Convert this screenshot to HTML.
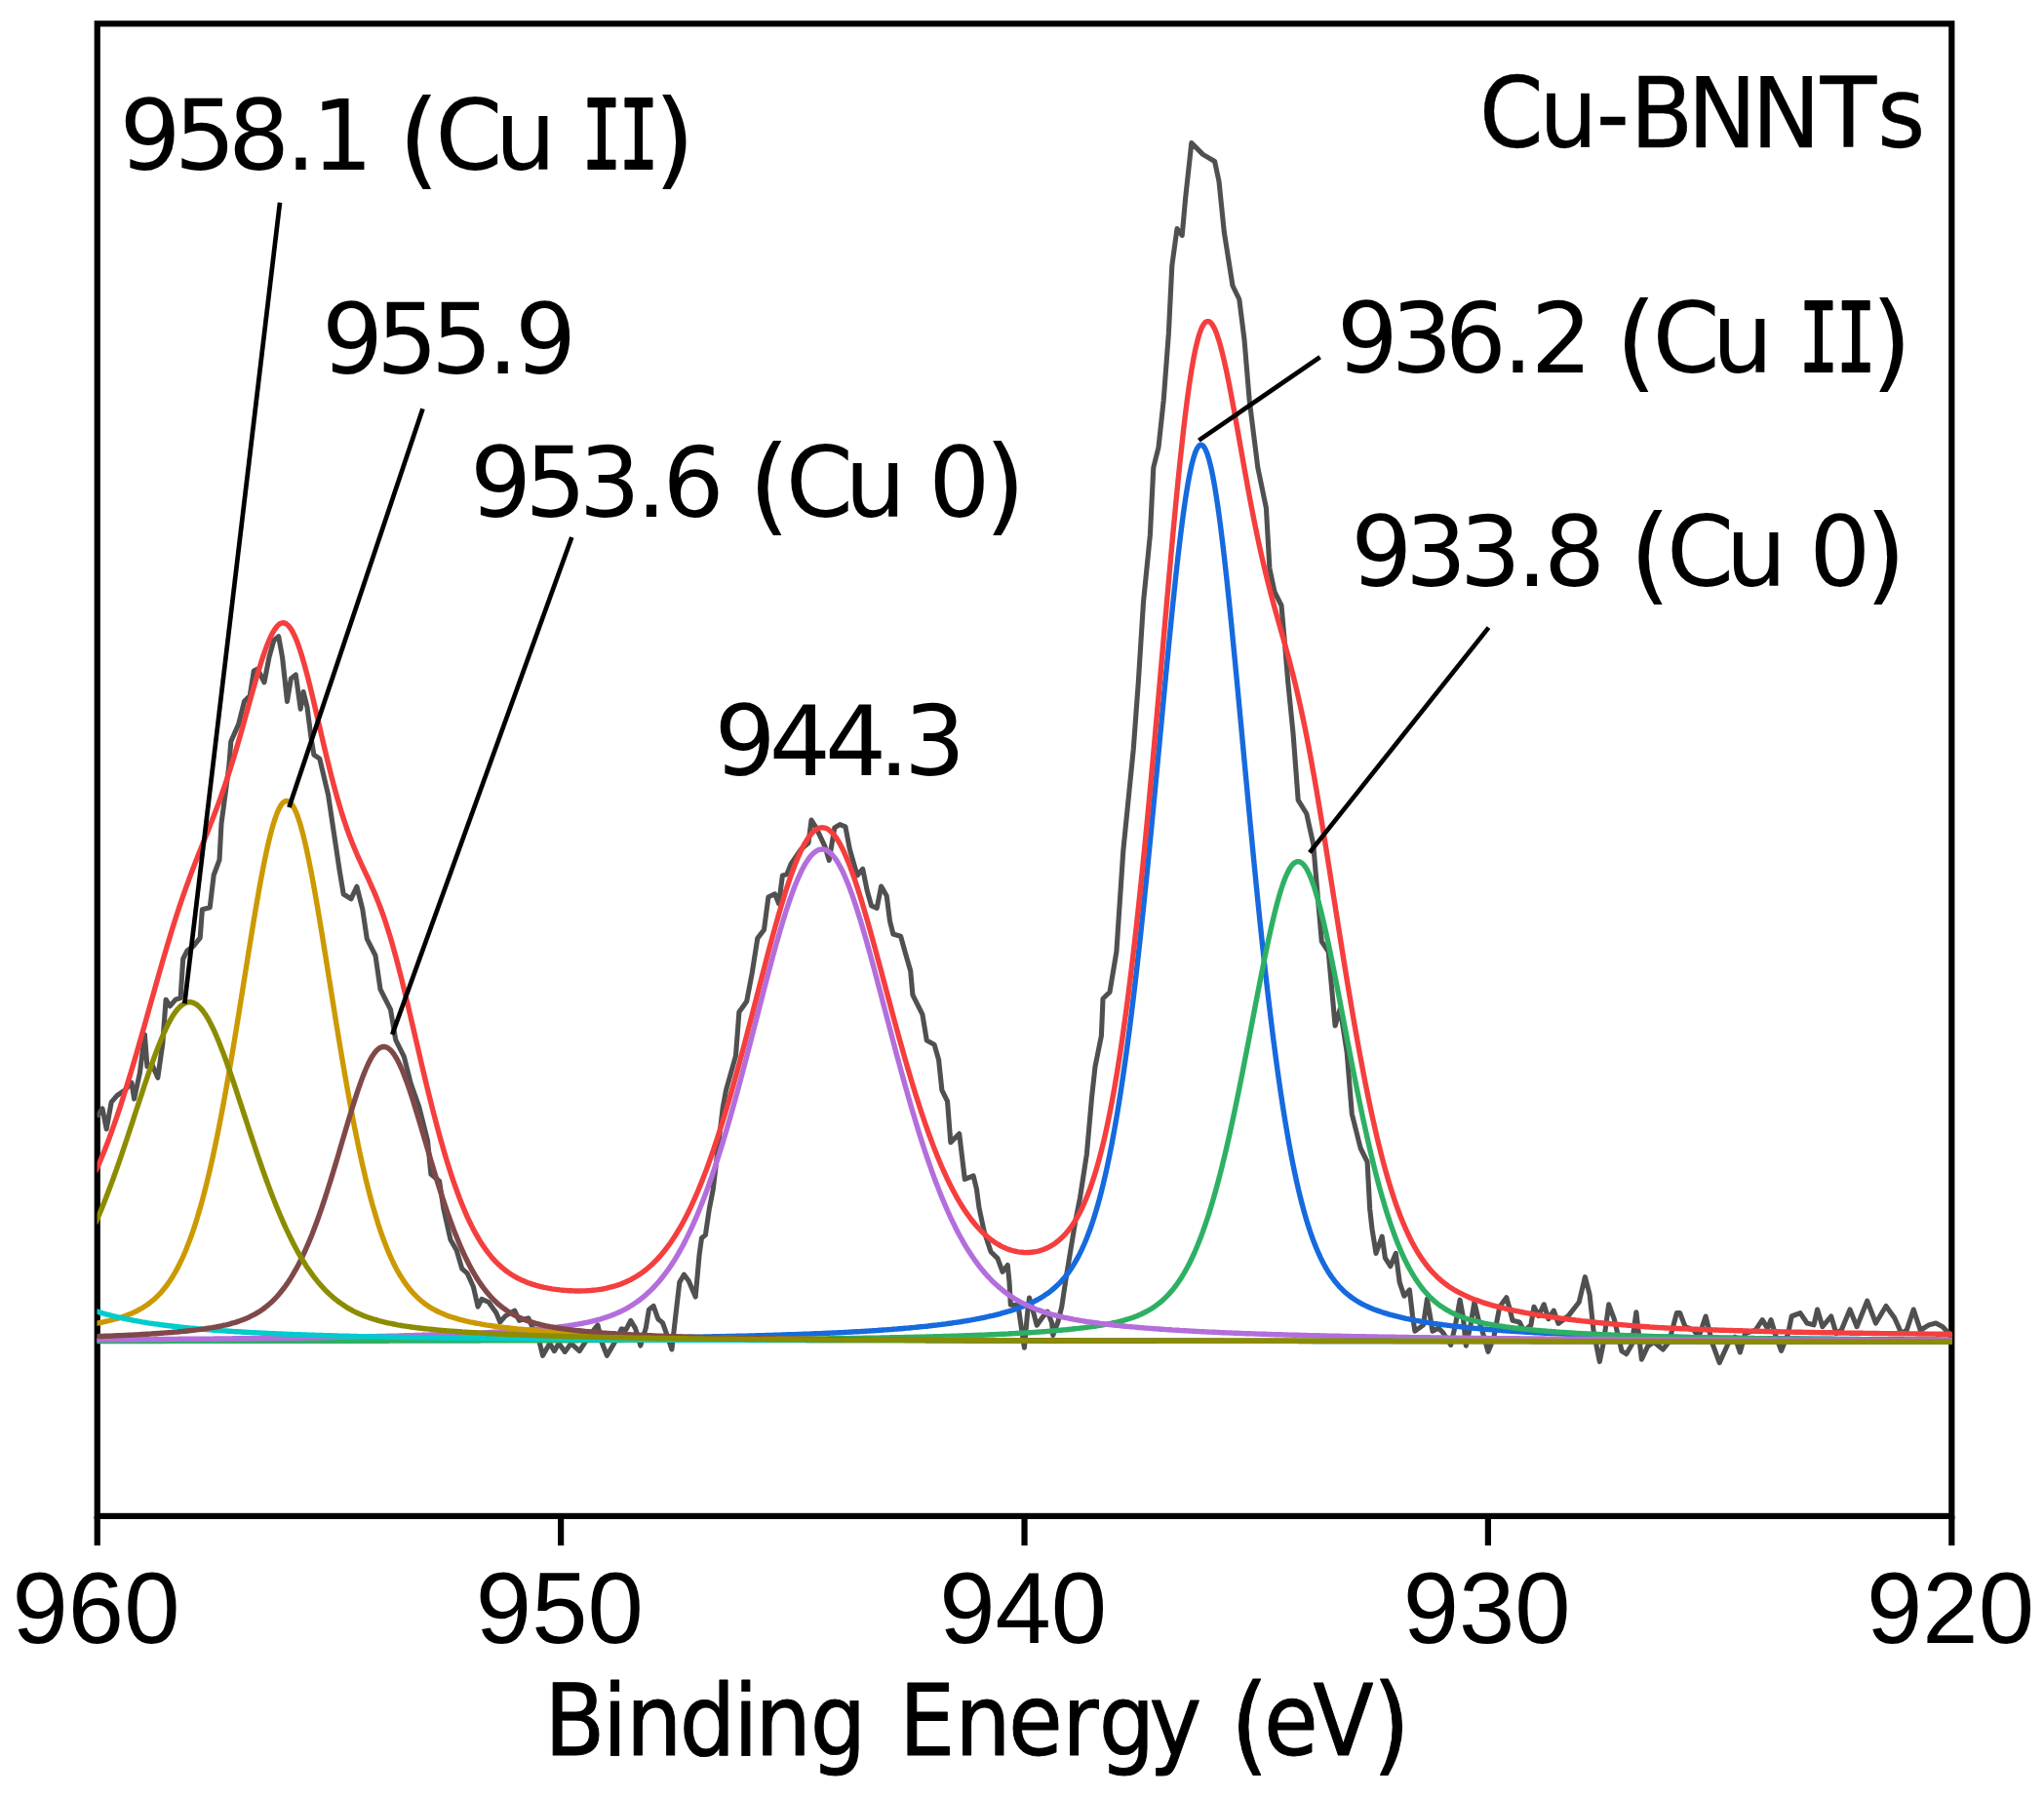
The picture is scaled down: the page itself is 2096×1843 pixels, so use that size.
<!DOCTYPE html>
<html lang="en"><head><meta charset="utf-8"><title>Cu-BNNTs XPS Cu 2p</title>
<style>
html,body{margin:0;padding:0;background:#fff;}
svg{display:block;}
.lab{font-family:"DejaVu Sans","Liberation Sans",sans-serif;fill:#000;stroke:#000;stroke-width:0;stroke-linejoin:round;}
.tick{font-family:"Liberation Sans",Arial,sans-serif;fill:#000;}
.c{fill:none;stroke-width:5.4;stroke-linejoin:round;stroke-linecap:butt;}
.a{stroke:#000;stroke-width:4.7;fill:none;}
</style></head><body>
<svg width="2096" height="1843" viewBox="0 0 2096 1843">
<rect width="2096" height="1843" fill="#ffffff"/>
<defs><clipPath id="plot"><rect x="99.5" y="23" width="1902.7" height="1532"/></clipPath></defs>

<g stroke="#000" fill="none" stroke-width="6.2">
<rect x="99.75" y="24.30" width="1901.55" height="1530.60"/>
<line x1="99.75" y1="1554.9" x2="99.75" y2="1585.1"/>
<line x1="575.14" y1="1554.9" x2="575.14" y2="1585.1"/>
<line x1="1050.53" y1="1554.9" x2="1050.53" y2="1585.1"/>
<line x1="1525.91" y1="1554.9" x2="1525.91" y2="1585.1"/>
<line x1="2001.30" y1="1554.9" x2="2001.30" y2="1585.1"/>
</g>
<g clip-path="url(#plot)">
<path class="c" stroke="#505050" style="stroke-width:5.1" d="M99.2 1145.4 L105.0 1137.0 L109.2 1158.0 L114.2 1130.4 L120.0 1123.7 L128.0 1118.0 L135.0 1110.4 L137.6 1127.0 L143.4 1100.3 L148.4 1061.0 L150.9 1093.7 L156.0 1092.0 L161.8 1105.3 L166.8 1070.3 L170.1 1025.2 L174.3 1031.9 L180.1 1025.2 L185.1 1023.5 L187.7 983.5 L192.0 975.0 L198.5 970.1 L205.2 961.8 L207.4 932.7 L215.2 930.7 L219.2 897.5 L225.0 881.8 L227.0 844.6 L230.9 815.3 L234.8 785.9 L236.8 760.5 L244.6 742.9 L250.5 719.4 L256.3 713.5 L260.3 688.0 L264.2 686.1 L271.0 699.8 L275.9 674.4 L280.8 656.8 L285.7 652.8 L289.6 674.4 L294.5 719.4 L298.4 695.9 L303.3 692.0 L308.2 727.2 L311.1 709.6 L315.0 725.2 L319.0 756.6 L321.9 774.2 L327.8 778.1 L336.6 815.3 L342.4 854.4 L348.3 893.5 L352.2 917.0 L360.0 921.9 L365.9 909.2 L371.8 932.7 L376.3 962.8 L385.0 980.0 L390.0 1014.6 L400.5 1035.3 L405.7 1066.3 L414.3 1083.6 L421.2 1111.2 L429.8 1135.3 L438.5 1169.8 L441.9 1204.3 L450.5 1211.2 L454.9 1240.0 L461.9 1271.3 L468.2 1282.3 L473.7 1301.1 L479.1 1305.8 L485.4 1319.8 L490.1 1340.2 L494.0 1332.4 L501.1 1335.5 L508.9 1346.5 L512.8 1355.9 L518.3 1349.6 L527.7 1344.1 L532.4 1354.3 L541.8 1351.9 L546.5 1362.1 L552.7 1374.6 L556.6 1390.3 L563.7 1377.8 L568.4 1385.6 L573.1 1377.8 L579.3 1386.4 L585.6 1377.8 L594.2 1385.6 L601.3 1374.6 L609.1 1363.7 L613.0 1359.0 L616.9 1376.2 L622.4 1390.3 L627.9 1380.9 L634.1 1369.9 L637.3 1362.9 L642.0 1363.7 L646.7 1354.3 L651.4 1362.1 L656.8 1380.1 L662.3 1362.1 L665.4 1343.3 L670.1 1339.4 L674.8 1352.7 L679.5 1356.6 L684.2 1369.9 L688.9 1384.0 L692.8 1349.6 L696.8 1315.1 L701.4 1307.3 L706.1 1313.6 L713.2 1330.0 L717.1 1287.0 L719.5 1269.7 L723.4 1266.6 L727.3 1240.0 L731.2 1219.9 L741.2 1136.0 L744.5 1118.2 L754.5 1082.6 L757.9 1038.0 L765.7 1027.0 L771.2 998.0 L776.8 962.4 L783.5 953.5 L787.9 920.0 L794.6 916.8 L798.6 926.8 L802.4 897.9 L806.8 896.8 L811.3 885.6 L821.3 871.2 L829.0 864.5 L832.0 841.1 L836.9 848.9 L845.8 867.8 L850.2 882.3 L855.8 848.9 L861.3 845.6 L866.9 847.8 L871.4 871.2 L879.1 897.9 L884.7 891.2 L889.2 913.5 L893.6 929.0 L899.2 931.3 L903.6 909.0 L909.2 918.8 L912.5 944.6 L915.9 958.0 L923.6 960.2 L929.2 980.2 L933.7 995.8 L935.9 1020.3 L945.9 1040.3 L950.3 1067.0 L958.1 1071.4 L962.6 1087.0 L965.9 1118.2 L971.5 1129.3 L974.8 1171.6 L983.7 1162.7 L989.3 1209.4 L998.2 1206.0 L1001.5 1219.9 L1004.0 1238.8 L1009.2 1263.0 L1016.0 1283.7 L1023.0 1290.6 L1028.0 1304.4 L1033.3 1297.5 L1035.0 1314.4 L1036.3 1338.1 L1044.0 1338.7 L1046.6 1356.6 L1050.4 1382.2 L1053.6 1346.4 L1055.5 1331.0 L1058.1 1340.0 L1063.2 1359.2 L1069.6 1350.2 L1074.1 1345.1 L1078.6 1356.6 L1079.8 1369.4 L1085.0 1355.4 L1088.8 1340.0 L1092.6 1314.4 L1097.8 1282.4 L1102.9 1251.7 L1107.5 1228.5 L1114.4 1183.6 L1119.6 1125.0 L1123.0 1094.0 L1129.4 1062.2 L1131.0 1024.3 L1138.0 1017.4 L1144.9 976.0 L1151.8 872.5 L1157.0 820.7 L1162.2 769.0 L1167.3 700.0 L1172.5 617.5 L1179.4 548.5 L1182.8 479.5 L1188.0 458.8 L1193.2 410.5 L1198.4 341.5 L1201.8 272.5 L1207.0 234.5 L1212.2 241.4 L1215.6 203.5 L1221.8 146.6 L1233.5 158.4 L1245.6 165.5 L1250.0 186.0 L1255.3 238.0 L1264.0 293.0 L1270.8 307.0 L1276.0 348.4 L1281.2 410.5 L1289.8 479.5 L1298.4 520.9 L1301.9 583.0 L1307.0 607.0 L1314.0 621.0 L1317.4 659.0 L1320.8 700.0 L1326.0 751.7 L1331.2 820.7 L1339.8 834.5 L1346.7 865.6 L1350.2 907.0 L1355.3 965.6 L1362.2 976.0 L1369.1 1051.9 L1374.3 1034.6 L1381.2 1079.5 L1386.3 1142.3 L1395.1 1177.5 L1402.1 1191.6 L1404.7 1240.0 L1407.0 1260.4 L1411.0 1285.4 L1417.2 1268.2 L1420.4 1290.1 L1425.8 1298.7 L1431.3 1285.4 L1435.2 1315.1 L1439.9 1329.2 L1445.4 1323.0 L1448.5 1349.6 L1450.9 1365.2 L1459.5 1359.0 L1463.4 1332.4 L1466.5 1349.6 L1468.9 1365.2 L1475.1 1362.1 L1479.8 1366.8 L1487.7 1379.3 L1492.4 1359.0 L1497.1 1333.2 L1500.2 1349.6 L1503.3 1380.1 L1508.0 1359.0 L1511.9 1335.5 L1515.9 1352.7 L1520.5 1366.8 L1526.0 1386.4 L1531.5 1373.1 L1537.8 1340.2 L1544.8 1330.8 L1547.9 1341.8 L1551.1 1354.3 L1558.1 1355.9 L1562.8 1365.2 L1569.9 1359.0 L1573.0 1340.2 L1577.7 1349.6 L1583.2 1337.8 L1587.9 1352.7 L1593.3 1344.1 L1598.0 1357.4 L1608.2 1349.6 L1619.2 1335.5 L1625.4 1309.7 L1630.1 1327.7 L1634.1 1365.2 L1640.3 1396.6 L1644.2 1377.8 L1649.7 1337.8 L1655.2 1352.7 L1663.0 1385.6 L1667.7 1388.7 L1673.2 1379.3 L1677.9 1345.7 L1683.4 1394.2 L1689.6 1380.9 L1695.9 1376.2 L1705.3 1384.0 L1711.5 1376.2 L1719.4 1346.5 L1722.7 1346.6 L1728.0 1360.7 L1736.8 1364.2 L1742.0 1371.2 L1749.1 1350.0 L1756.1 1378.3 L1763.2 1397.6 L1772.0 1378.3 L1779.0 1371.2 L1784.3 1387.0 L1789.6 1367.7 L1800.2 1364.2 L1807.2 1353.6 L1812.5 1362.4 L1816.0 1353.6 L1821.3 1371.2 L1826.6 1385.3 L1833.6 1367.7 L1837.2 1350.0 L1846.0 1346.6 L1853.0 1357.0 L1860.0 1358.9 L1863.6 1343.0 L1868.9 1360.7 L1877.7 1350.0 L1883.0 1367.7 L1888.2 1364.2 L1897.0 1343.0 L1904.1 1360.7 L1914.7 1334.2 L1923.5 1357.0 L1934.0 1339.5 L1942.8 1351.8 L1949.9 1367.7 L1955.2 1364.2 L1962.2 1343.0 L1969.2 1364.2 L1978.0 1358.9 L1985.1 1357.0 L1992.1 1360.7 L2002.0 1371.2"/>
<path class="c" stroke="#166ADE" d="M97.8 1375.0 L99.8 1375.0 L101.8 1375.0 L103.8 1375.0 L105.8 1375.0 L107.8 1375.0 L109.8 1375.0 L111.8 1375.0 L113.8 1375.0 L115.8 1375.0 L117.8 1374.9 L119.8 1374.9 L121.8 1374.9 L123.8 1374.9 L125.8 1374.9 L127.8 1374.9 L129.8 1374.9 L131.8 1374.9 L133.8 1374.9 L135.8 1374.9 L137.8 1374.9 L139.8 1374.9 L141.8 1374.9 L143.8 1374.9 L145.8 1374.9 L147.8 1374.9 L149.8 1374.9 L151.8 1374.9 L153.8 1374.9 L155.8 1374.9 L157.8 1374.9 L159.8 1374.9 L161.8 1374.9 L163.8 1374.9 L165.8 1374.9 L167.8 1374.8 L169.8 1374.8 L171.8 1374.8 L173.8 1374.8 L175.8 1374.8 L177.8 1374.8 L179.8 1374.8 L181.8 1374.8 L183.8 1374.8 L185.8 1374.8 L187.8 1374.8 L189.8 1374.8 L191.8 1374.8 L193.8 1374.8 L195.8 1374.8 L197.8 1374.8 L199.8 1374.8 L201.8 1374.8 L203.8 1374.8 L205.8 1374.8 L207.8 1374.8 L209.8 1374.8 L211.8 1374.7 L213.8 1374.7 L215.8 1374.7 L217.8 1374.7 L219.8 1374.7 L221.8 1374.7 L223.8 1374.7 L225.8 1374.7 L227.8 1374.7 L229.8 1374.7 L231.8 1374.7 L233.8 1374.7 L235.8 1374.7 L237.8 1374.7 L239.8 1374.7 L241.8 1374.7 L243.8 1374.7 L245.8 1374.7 L247.8 1374.7 L249.8 1374.6 L251.8 1374.6 L253.8 1374.6 L255.8 1374.6 L257.8 1374.6 L259.8 1374.6 L261.8 1374.6 L263.8 1374.6 L265.8 1374.6 L267.8 1374.6 L269.8 1374.6 L271.8 1374.6 L273.8 1374.6 L275.8 1374.6 L277.8 1374.6 L279.8 1374.6 L281.8 1374.6 L283.8 1374.5 L285.8 1374.5 L287.8 1374.5 L289.8 1374.5 L291.8 1374.5 L293.8 1374.5 L295.8 1374.5 L297.8 1374.5 L299.8 1374.5 L301.8 1374.5 L303.8 1374.5 L305.8 1374.5 L307.8 1374.5 L309.8 1374.5 L311.8 1374.5 L313.8 1374.5 L315.8 1374.4 L317.8 1374.4 L319.8 1374.4 L321.8 1374.4 L323.8 1374.4 L325.8 1374.4 L327.8 1374.4 L329.8 1374.4 L331.8 1374.4 L333.8 1374.4 L335.8 1374.4 L337.8 1374.4 L339.8 1374.4 L341.8 1374.4 L343.8 1374.3 L345.8 1374.3 L347.8 1374.3 L349.8 1374.3 L351.8 1374.3 L353.8 1374.3 L355.8 1374.3 L357.8 1374.3 L359.8 1374.3 L361.8 1374.3 L363.8 1374.3 L365.8 1374.3 L367.8 1374.3 L369.8 1374.2 L371.8 1374.2 L373.8 1374.2 L375.8 1374.2 L377.8 1374.2 L379.8 1374.2 L381.8 1374.2 L383.8 1374.2 L385.8 1374.2 L387.8 1374.2 L389.8 1374.2 L391.8 1374.2 L393.8 1374.1 L395.8 1374.1 L397.8 1374.1 L399.8 1374.1 L401.8 1374.1 L403.8 1374.1 L405.8 1374.1 L407.8 1374.1 L409.8 1374.1 L411.8 1374.1 L413.8 1374.1 L415.8 1374.0 L417.8 1374.0 L419.8 1374.0 L421.8 1374.0 L423.8 1374.0 L425.8 1374.0 L427.8 1374.0 L429.8 1374.0 L431.8 1374.0 L433.8 1374.0 L435.8 1373.9 L437.8 1373.9 L439.8 1373.9 L441.8 1373.9 L443.8 1373.9 L445.8 1373.9 L447.8 1373.9 L449.8 1373.9 L451.8 1373.9 L453.8 1373.8 L455.8 1373.8 L457.8 1373.8 L459.8 1373.8 L461.8 1373.8 L463.8 1373.8 L465.8 1373.8 L467.8 1373.8 L469.8 1373.8 L471.8 1373.7 L473.8 1373.7 L475.8 1373.7 L477.8 1373.7 L479.8 1373.7 L481.8 1373.7 L483.8 1373.7 L485.8 1373.7 L487.8 1373.7 L489.8 1373.6 L491.8 1373.6 L493.8 1373.6 L495.8 1373.6 L497.8 1373.6 L499.8 1373.6 L501.8 1373.6 L503.8 1373.5 L505.8 1373.5 L507.8 1373.5 L509.8 1373.5 L511.8 1373.5 L513.8 1373.5 L515.8 1373.5 L517.8 1373.4 L519.8 1373.4 L521.8 1373.4 L523.8 1373.4 L525.8 1373.4 L527.8 1373.4 L529.8 1373.4 L531.8 1373.3 L533.8 1373.3 L535.8 1373.3 L537.8 1373.3 L539.8 1373.3 L541.8 1373.3 L543.8 1373.3 L545.8 1373.2 L547.8 1373.2 L549.8 1373.2 L551.8 1373.2 L553.8 1373.2 L555.8 1373.2 L557.8 1373.1 L559.8 1373.1 L561.8 1373.1 L563.8 1373.1 L565.8 1373.1 L567.8 1373.1 L569.8 1373.0 L571.8 1373.0 L573.8 1373.0 L575.8 1373.0 L577.8 1373.0 L579.8 1372.9 L581.8 1372.9 L583.8 1372.9 L585.8 1372.9 L587.8 1372.9 L589.8 1372.9 L591.8 1372.8 L593.8 1372.8 L595.8 1372.8 L597.8 1372.8 L599.8 1372.8 L601.8 1372.7 L603.8 1372.7 L605.8 1372.7 L607.8 1372.7 L609.8 1372.6 L611.8 1372.6 L613.8 1372.6 L615.8 1372.6 L617.8 1372.6 L619.8 1372.5 L621.8 1372.5 L623.8 1372.5 L625.8 1372.5 L627.8 1372.4 L629.8 1372.4 L631.8 1372.4 L633.8 1372.4 L635.8 1372.3 L637.8 1372.3 L639.8 1372.3 L641.8 1372.3 L643.8 1372.3 L645.8 1372.2 L647.8 1372.2 L649.8 1372.2 L651.8 1372.1 L653.8 1372.1 L655.8 1372.1 L657.8 1372.1 L659.8 1372.0 L661.8 1372.0 L663.8 1372.0 L665.8 1372.0 L667.8 1371.9 L669.8 1371.9 L671.8 1371.9 L673.8 1371.8 L675.8 1371.8 L677.8 1371.8 L679.8 1371.8 L681.8 1371.7 L683.8 1371.7 L685.8 1371.7 L687.8 1371.6 L689.8 1371.6 L691.8 1371.6 L693.8 1371.5 L695.8 1371.5 L697.8 1371.5 L699.8 1371.4 L701.8 1371.4 L703.8 1371.4 L705.8 1371.3 L707.8 1371.3 L709.8 1371.3 L711.8 1371.2 L713.8 1371.2 L715.8 1371.1 L717.8 1371.1 L719.8 1371.1 L721.8 1371.0 L723.8 1371.0 L725.8 1371.0 L727.8 1370.9 L729.8 1370.9 L731.8 1370.8 L733.8 1370.8 L735.8 1370.7 L737.8 1370.7 L739.8 1370.7 L741.8 1370.6 L743.8 1370.6 L745.8 1370.5 L747.8 1370.5 L749.8 1370.4 L751.8 1370.4 L753.8 1370.4 L755.8 1370.3 L757.8 1370.3 L759.8 1370.2 L761.8 1370.2 L763.8 1370.1 L765.8 1370.1 L767.8 1370.0 L769.8 1370.0 L771.8 1369.9 L773.8 1369.9 L775.8 1369.8 L777.8 1369.7 L779.8 1369.7 L781.8 1369.6 L783.8 1369.6 L785.8 1369.5 L787.8 1369.5 L789.8 1369.4 L791.8 1369.4 L793.8 1369.3 L795.8 1369.2 L797.8 1369.2 L799.8 1369.1 L801.8 1369.0 L803.8 1369.0 L805.8 1368.9 L807.8 1368.8 L809.8 1368.8 L811.8 1368.7 L813.8 1368.6 L815.8 1368.6 L817.8 1368.5 L819.8 1368.4 L821.8 1368.4 L823.8 1368.3 L825.8 1368.2 L827.8 1368.1 L829.8 1368.1 L831.8 1368.0 L833.8 1367.9 L835.8 1367.8 L837.8 1367.7 L839.8 1367.7 L841.8 1367.6 L843.8 1367.5 L845.8 1367.4 L847.8 1367.3 L849.8 1367.2 L851.8 1367.1 L853.8 1367.0 L855.8 1367.0 L857.8 1366.9 L859.8 1366.8 L861.8 1366.7 L863.8 1366.6 L865.8 1366.5 L867.8 1366.4 L869.8 1366.3 L871.8 1366.1 L873.8 1366.0 L875.8 1365.9 L877.8 1365.8 L879.8 1365.7 L881.8 1365.6 L883.8 1365.5 L885.8 1365.4 L887.8 1365.2 L889.8 1365.1 L891.8 1365.0 L893.8 1364.9 L895.8 1364.7 L897.8 1364.6 L899.8 1364.5 L901.8 1364.3 L903.8 1364.2 L905.8 1364.0 L907.8 1363.9 L909.8 1363.8 L911.8 1363.6 L913.8 1363.5 L915.8 1363.3 L917.8 1363.1 L919.8 1363.0 L921.8 1362.8 L923.8 1362.7 L925.8 1362.5 L927.8 1362.3 L929.8 1362.1 L931.8 1362.0 L933.8 1361.8 L935.8 1361.6 L937.8 1361.4 L939.8 1361.2 L941.8 1361.0 L943.8 1360.8 L945.8 1360.6 L947.8 1360.4 L949.8 1360.2 L951.8 1360.0 L953.8 1359.7 L955.8 1359.5 L957.8 1359.3 L959.8 1359.1 L961.8 1358.8 L963.8 1358.6 L965.8 1358.3 L967.8 1358.1 L969.8 1357.8 L971.8 1357.5 L973.8 1357.2 L975.8 1357.0 L977.8 1356.7 L979.8 1356.4 L981.8 1356.1 L983.8 1355.8 L985.8 1355.5 L987.8 1355.1 L989.8 1354.8 L991.8 1354.5 L993.8 1354.1 L995.8 1353.8 L997.8 1353.4 L999.8 1353.1 L1001.8 1352.7 L1003.8 1352.3 L1005.8 1351.9 L1007.8 1351.5 L1009.8 1351.1 L1011.8 1350.6 L1013.8 1350.2 L1015.8 1349.7 L1017.8 1349.3 L1019.8 1348.8 L1021.8 1348.3 L1023.8 1347.8 L1025.8 1347.3 L1027.8 1346.7 L1029.8 1346.2 L1031.8 1345.6 L1033.8 1345.0 L1035.8 1344.4 L1037.8 1343.8 L1039.8 1343.1 L1041.8 1342.5 L1043.8 1341.8 L1045.8 1341.0 L1047.8 1340.3 L1049.8 1339.5 L1051.8 1338.7 L1053.8 1337.8 L1055.8 1336.9 L1057.8 1336.0 L1059.8 1335.1 L1061.8 1334.0 L1063.8 1333.0 L1065.8 1331.9 L1067.8 1330.7 L1069.8 1329.5 L1071.8 1328.1 L1073.8 1326.8 L1075.8 1325.3 L1077.8 1323.8 L1079.8 1322.1 L1081.8 1320.4 L1083.8 1318.6 L1085.8 1316.6 L1087.8 1314.6 L1089.8 1312.3 L1091.8 1310.0 L1093.8 1307.5 L1095.8 1304.8 L1097.8 1302.0 L1099.8 1298.9 L1101.8 1295.7 L1103.8 1292.2 L1105.8 1288.6 L1107.8 1284.6 L1109.8 1280.4 L1111.8 1276.0 L1113.8 1271.2 L1115.8 1266.1 L1117.8 1260.7 L1119.8 1255.0 L1121.8 1248.8 L1123.8 1242.4 L1125.8 1235.5 L1127.8 1228.2 L1129.8 1220.4 L1131.8 1212.2 L1133.8 1203.6 L1135.8 1194.5 L1137.8 1184.8 L1139.8 1174.7 L1141.8 1164.0 L1143.8 1152.8 L1145.8 1141.1 L1147.8 1128.8 L1149.8 1115.9 L1151.8 1102.5 L1153.8 1088.5 L1155.8 1074.0 L1157.8 1058.8 L1159.8 1043.1 L1161.8 1026.9 L1163.8 1010.1 L1165.8 992.8 L1167.8 974.9 L1169.8 956.6 L1171.8 937.8 L1173.8 918.5 L1175.8 898.9 L1177.8 878.8 L1179.8 858.4 L1181.8 837.8 L1183.8 816.8 L1185.8 795.7 L1187.8 774.5 L1189.8 753.2 L1191.8 731.9 L1193.8 710.7 L1195.8 689.7 L1197.8 668.9 L1199.8 648.5 L1201.8 628.5 L1203.8 609.1 L1205.8 590.3 L1207.8 572.3 L1209.8 555.2 L1211.8 539.1 L1213.8 524.1 L1215.8 510.4 L1217.8 498.0 L1219.8 487.0 L1221.8 477.6 L1223.8 469.8 L1225.8 463.7 L1227.8 459.4 L1229.8 456.9 L1231.8 456.2 L1233.8 457.3 L1235.8 460.2 L1237.8 464.9 L1239.8 471.3 L1241.8 479.3 L1243.8 488.9 L1245.8 500.0 L1247.8 512.6 L1249.8 526.4 L1251.8 541.5 L1253.8 557.6 L1255.8 574.8 L1257.8 592.8 L1259.8 611.6 L1261.8 631.1 L1263.8 651.2 L1265.8 671.7 L1267.8 692.5 L1269.8 713.7 L1271.8 735.0 L1273.8 756.4 L1275.8 777.9 L1277.8 799.3 L1279.8 820.6 L1281.8 841.7 L1283.8 862.6 L1285.8 883.3 L1287.8 903.6 L1289.8 923.5 L1291.8 943.0 L1293.8 962.1 L1295.8 980.8 L1297.8 998.9 L1299.8 1016.5 L1301.8 1033.5 L1303.8 1050.0 L1305.8 1066.0 L1307.8 1081.3 L1309.8 1096.1 L1311.8 1110.3 L1313.8 1124.0 L1315.8 1137.0 L1317.8 1149.5 L1319.8 1161.3 L1321.8 1172.7 L1323.8 1183.4 L1325.8 1193.7 L1327.8 1203.4 L1329.8 1212.6 L1331.8 1221.3 L1333.8 1229.5 L1335.8 1237.2 L1337.8 1244.6 L1339.8 1251.4 L1341.8 1257.9 L1343.8 1264.0 L1345.8 1269.7 L1347.8 1275.0 L1349.8 1280.0 L1351.8 1284.7 L1353.8 1289.1 L1355.8 1293.2 L1357.8 1297.0 L1359.8 1300.6 L1361.8 1304.0 L1363.8 1307.1 L1365.8 1310.0 L1367.8 1312.7 L1369.8 1315.3 L1371.8 1317.6 L1373.8 1319.9 L1375.8 1321.9 L1377.8 1323.9 L1379.8 1325.7 L1381.8 1327.4 L1383.8 1329.0 L1385.8 1330.5 L1387.8 1331.9 L1389.8 1333.3 L1391.8 1334.5 L1393.8 1335.7 L1395.8 1336.8 L1397.8 1337.9 L1399.8 1338.9 L1401.8 1339.8 L1403.8 1340.7 L1405.8 1341.6 L1407.8 1342.4 L1409.8 1343.2 L1411.8 1343.9 L1413.8 1344.6 L1415.8 1345.3 L1417.8 1346.0 L1419.8 1346.6 L1421.8 1347.2 L1423.8 1347.8 L1425.8 1348.4 L1427.8 1348.9 L1429.8 1349.4 L1431.8 1349.9 L1433.8 1350.4 L1435.8 1350.9 L1437.8 1351.4 L1439.8 1351.8 L1441.8 1352.3 L1443.8 1352.7 L1445.8 1353.1 L1447.8 1353.5 L1449.8 1353.9 L1451.8 1354.3 L1453.8 1354.6 L1455.8 1355.0 L1457.8 1355.3 L1459.8 1355.7 L1461.8 1356.0 L1463.8 1356.3 L1465.8 1356.7 L1467.8 1357.0 L1469.8 1357.3 L1471.8 1357.6 L1473.8 1357.8 L1475.8 1358.1 L1477.8 1358.4 L1479.8 1358.7 L1481.8 1358.9 L1483.8 1359.2 L1485.8 1359.4 L1487.8 1359.7 L1489.8 1359.9 L1491.8 1360.2 L1493.8 1360.4 L1495.8 1360.6 L1497.8 1360.8 L1499.8 1361.0 L1501.8 1361.3 L1503.8 1361.5 L1505.8 1361.7 L1507.8 1361.9 L1509.8 1362.1 L1511.8 1362.3 L1513.8 1362.4 L1515.8 1362.6 L1517.8 1362.8 L1519.8 1363.0 L1521.8 1363.1 L1523.8 1363.3 L1525.8 1363.5 L1527.8 1363.6 L1529.8 1363.8 L1531.8 1364.0 L1533.8 1364.1 L1535.8 1364.3 L1537.8 1364.4 L1539.8 1364.6 L1541.8 1364.7 L1543.8 1364.8 L1545.8 1365.0 L1547.8 1365.1 L1549.8 1365.2 L1551.8 1365.4 L1553.8 1365.5 L1555.8 1365.6 L1557.8 1365.7 L1559.8 1365.9 L1561.8 1366.0 L1563.8 1366.1 L1565.8 1366.2 L1567.8 1366.3 L1569.8 1366.4 L1571.8 1366.6 L1573.8 1366.7 L1575.8 1366.8 L1577.8 1366.9 L1579.8 1367.0 L1581.8 1367.1 L1583.8 1367.2 L1585.8 1367.3 L1587.8 1367.4 L1589.8 1367.5 L1591.8 1367.5 L1593.8 1367.6 L1595.8 1367.7 L1597.8 1367.8 L1599.8 1367.9 L1601.8 1368.0 L1603.8 1368.1 L1605.8 1368.2 L1607.8 1368.2 L1609.8 1368.3 L1611.8 1368.4 L1613.8 1368.5 L1615.8 1368.5 L1617.8 1368.6 L1619.8 1368.7 L1621.8 1368.8 L1623.8 1368.8 L1625.8 1368.9 L1627.8 1369.0 L1629.8 1369.1 L1631.8 1369.1 L1633.8 1369.2 L1635.8 1369.3 L1637.8 1369.3 L1639.8 1369.4 L1641.8 1369.4 L1643.8 1369.5 L1645.8 1369.6 L1647.8 1369.6 L1649.8 1369.7 L1651.8 1369.7 L1653.8 1369.8 L1655.8 1369.9 L1657.8 1369.9 L1659.8 1370.0 L1661.8 1370.0 L1663.8 1370.1 L1665.8 1370.1 L1667.8 1370.2 L1669.8 1370.2 L1671.8 1370.3 L1673.8 1370.3 L1675.8 1370.4 L1677.8 1370.4 L1679.8 1370.5 L1681.8 1370.5 L1683.8 1370.6 L1685.8 1370.6 L1687.8 1370.7 L1689.8 1370.7 L1691.8 1370.8 L1693.8 1370.8 L1695.8 1370.9 L1697.8 1370.9 L1699.8 1370.9 L1701.8 1371.0 L1703.8 1371.0 L1705.8 1371.1 L1707.8 1371.1 L1709.8 1371.2 L1711.8 1371.2 L1713.8 1371.2 L1715.8 1371.3 L1717.8 1371.3 L1719.8 1371.3 L1721.8 1371.4 L1723.8 1371.4 L1725.8 1371.5 L1727.8 1371.5 L1729.8 1371.5 L1731.8 1371.6 L1733.8 1371.6 L1735.8 1371.6 L1737.8 1371.7 L1739.8 1371.7 L1741.8 1371.7 L1743.8 1371.8 L1745.8 1371.8 L1747.8 1371.8 L1749.8 1371.9 L1751.8 1371.9 L1753.8 1371.9 L1755.8 1372.0 L1757.8 1372.0 L1759.8 1372.0 L1761.8 1372.0 L1763.8 1372.1 L1765.8 1372.1 L1767.8 1372.1 L1769.8 1372.2 L1771.8 1372.2 L1773.8 1372.2 L1775.8 1372.2 L1777.8 1372.3 L1779.8 1372.3 L1781.8 1372.3 L1783.8 1372.4 L1785.8 1372.4 L1787.8 1372.4 L1789.8 1372.4 L1791.8 1372.5 L1793.8 1372.5 L1795.8 1372.5 L1797.8 1372.5 L1799.8 1372.6 L1801.8 1372.6 L1803.8 1372.6 L1805.8 1372.6 L1807.8 1372.6 L1809.8 1372.7 L1811.8 1372.7 L1813.8 1372.7 L1815.8 1372.7 L1817.8 1372.8 L1819.8 1372.8 L1821.8 1372.8 L1823.8 1372.8 L1825.8 1372.8 L1827.8 1372.9 L1829.8 1372.9 L1831.8 1372.9 L1833.8 1372.9 L1835.8 1372.9 L1837.8 1373.0 L1839.8 1373.0 L1841.8 1373.0 L1843.8 1373.0 L1845.8 1373.0 L1847.8 1373.1 L1849.8 1373.1 L1851.8 1373.1 L1853.8 1373.1 L1855.8 1373.1 L1857.8 1373.2 L1859.8 1373.2 L1861.8 1373.2 L1863.8 1373.2 L1865.8 1373.2 L1867.8 1373.2 L1869.8 1373.3 L1871.8 1373.3 L1873.8 1373.3 L1875.8 1373.3 L1877.8 1373.3 L1879.8 1373.3 L1881.8 1373.4 L1883.8 1373.4 L1885.8 1373.4 L1887.8 1373.4 L1889.8 1373.4 L1891.8 1373.4 L1893.8 1373.5 L1895.8 1373.5 L1897.8 1373.5 L1899.8 1373.5 L1901.8 1373.5 L1903.8 1373.5 L1905.8 1373.5 L1907.8 1373.6 L1909.8 1373.6 L1911.8 1373.6 L1913.8 1373.6 L1915.8 1373.6 L1917.8 1373.6 L1919.8 1373.6 L1921.8 1373.7 L1923.8 1373.7 L1925.8 1373.7 L1927.8 1373.7 L1929.8 1373.7 L1931.8 1373.7 L1933.8 1373.7 L1935.8 1373.7 L1937.8 1373.8 L1939.8 1373.8 L1941.8 1373.8 L1943.8 1373.8 L1945.8 1373.8 L1947.8 1373.8 L1949.8 1373.8 L1951.8 1373.8 L1953.8 1373.9 L1955.8 1373.9 L1957.8 1373.9 L1959.8 1373.9 L1961.8 1373.9 L1963.8 1373.9 L1965.8 1373.9 L1967.8 1373.9 L1969.8 1373.9 L1971.8 1374.0 L1973.8 1374.0 L1975.8 1374.0 L1977.8 1374.0 L1979.8 1374.0 L1981.8 1374.0 L1983.8 1374.0 L1985.8 1374.0 L1987.8 1374.0 L1989.8 1374.1 L1991.8 1374.1 L1993.8 1374.1 L1995.8 1374.1 L1997.8 1374.1 L1999.8 1374.1 L2001.8 1374.1"/>
<path class="c" stroke="#2EB064" d="M97.8 1375.5 L99.8 1375.5 L101.8 1375.5 L103.8 1375.5 L105.8 1375.5 L107.8 1375.5 L109.8 1375.5 L111.8 1375.5 L113.8 1375.5 L115.8 1375.5 L117.8 1375.5 L119.8 1375.5 L121.8 1375.5 L123.8 1375.5 L125.8 1375.5 L127.8 1375.5 L129.8 1375.5 L131.8 1375.5 L133.8 1375.5 L135.8 1375.5 L137.8 1375.5 L139.8 1375.5 L141.8 1375.5 L143.8 1375.5 L145.8 1375.5 L147.8 1375.5 L149.8 1375.5 L151.8 1375.5 L153.8 1375.5 L155.8 1375.5 L157.8 1375.5 L159.8 1375.5 L161.8 1375.5 L163.8 1375.5 L165.8 1375.5 L167.8 1375.5 L169.8 1375.5 L171.8 1375.4 L173.8 1375.4 L175.8 1375.4 L177.8 1375.4 L179.8 1375.4 L181.8 1375.4 L183.8 1375.4 L185.8 1375.4 L187.8 1375.4 L189.8 1375.4 L191.8 1375.4 L193.8 1375.4 L195.8 1375.4 L197.8 1375.4 L199.8 1375.4 L201.8 1375.4 L203.8 1375.4 L205.8 1375.4 L207.8 1375.4 L209.8 1375.4 L211.8 1375.4 L213.8 1375.4 L215.8 1375.4 L217.8 1375.4 L219.8 1375.4 L221.8 1375.4 L223.8 1375.4 L225.8 1375.4 L227.8 1375.4 L229.8 1375.4 L231.8 1375.4 L233.8 1375.4 L235.8 1375.4 L237.8 1375.4 L239.8 1375.4 L241.8 1375.4 L243.8 1375.4 L245.8 1375.4 L247.8 1375.4 L249.8 1375.4 L251.8 1375.4 L253.8 1375.4 L255.8 1375.4 L257.8 1375.4 L259.8 1375.4 L261.8 1375.4 L263.8 1375.4 L265.8 1375.3 L267.8 1375.3 L269.8 1375.3 L271.8 1375.3 L273.8 1375.3 L275.8 1375.3 L277.8 1375.3 L279.8 1375.3 L281.8 1375.3 L283.8 1375.3 L285.8 1375.3 L287.8 1375.3 L289.8 1375.3 L291.8 1375.3 L293.8 1375.3 L295.8 1375.3 L297.8 1375.3 L299.8 1375.3 L301.8 1375.3 L303.8 1375.3 L305.8 1375.3 L307.8 1375.3 L309.8 1375.3 L311.8 1375.3 L313.8 1375.3 L315.8 1375.3 L317.8 1375.3 L319.8 1375.3 L321.8 1375.3 L323.8 1375.3 L325.8 1375.3 L327.8 1375.3 L329.8 1375.3 L331.8 1375.3 L333.8 1375.3 L335.8 1375.3 L337.8 1375.3 L339.8 1375.2 L341.8 1375.2 L343.8 1375.2 L345.8 1375.2 L347.8 1375.2 L349.8 1375.2 L351.8 1375.2 L353.8 1375.2 L355.8 1375.2 L357.8 1375.2 L359.8 1375.2 L361.8 1375.2 L363.8 1375.2 L365.8 1375.2 L367.8 1375.2 L369.8 1375.2 L371.8 1375.2 L373.8 1375.2 L375.8 1375.2 L377.8 1375.2 L379.8 1375.2 L381.8 1375.2 L383.8 1375.2 L385.8 1375.2 L387.8 1375.2 L389.8 1375.2 L391.8 1375.2 L393.8 1375.2 L395.8 1375.2 L397.8 1375.2 L399.8 1375.1 L401.8 1375.1 L403.8 1375.1 L405.8 1375.1 L407.8 1375.1 L409.8 1375.1 L411.8 1375.1 L413.8 1375.1 L415.8 1375.1 L417.8 1375.1 L419.8 1375.1 L421.8 1375.1 L423.8 1375.1 L425.8 1375.1 L427.8 1375.1 L429.8 1375.1 L431.8 1375.1 L433.8 1375.1 L435.8 1375.1 L437.8 1375.1 L439.8 1375.1 L441.8 1375.1 L443.8 1375.1 L445.8 1375.1 L447.8 1375.1 L449.8 1375.0 L451.8 1375.0 L453.8 1375.0 L455.8 1375.0 L457.8 1375.0 L459.8 1375.0 L461.8 1375.0 L463.8 1375.0 L465.8 1375.0 L467.8 1375.0 L469.8 1375.0 L471.8 1375.0 L473.8 1375.0 L475.8 1375.0 L477.8 1375.0 L479.8 1375.0 L481.8 1375.0 L483.8 1375.0 L485.8 1375.0 L487.8 1375.0 L489.8 1375.0 L491.8 1375.0 L493.8 1374.9 L495.8 1374.9 L497.8 1374.9 L499.8 1374.9 L501.8 1374.9 L503.8 1374.9 L505.8 1374.9 L507.8 1374.9 L509.8 1374.9 L511.8 1374.9 L513.8 1374.9 L515.8 1374.9 L517.8 1374.9 L519.8 1374.9 L521.8 1374.9 L523.8 1374.9 L525.8 1374.9 L527.8 1374.9 L529.8 1374.9 L531.8 1374.8 L533.8 1374.8 L535.8 1374.8 L537.8 1374.8 L539.8 1374.8 L541.8 1374.8 L543.8 1374.8 L545.8 1374.8 L547.8 1374.8 L549.8 1374.8 L551.8 1374.8 L553.8 1374.8 L555.8 1374.8 L557.8 1374.8 L559.8 1374.8 L561.8 1374.8 L563.8 1374.7 L565.8 1374.7 L567.8 1374.7 L569.8 1374.7 L571.8 1374.7 L573.8 1374.7 L575.8 1374.7 L577.8 1374.7 L579.8 1374.7 L581.8 1374.7 L583.8 1374.7 L585.8 1374.7 L587.8 1374.7 L589.8 1374.7 L591.8 1374.7 L593.8 1374.6 L595.8 1374.6 L597.8 1374.6 L599.8 1374.6 L601.8 1374.6 L603.8 1374.6 L605.8 1374.6 L607.8 1374.6 L609.8 1374.6 L611.8 1374.6 L613.8 1374.6 L615.8 1374.6 L617.8 1374.6 L619.8 1374.5 L621.8 1374.5 L623.8 1374.5 L625.8 1374.5 L627.8 1374.5 L629.8 1374.5 L631.8 1374.5 L633.8 1374.5 L635.8 1374.5 L637.8 1374.5 L639.8 1374.5 L641.8 1374.4 L643.8 1374.4 L645.8 1374.4 L647.8 1374.4 L649.8 1374.4 L651.8 1374.4 L653.8 1374.4 L655.8 1374.4 L657.8 1374.4 L659.8 1374.4 L661.8 1374.4 L663.8 1374.3 L665.8 1374.3 L667.8 1374.3 L669.8 1374.3 L671.8 1374.3 L673.8 1374.3 L675.8 1374.3 L677.8 1374.3 L679.8 1374.3 L681.8 1374.3 L683.8 1374.2 L685.8 1374.2 L687.8 1374.2 L689.8 1374.2 L691.8 1374.2 L693.8 1374.2 L695.8 1374.2 L697.8 1374.2 L699.8 1374.2 L701.8 1374.1 L703.8 1374.1 L705.8 1374.1 L707.8 1374.1 L709.8 1374.1 L711.8 1374.1 L713.8 1374.1 L715.8 1374.1 L717.8 1374.0 L719.8 1374.0 L721.8 1374.0 L723.8 1374.0 L725.8 1374.0 L727.8 1374.0 L729.8 1374.0 L731.8 1374.0 L733.8 1373.9 L735.8 1373.9 L737.8 1373.9 L739.8 1373.9 L741.8 1373.9 L743.8 1373.9 L745.8 1373.9 L747.8 1373.8 L749.8 1373.8 L751.8 1373.8 L753.8 1373.8 L755.8 1373.8 L757.8 1373.8 L759.8 1373.8 L761.8 1373.7 L763.8 1373.7 L765.8 1373.7 L767.8 1373.7 L769.8 1373.7 L771.8 1373.7 L773.8 1373.6 L775.8 1373.6 L777.8 1373.6 L779.8 1373.6 L781.8 1373.6 L783.8 1373.6 L785.8 1373.5 L787.8 1373.5 L789.8 1373.5 L791.8 1373.5 L793.8 1373.5 L795.8 1373.4 L797.8 1373.4 L799.8 1373.4 L801.8 1373.4 L803.8 1373.4 L805.8 1373.3 L807.8 1373.3 L809.8 1373.3 L811.8 1373.3 L813.8 1373.3 L815.8 1373.2 L817.8 1373.2 L819.8 1373.2 L821.8 1373.2 L823.8 1373.2 L825.8 1373.1 L827.8 1373.1 L829.8 1373.1 L831.8 1373.1 L833.8 1373.0 L835.8 1373.0 L837.8 1373.0 L839.8 1373.0 L841.8 1372.9 L843.8 1372.9 L845.8 1372.9 L847.8 1372.9 L849.8 1372.8 L851.8 1372.8 L853.8 1372.8 L855.8 1372.8 L857.8 1372.7 L859.8 1372.7 L861.8 1372.7 L863.8 1372.7 L865.8 1372.6 L867.8 1372.6 L869.8 1372.6 L871.8 1372.5 L873.8 1372.5 L875.8 1372.5 L877.8 1372.5 L879.8 1372.4 L881.8 1372.4 L883.8 1372.4 L885.8 1372.3 L887.8 1372.3 L889.8 1372.3 L891.8 1372.2 L893.8 1372.2 L895.8 1372.2 L897.8 1372.1 L899.8 1372.1 L901.8 1372.1 L903.8 1372.0 L905.8 1372.0 L907.8 1371.9 L909.8 1371.9 L911.8 1371.9 L913.8 1371.8 L915.8 1371.8 L917.8 1371.7 L919.8 1371.7 L921.8 1371.7 L923.8 1371.6 L925.8 1371.6 L927.8 1371.5 L929.8 1371.5 L931.8 1371.5 L933.8 1371.4 L935.8 1371.4 L937.8 1371.3 L939.8 1371.3 L941.8 1371.2 L943.8 1371.2 L945.8 1371.1 L947.8 1371.1 L949.8 1371.0 L951.8 1371.0 L953.8 1370.9 L955.8 1370.9 L957.8 1370.8 L959.8 1370.8 L961.8 1370.7 L963.8 1370.7 L965.8 1370.6 L967.8 1370.5 L969.8 1370.5 L971.8 1370.4 L973.8 1370.4 L975.8 1370.3 L977.8 1370.2 L979.8 1370.2 L981.8 1370.1 L983.8 1370.0 L985.8 1370.0 L987.8 1369.9 L989.8 1369.8 L991.8 1369.8 L993.8 1369.7 L995.8 1369.6 L997.8 1369.5 L999.8 1369.5 L1001.8 1369.4 L1003.8 1369.3 L1005.8 1369.2 L1007.8 1369.2 L1009.8 1369.1 L1011.8 1369.0 L1013.8 1368.9 L1015.8 1368.8 L1017.8 1368.7 L1019.8 1368.6 L1021.8 1368.5 L1023.8 1368.4 L1025.8 1368.4 L1027.8 1368.3 L1029.8 1368.2 L1031.8 1368.1 L1033.8 1368.0 L1035.8 1367.8 L1037.8 1367.7 L1039.8 1367.6 L1041.8 1367.5 L1043.8 1367.4 L1045.8 1367.3 L1047.8 1367.2 L1049.8 1367.1 L1051.8 1366.9 L1053.8 1366.8 L1055.8 1366.7 L1057.8 1366.6 L1059.8 1366.4 L1061.8 1366.3 L1063.8 1366.1 L1065.8 1366.0 L1067.8 1365.9 L1069.8 1365.7 L1071.8 1365.6 L1073.8 1365.4 L1075.8 1365.3 L1077.8 1365.1 L1079.8 1364.9 L1081.8 1364.8 L1083.8 1364.6 L1085.8 1364.4 L1087.8 1364.2 L1089.8 1364.0 L1091.8 1363.9 L1093.8 1363.7 L1095.8 1363.5 L1097.8 1363.3 L1099.8 1363.0 L1101.8 1362.8 L1103.8 1362.6 L1105.8 1362.4 L1107.8 1362.1 L1109.8 1361.9 L1111.8 1361.7 L1113.8 1361.4 L1115.8 1361.1 L1117.8 1360.9 L1119.8 1360.6 L1121.8 1360.3 L1123.8 1360.0 L1125.8 1359.7 L1127.8 1359.4 L1129.8 1359.0 L1131.8 1358.7 L1133.8 1358.3 L1135.8 1358.0 L1137.8 1357.6 L1139.8 1357.2 L1141.8 1356.7 L1143.8 1356.3 L1145.8 1355.8 L1147.8 1355.4 L1149.8 1354.8 L1151.8 1354.3 L1153.8 1353.7 L1155.8 1353.2 L1157.8 1352.5 L1159.8 1351.9 L1161.8 1351.2 L1163.8 1350.4 L1165.8 1349.7 L1167.8 1348.8 L1169.8 1348.0 L1171.8 1347.0 L1173.8 1346.0 L1175.8 1345.0 L1177.8 1343.9 L1179.8 1342.7 L1181.8 1341.5 L1183.8 1340.1 L1185.8 1338.7 L1187.8 1337.2 L1189.8 1335.6 L1191.8 1333.9 L1193.8 1332.1 L1195.8 1330.1 L1197.8 1328.1 L1199.8 1325.9 L1201.8 1323.6 L1203.8 1321.1 L1205.8 1318.5 L1207.8 1315.7 L1209.8 1312.8 L1211.8 1309.7 L1213.8 1306.4 L1215.8 1302.9 L1217.8 1299.3 L1219.8 1295.4 L1221.8 1291.3 L1223.8 1287.0 L1225.8 1282.5 L1227.8 1277.8 L1229.8 1272.8 L1231.8 1267.6 L1233.8 1262.1 L1235.8 1256.4 L1237.8 1250.5 L1239.8 1244.3 L1241.8 1237.8 L1243.8 1231.1 L1245.8 1224.1 L1247.8 1216.8 L1249.8 1209.3 L1251.8 1201.6 L1253.8 1193.5 L1255.8 1185.3 L1257.8 1176.8 L1259.8 1168.1 L1261.8 1159.1 L1263.8 1149.9 L1265.8 1140.5 L1267.8 1131.0 L1269.8 1121.2 L1271.8 1111.3 L1273.8 1101.2 L1275.8 1091.0 L1277.8 1080.7 L1279.8 1070.4 L1281.8 1059.9 L1283.8 1049.5 L1285.8 1039.0 L1287.8 1028.5 L1289.8 1018.2 L1291.8 1007.9 L1293.8 997.7 L1295.8 987.7 L1297.8 977.9 L1299.8 968.3 L1301.8 959.1 L1303.8 950.1 L1305.8 941.6 L1307.8 933.4 L1309.8 925.8 L1311.8 918.6 L1313.8 912.0 L1315.8 906.0 L1317.8 900.6 L1319.8 896.0 L1321.8 892.0 L1323.8 888.7 L1325.8 886.3 L1327.8 884.6 L1329.8 883.7 L1331.8 883.6 L1333.8 884.3 L1335.8 885.8 L1337.8 888.0 L1339.8 891.1 L1341.8 894.9 L1343.8 899.4 L1345.8 904.6 L1347.8 910.5 L1349.8 916.9 L1351.8 923.9 L1353.8 931.5 L1355.8 939.5 L1357.8 948.0 L1359.8 956.8 L1361.8 966.0 L1363.8 975.5 L1365.8 985.2 L1367.8 995.2 L1369.8 1005.3 L1371.8 1015.6 L1373.8 1025.9 L1375.8 1036.4 L1377.8 1046.8 L1379.8 1057.3 L1381.8 1067.8 L1383.8 1078.1 L1385.8 1088.5 L1387.8 1098.7 L1389.8 1108.8 L1391.8 1118.7 L1393.8 1128.5 L1395.8 1138.2 L1397.8 1147.6 L1399.8 1156.8 L1401.8 1165.8 L1403.8 1174.6 L1405.8 1183.2 L1407.8 1191.5 L1409.8 1199.6 L1411.8 1207.4 L1413.8 1215.0 L1415.8 1222.3 L1417.8 1229.3 L1419.8 1236.1 L1421.8 1242.7 L1423.8 1248.9 L1425.8 1255.0 L1427.8 1260.7 L1429.8 1266.2 L1431.8 1271.5 L1433.8 1276.5 L1435.8 1281.3 L1437.8 1285.9 L1439.8 1290.3 L1441.8 1294.4 L1443.8 1298.3 L1445.8 1302.0 L1447.8 1305.5 L1449.8 1308.9 L1451.8 1312.0 L1453.8 1315.0 L1455.8 1317.8 L1457.8 1320.5 L1459.8 1323.0 L1461.8 1325.3 L1463.8 1327.5 L1465.8 1329.6 L1467.8 1331.6 L1469.8 1333.4 L1471.8 1335.2 L1473.8 1336.8 L1475.8 1338.3 L1477.8 1339.8 L1479.8 1341.1 L1481.8 1342.4 L1483.8 1343.6 L1485.8 1344.7 L1487.8 1345.8 L1489.8 1346.8 L1491.8 1347.7 L1493.8 1348.6 L1495.8 1349.5 L1497.8 1350.2 L1499.8 1351.0 L1501.8 1351.7 L1503.8 1352.4 L1505.8 1353.0 L1507.8 1353.6 L1509.8 1354.2 L1511.8 1354.7 L1513.8 1355.2 L1515.8 1355.7 L1517.8 1356.2 L1519.8 1356.6 L1521.8 1357.1 L1523.8 1357.5 L1525.8 1357.9 L1527.8 1358.2 L1529.8 1358.6 L1531.8 1359.0 L1533.8 1359.3 L1535.8 1359.6 L1537.8 1359.9 L1539.8 1360.2 L1541.8 1360.5 L1543.8 1360.8 L1545.8 1361.1 L1547.8 1361.3 L1549.8 1361.6 L1551.8 1361.8 L1553.8 1362.1 L1555.8 1362.3 L1557.8 1362.5 L1559.8 1362.8 L1561.8 1363.0 L1563.8 1363.2 L1565.8 1363.4 L1567.8 1363.6 L1569.8 1363.8 L1571.8 1364.0 L1573.8 1364.2 L1575.8 1364.4 L1577.8 1364.5 L1579.8 1364.7 L1581.8 1364.9 L1583.8 1365.0 L1585.8 1365.2 L1587.8 1365.4 L1589.8 1365.5 L1591.8 1365.7 L1593.8 1365.8 L1595.8 1366.0 L1597.8 1366.1 L1599.8 1366.3 L1601.8 1366.4 L1603.8 1366.5 L1605.8 1366.7 L1607.8 1366.8 L1609.8 1366.9 L1611.8 1367.0 L1613.8 1367.1 L1615.8 1367.3 L1617.8 1367.4 L1619.8 1367.5 L1621.8 1367.6 L1623.8 1367.7 L1625.8 1367.8 L1627.8 1367.9 L1629.8 1368.0 L1631.8 1368.1 L1633.8 1368.2 L1635.8 1368.3 L1637.8 1368.4 L1639.8 1368.5 L1641.8 1368.6 L1643.8 1368.7 L1645.8 1368.8 L1647.8 1368.9 L1649.8 1369.0 L1651.8 1369.0 L1653.8 1369.1 L1655.8 1369.2 L1657.8 1369.3 L1659.8 1369.4 L1661.8 1369.4 L1663.8 1369.5 L1665.8 1369.6 L1667.8 1369.7 L1669.8 1369.7 L1671.8 1369.8 L1673.8 1369.9 L1675.8 1370.0 L1677.8 1370.0 L1679.8 1370.1 L1681.8 1370.2 L1683.8 1370.2 L1685.8 1370.3 L1687.8 1370.3 L1689.8 1370.4 L1691.8 1370.5 L1693.8 1370.5 L1695.8 1370.6 L1697.8 1370.6 L1699.8 1370.7 L1701.8 1370.7 L1703.8 1370.8 L1705.8 1370.9 L1707.8 1370.9 L1709.8 1371.0 L1711.8 1371.0 L1713.8 1371.1 L1715.8 1371.1 L1717.8 1371.2 L1719.8 1371.2 L1721.8 1371.3 L1723.8 1371.3 L1725.8 1371.4 L1727.8 1371.4 L1729.8 1371.4 L1731.8 1371.5 L1733.8 1371.5 L1735.8 1371.6 L1737.8 1371.6 L1739.8 1371.7 L1741.8 1371.7 L1743.8 1371.7 L1745.8 1371.8 L1747.8 1371.8 L1749.8 1371.9 L1751.8 1371.9 L1753.8 1371.9 L1755.8 1372.0 L1757.8 1372.0 L1759.8 1372.0 L1761.8 1372.1 L1763.8 1372.1 L1765.8 1372.2 L1767.8 1372.2 L1769.8 1372.2 L1771.8 1372.3 L1773.8 1372.3 L1775.8 1372.3 L1777.8 1372.4 L1779.8 1372.4 L1781.8 1372.4 L1783.8 1372.4 L1785.8 1372.5 L1787.8 1372.5 L1789.8 1372.5 L1791.8 1372.6 L1793.8 1372.6 L1795.8 1372.6 L1797.8 1372.7 L1799.8 1372.7 L1801.8 1372.7 L1803.8 1372.7 L1805.8 1372.8 L1807.8 1372.8 L1809.8 1372.8 L1811.8 1372.8 L1813.8 1372.9 L1815.8 1372.9 L1817.8 1372.9 L1819.8 1372.9 L1821.8 1373.0 L1823.8 1373.0 L1825.8 1373.0 L1827.8 1373.0 L1829.8 1373.1 L1831.8 1373.1 L1833.8 1373.1 L1835.8 1373.1 L1837.8 1373.2 L1839.8 1373.2 L1841.8 1373.2 L1843.8 1373.2 L1845.8 1373.2 L1847.8 1373.3 L1849.8 1373.3 L1851.8 1373.3 L1853.8 1373.3 L1855.8 1373.3 L1857.8 1373.4 L1859.8 1373.4 L1861.8 1373.4 L1863.8 1373.4 L1865.8 1373.4 L1867.8 1373.5 L1869.8 1373.5 L1871.8 1373.5 L1873.8 1373.5 L1875.8 1373.5 L1877.8 1373.5 L1879.8 1373.6 L1881.8 1373.6 L1883.8 1373.6 L1885.8 1373.6 L1887.8 1373.6 L1889.8 1373.7 L1891.8 1373.7 L1893.8 1373.7 L1895.8 1373.7 L1897.8 1373.7 L1899.8 1373.7 L1901.8 1373.7 L1903.8 1373.8 L1905.8 1373.8 L1907.8 1373.8 L1909.8 1373.8 L1911.8 1373.8 L1913.8 1373.8 L1915.8 1373.9 L1917.8 1373.9 L1919.8 1373.9 L1921.8 1373.9 L1923.8 1373.9 L1925.8 1373.9 L1927.8 1373.9 L1929.8 1374.0 L1931.8 1374.0 L1933.8 1374.0 L1935.8 1374.0 L1937.8 1374.0 L1939.8 1374.0 L1941.8 1374.0 L1943.8 1374.0 L1945.8 1374.1 L1947.8 1374.1 L1949.8 1374.1 L1951.8 1374.1 L1953.8 1374.1 L1955.8 1374.1 L1957.8 1374.1 L1959.8 1374.1 L1961.8 1374.2 L1963.8 1374.2 L1965.8 1374.2 L1967.8 1374.2 L1969.8 1374.2 L1971.8 1374.2 L1973.8 1374.2 L1975.8 1374.2 L1977.8 1374.2 L1979.8 1374.3 L1981.8 1374.3 L1983.8 1374.3 L1985.8 1374.3 L1987.8 1374.3 L1989.8 1374.3 L1991.8 1374.3 L1993.8 1374.3 L1995.8 1374.3 L1997.8 1374.3 L1999.8 1374.4 L2001.8 1374.4"/>
<path class="c" stroke="#B36EDC" d="M97.8 1373.9 L99.8 1373.9 L101.8 1373.9 L103.8 1373.9 L105.8 1373.9 L107.8 1373.9 L109.8 1373.8 L111.8 1373.8 L113.8 1373.8 L115.8 1373.8 L117.8 1373.8 L119.8 1373.8 L121.8 1373.8 L123.8 1373.8 L125.8 1373.8 L127.8 1373.7 L129.8 1373.7 L131.8 1373.7 L133.8 1373.7 L135.8 1373.7 L137.8 1373.7 L139.8 1373.7 L141.8 1373.7 L143.8 1373.6 L145.8 1373.6 L147.8 1373.6 L149.8 1373.6 L151.8 1373.6 L153.8 1373.6 L155.8 1373.6 L157.8 1373.5 L159.8 1373.5 L161.8 1373.5 L163.8 1373.5 L165.8 1373.5 L167.8 1373.5 L169.8 1373.5 L171.8 1373.4 L173.8 1373.4 L175.8 1373.4 L177.8 1373.4 L179.8 1373.4 L181.8 1373.4 L183.8 1373.3 L185.8 1373.3 L187.8 1373.3 L189.8 1373.3 L191.8 1373.3 L193.8 1373.3 L195.8 1373.3 L197.8 1373.2 L199.8 1373.2 L201.8 1373.2 L203.8 1373.2 L205.8 1373.2 L207.8 1373.1 L209.8 1373.1 L211.8 1373.1 L213.8 1373.1 L215.8 1373.1 L217.8 1373.1 L219.8 1373.0 L221.8 1373.0 L223.8 1373.0 L225.8 1373.0 L227.8 1373.0 L229.8 1372.9 L231.8 1372.9 L233.8 1372.9 L235.8 1372.9 L237.8 1372.9 L239.8 1372.8 L241.8 1372.8 L243.8 1372.8 L245.8 1372.8 L247.8 1372.8 L249.8 1372.7 L251.8 1372.7 L253.8 1372.7 L255.8 1372.7 L257.8 1372.7 L259.8 1372.6 L261.8 1372.6 L263.8 1372.6 L265.8 1372.6 L267.8 1372.5 L269.8 1372.5 L271.8 1372.5 L273.8 1372.5 L275.8 1372.4 L277.8 1372.4 L279.8 1372.4 L281.8 1372.4 L283.8 1372.3 L285.8 1372.3 L287.8 1372.3 L289.8 1372.3 L291.8 1372.2 L293.8 1372.2 L295.8 1372.2 L297.8 1372.2 L299.8 1372.1 L301.8 1372.1 L303.8 1372.1 L305.8 1372.0 L307.8 1372.0 L309.8 1372.0 L311.8 1372.0 L313.8 1371.9 L315.8 1371.9 L317.8 1371.9 L319.8 1371.8 L321.8 1371.8 L323.8 1371.8 L325.8 1371.7 L327.8 1371.7 L329.8 1371.7 L331.8 1371.6 L333.8 1371.6 L335.8 1371.6 L337.8 1371.5 L339.8 1371.5 L341.8 1371.5 L343.8 1371.4 L345.8 1371.4 L347.8 1371.4 L349.8 1371.3 L351.8 1371.3 L353.8 1371.3 L355.8 1371.2 L357.8 1371.2 L359.8 1371.1 L361.8 1371.1 L363.8 1371.1 L365.8 1371.0 L367.8 1371.0 L369.8 1370.9 L371.8 1370.9 L373.8 1370.9 L375.8 1370.8 L377.8 1370.8 L379.8 1370.7 L381.8 1370.7 L383.8 1370.6 L385.8 1370.6 L387.8 1370.5 L389.8 1370.5 L391.8 1370.4 L393.8 1370.4 L395.8 1370.4 L397.8 1370.3 L399.8 1370.3 L401.8 1370.2 L403.8 1370.2 L405.8 1370.1 L407.8 1370.1 L409.8 1370.0 L411.8 1369.9 L413.8 1369.9 L415.8 1369.8 L417.8 1369.8 L419.8 1369.7 L421.8 1369.7 L423.8 1369.6 L425.8 1369.5 L427.8 1369.5 L429.8 1369.4 L431.8 1369.4 L433.8 1369.3 L435.8 1369.2 L437.8 1369.2 L439.8 1369.1 L441.8 1369.0 L443.8 1369.0 L445.8 1368.9 L447.8 1368.8 L449.8 1368.8 L451.8 1368.7 L453.8 1368.6 L455.8 1368.6 L457.8 1368.5 L459.8 1368.4 L461.8 1368.3 L463.8 1368.3 L465.8 1368.2 L467.8 1368.1 L469.8 1368.0 L471.8 1367.9 L473.8 1367.9 L475.8 1367.8 L477.8 1367.7 L479.8 1367.6 L481.8 1367.5 L483.8 1367.4 L485.8 1367.3 L487.8 1367.2 L489.8 1367.1 L491.8 1367.0 L493.8 1366.9 L495.8 1366.9 L497.8 1366.7 L499.8 1366.6 L501.8 1366.5 L503.8 1366.4 L505.8 1366.3 L507.8 1366.2 L509.8 1366.1 L511.8 1366.0 L513.8 1365.9 L515.8 1365.8 L517.8 1365.6 L519.8 1365.5 L521.8 1365.4 L523.8 1365.3 L525.8 1365.1 L527.8 1365.0 L529.8 1364.9 L531.8 1364.7 L533.8 1364.6 L535.8 1364.4 L537.8 1364.3 L539.8 1364.1 L541.8 1364.0 L543.8 1363.8 L545.8 1363.7 L547.8 1363.5 L549.8 1363.3 L551.8 1363.1 L553.8 1363.0 L555.8 1362.8 L557.8 1362.6 L559.8 1362.4 L561.8 1362.2 L563.8 1362.0 L565.8 1361.8 L567.8 1361.5 L569.8 1361.3 L571.8 1361.1 L573.8 1360.8 L575.8 1360.6 L577.8 1360.3 L579.8 1360.1 L581.8 1359.8 L583.8 1359.5 L585.8 1359.2 L587.8 1358.9 L589.8 1358.5 L591.8 1358.2 L593.8 1357.8 L595.8 1357.5 L597.8 1357.1 L599.8 1356.7 L601.8 1356.3 L603.8 1355.8 L605.8 1355.4 L607.8 1354.9 L609.8 1354.4 L611.8 1353.9 L613.8 1353.3 L615.8 1352.8 L617.8 1352.2 L619.8 1351.5 L621.8 1350.9 L623.8 1350.2 L625.8 1349.5 L627.8 1348.7 L629.8 1347.9 L631.8 1347.1 L633.8 1346.2 L635.8 1345.3 L637.8 1344.3 L639.8 1343.3 L641.8 1342.3 L643.8 1341.2 L645.8 1340.0 L647.8 1338.8 L649.8 1337.5 L651.8 1336.1 L653.8 1334.7 L655.8 1333.3 L657.8 1331.7 L659.8 1330.1 L661.8 1328.4 L663.8 1326.6 L665.8 1324.8 L667.8 1322.9 L669.8 1320.8 L671.8 1318.7 L673.8 1316.5 L675.8 1314.2 L677.8 1311.8 L679.8 1309.3 L681.8 1306.7 L683.8 1304.0 L685.8 1301.2 L687.8 1298.3 L689.8 1295.2 L691.8 1292.1 L693.8 1288.8 L695.8 1285.4 L697.8 1281.8 L699.8 1278.2 L701.8 1274.4 L703.8 1270.4 L705.8 1266.4 L707.8 1262.2 L709.8 1257.8 L711.8 1253.4 L713.8 1248.8 L715.8 1244.0 L717.8 1239.1 L719.8 1234.1 L721.8 1228.9 L723.8 1223.6 L725.8 1218.1 L727.8 1212.5 L729.8 1206.8 L731.8 1200.9 L733.8 1194.9 L735.8 1188.8 L737.8 1182.5 L739.8 1176.1 L741.8 1169.6 L743.8 1162.9 L745.8 1156.2 L747.8 1149.3 L749.8 1142.3 L751.8 1135.2 L753.8 1128.0 L755.8 1120.8 L757.8 1113.4 L759.8 1105.9 L761.8 1098.4 L763.8 1090.9 L765.8 1083.2 L767.8 1075.5 L769.8 1067.8 L771.8 1060.1 L773.8 1052.3 L775.8 1044.5 L777.8 1036.8 L779.8 1029.0 L781.8 1021.3 L783.8 1013.6 L785.8 1005.9 L787.8 998.3 L789.8 990.8 L791.8 983.4 L793.8 976.1 L795.8 968.9 L797.8 961.9 L799.8 955.0 L801.8 948.2 L803.8 941.7 L805.8 935.3 L807.8 929.2 L809.8 923.2 L811.8 917.6 L813.8 912.1 L815.8 907.0 L817.8 902.1 L819.8 897.6 L821.8 893.3 L823.8 889.5 L825.8 885.9 L827.8 882.7 L829.8 879.9 L831.8 877.4 L833.8 875.4 L835.8 873.7 L837.8 872.4 L839.8 871.5 L841.8 871.1 L843.8 871.0 L845.8 871.4 L847.8 872.2 L849.8 873.4 L851.8 875.1 L853.8 877.1 L855.8 879.6 L857.8 882.4 L859.8 885.7 L861.8 889.3 L863.8 893.2 L865.8 897.5 L867.8 902.2 L869.8 907.1 L871.8 912.3 L873.8 917.8 L875.8 923.6 L877.8 929.6 L879.8 935.8 L881.8 942.3 L883.8 948.9 L885.8 955.7 L887.8 962.6 L889.8 969.7 L891.8 976.9 L893.8 984.2 L895.8 991.6 L897.8 999.1 L899.8 1006.6 L901.8 1014.2 L903.8 1021.8 L905.8 1029.5 L907.8 1037.1 L909.8 1044.8 L911.8 1052.4 L913.8 1060.0 L915.8 1067.6 L917.8 1075.2 L919.8 1082.7 L921.8 1090.1 L923.8 1097.4 L925.8 1104.7 L927.8 1112.0 L929.8 1119.1 L931.8 1126.1 L933.8 1133.1 L935.8 1139.9 L937.8 1146.6 L939.8 1153.2 L941.8 1159.7 L943.8 1166.1 L945.8 1172.4 L947.8 1178.5 L949.8 1184.6 L951.8 1190.4 L953.8 1196.2 L955.8 1201.8 L957.8 1207.3 L959.8 1212.7 L961.8 1217.9 L963.8 1223.0 L965.8 1228.0 L967.8 1232.8 L969.8 1237.5 L971.8 1242.0 L973.8 1246.5 L975.8 1250.8 L977.8 1254.9 L979.8 1259.0 L981.8 1262.9 L983.8 1266.7 L985.8 1270.3 L987.8 1273.9 L989.8 1277.3 L991.8 1280.6 L993.8 1283.8 L995.8 1286.9 L997.8 1289.8 L999.8 1292.7 L1001.8 1295.4 L1003.8 1298.1 L1005.8 1300.7 L1007.8 1303.1 L1009.8 1305.5 L1011.8 1307.8 L1013.8 1309.9 L1015.8 1312.0 L1017.8 1314.1 L1019.8 1316.0 L1021.8 1317.8 L1023.8 1319.6 L1025.8 1321.3 L1027.8 1323.0 L1029.8 1324.5 L1031.8 1326.1 L1033.8 1327.5 L1035.8 1328.9 L1037.8 1330.2 L1039.8 1331.5 L1041.8 1332.7 L1043.8 1333.9 L1045.8 1335.0 L1047.8 1336.1 L1049.8 1337.1 L1051.8 1338.1 L1053.8 1339.0 L1055.8 1339.9 L1057.8 1340.8 L1059.8 1341.6 L1061.8 1342.4 L1063.8 1343.2 L1065.8 1343.9 L1067.8 1344.6 L1069.8 1345.3 L1071.8 1345.9 L1073.8 1346.6 L1075.8 1347.2 L1077.8 1347.8 L1079.8 1348.3 L1081.8 1348.8 L1083.8 1349.4 L1085.8 1349.9 L1087.8 1350.3 L1089.8 1350.8 L1091.8 1351.3 L1093.8 1351.7 L1095.8 1352.1 L1097.8 1352.5 L1099.8 1352.9 L1101.8 1353.3 L1103.8 1353.6 L1105.8 1354.0 L1107.8 1354.3 L1109.8 1354.7 L1111.8 1355.0 L1113.8 1355.3 L1115.8 1355.6 L1117.8 1355.9 L1119.8 1356.2 L1121.8 1356.5 L1123.8 1356.8 L1125.8 1357.0 L1127.8 1357.3 L1129.8 1357.6 L1131.8 1357.8 L1133.8 1358.0 L1135.8 1358.3 L1137.8 1358.5 L1139.8 1358.7 L1141.8 1359.0 L1143.8 1359.2 L1145.8 1359.4 L1147.8 1359.6 L1149.8 1359.8 L1151.8 1360.0 L1153.8 1360.2 L1155.8 1360.4 L1157.8 1360.6 L1159.8 1360.8 L1161.8 1360.9 L1163.8 1361.1 L1165.8 1361.3 L1167.8 1361.5 L1169.8 1361.6 L1171.8 1361.8 L1173.8 1362.0 L1175.8 1362.1 L1177.8 1362.3 L1179.8 1362.4 L1181.8 1362.6 L1183.8 1362.7 L1185.8 1362.9 L1187.8 1363.0 L1189.8 1363.2 L1191.8 1363.3 L1193.8 1363.4 L1195.8 1363.6 L1197.8 1363.7 L1199.8 1363.8 L1201.8 1364.0 L1203.8 1364.1 L1205.8 1364.2 L1207.8 1364.3 L1209.8 1364.5 L1211.8 1364.6 L1213.8 1364.7 L1215.8 1364.8 L1217.8 1364.9 L1219.8 1365.0 L1221.8 1365.1 L1223.8 1365.2 L1225.8 1365.4 L1227.8 1365.5 L1229.8 1365.6 L1231.8 1365.7 L1233.8 1365.8 L1235.8 1365.9 L1237.8 1366.0 L1239.8 1366.1 L1241.8 1366.1 L1243.8 1366.2 L1245.8 1366.3 L1247.8 1366.4 L1249.8 1366.5 L1251.8 1366.6 L1253.8 1366.7 L1255.8 1366.8 L1257.8 1366.9 L1259.8 1366.9 L1261.8 1367.0 L1263.8 1367.1 L1265.8 1367.2 L1267.8 1367.3 L1269.8 1367.3 L1271.8 1367.4 L1273.8 1367.5 L1275.8 1367.6 L1277.8 1367.7 L1279.8 1367.7 L1281.8 1367.8 L1283.8 1367.9 L1285.8 1367.9 L1287.8 1368.0 L1289.8 1368.1 L1291.8 1368.1 L1293.8 1368.2 L1295.8 1368.3 L1297.8 1368.3 L1299.8 1368.4 L1301.8 1368.5 L1303.8 1368.5 L1305.8 1368.6 L1307.8 1368.7 L1309.8 1368.7 L1311.8 1368.8 L1313.8 1368.8 L1315.8 1368.9 L1317.8 1369.0 L1319.8 1369.0 L1321.8 1369.1 L1323.8 1369.1 L1325.8 1369.2 L1327.8 1369.2 L1329.8 1369.3 L1331.8 1369.3 L1333.8 1369.4 L1335.8 1369.4 L1337.8 1369.5 L1339.8 1369.5 L1341.8 1369.6 L1343.8 1369.6 L1345.8 1369.7 L1347.8 1369.7 L1349.8 1369.8 L1351.8 1369.8 L1353.8 1369.9 L1355.8 1369.9 L1357.8 1370.0 L1359.8 1370.0 L1361.8 1370.1 L1363.8 1370.1 L1365.8 1370.2 L1367.8 1370.2 L1369.8 1370.2 L1371.8 1370.3 L1373.8 1370.3 L1375.8 1370.4 L1377.8 1370.4 L1379.8 1370.4 L1381.8 1370.5 L1383.8 1370.5 L1385.8 1370.6 L1387.8 1370.6 L1389.8 1370.6 L1391.8 1370.7 L1393.8 1370.7 L1395.8 1370.8 L1397.8 1370.8 L1399.8 1370.8 L1401.8 1370.9 L1403.8 1370.9 L1405.8 1370.9 L1407.8 1371.0 L1409.8 1371.0 L1411.8 1371.0 L1413.8 1371.1 L1415.8 1371.1 L1417.8 1371.1 L1419.8 1371.2 L1421.8 1371.2 L1423.8 1371.2 L1425.8 1371.3 L1427.8 1371.3 L1429.8 1371.3 L1431.8 1371.4 L1433.8 1371.4 L1435.8 1371.4 L1437.8 1371.5 L1439.8 1371.5 L1441.8 1371.5 L1443.8 1371.5 L1445.8 1371.6 L1447.8 1371.6 L1449.8 1371.6 L1451.8 1371.7 L1453.8 1371.7 L1455.8 1371.7 L1457.8 1371.7 L1459.8 1371.8 L1461.8 1371.8 L1463.8 1371.8 L1465.8 1371.8 L1467.8 1371.9 L1469.8 1371.9 L1471.8 1371.9 L1473.8 1372.0 L1475.8 1372.0 L1477.8 1372.0 L1479.8 1372.0 L1481.8 1372.0 L1483.8 1372.1 L1485.8 1372.1 L1487.8 1372.1 L1489.8 1372.1 L1491.8 1372.2 L1493.8 1372.2 L1495.8 1372.2 L1497.8 1372.2 L1499.8 1372.3 L1501.8 1372.3 L1503.8 1372.3 L1505.8 1372.3 L1507.8 1372.3 L1509.8 1372.4 L1511.8 1372.4 L1513.8 1372.4 L1515.8 1372.4 L1517.8 1372.5 L1519.8 1372.5 L1521.8 1372.5 L1523.8 1372.5 L1525.8 1372.5 L1527.8 1372.6 L1529.8 1372.6 L1531.8 1372.6 L1533.8 1372.6 L1535.8 1372.6 L1537.8 1372.7 L1539.8 1372.7 L1541.8 1372.7 L1543.8 1372.7 L1545.8 1372.7 L1547.8 1372.7 L1549.8 1372.8 L1551.8 1372.8 L1553.8 1372.8 L1555.8 1372.8 L1557.8 1372.8 L1559.8 1372.9 L1561.8 1372.9 L1563.8 1372.9 L1565.8 1372.9 L1567.8 1372.9 L1569.8 1372.9 L1571.8 1373.0 L1573.8 1373.0 L1575.8 1373.0 L1577.8 1373.0 L1579.8 1373.0 L1581.8 1373.0 L1583.8 1373.0 L1585.8 1373.1 L1587.8 1373.1 L1589.8 1373.1 L1591.8 1373.1 L1593.8 1373.1 L1595.8 1373.1 L1597.8 1373.2 L1599.8 1373.2 L1601.8 1373.2 L1603.8 1373.2 L1605.8 1373.2 L1607.8 1373.2 L1609.8 1373.2 L1611.8 1373.3 L1613.8 1373.3 L1615.8 1373.3 L1617.8 1373.3 L1619.8 1373.3 L1621.8 1373.3 L1623.8 1373.3 L1625.8 1373.4 L1627.8 1373.4 L1629.8 1373.4 L1631.8 1373.4 L1633.8 1373.4 L1635.8 1373.4 L1637.8 1373.4 L1639.8 1373.4 L1641.8 1373.5 L1643.8 1373.5 L1645.8 1373.5 L1647.8 1373.5 L1649.8 1373.5 L1651.8 1373.5 L1653.8 1373.5 L1655.8 1373.5 L1657.8 1373.6 L1659.8 1373.6 L1661.8 1373.6 L1663.8 1373.6 L1665.8 1373.6 L1667.8 1373.6 L1669.8 1373.6 L1671.8 1373.6 L1673.8 1373.6 L1675.8 1373.7 L1677.8 1373.7 L1679.8 1373.7 L1681.8 1373.7 L1683.8 1373.7 L1685.8 1373.7 L1687.8 1373.7 L1689.8 1373.7 L1691.8 1373.7 L1693.8 1373.8 L1695.8 1373.8 L1697.8 1373.8 L1699.8 1373.8 L1701.8 1373.8 L1703.8 1373.8 L1705.8 1373.8 L1707.8 1373.8 L1709.8 1373.8 L1711.8 1373.8 L1713.8 1373.9 L1715.8 1373.9 L1717.8 1373.9 L1719.8 1373.9 L1721.8 1373.9 L1723.8 1373.9 L1725.8 1373.9 L1727.8 1373.9 L1729.8 1373.9 L1731.8 1373.9 L1733.8 1373.9 L1735.8 1374.0 L1737.8 1374.0 L1739.8 1374.0 L1741.8 1374.0 L1743.8 1374.0 L1745.8 1374.0 L1747.8 1374.0 L1749.8 1374.0 L1751.8 1374.0 L1753.8 1374.0 L1755.8 1374.0 L1757.8 1374.1 L1759.8 1374.1 L1761.8 1374.1 L1763.8 1374.1 L1765.8 1374.1 L1767.8 1374.1 L1769.8 1374.1 L1771.8 1374.1 L1773.8 1374.1 L1775.8 1374.1 L1777.8 1374.1 L1779.8 1374.1 L1781.8 1374.2 L1783.8 1374.2 L1785.8 1374.2 L1787.8 1374.2 L1789.8 1374.2 L1791.8 1374.2 L1793.8 1374.2 L1795.8 1374.2 L1797.8 1374.2 L1799.8 1374.2 L1801.8 1374.2 L1803.8 1374.2 L1805.8 1374.2 L1807.8 1374.2 L1809.8 1374.3 L1811.8 1374.3 L1813.8 1374.3 L1815.8 1374.3 L1817.8 1374.3 L1819.8 1374.3 L1821.8 1374.3 L1823.8 1374.3 L1825.8 1374.3 L1827.8 1374.3 L1829.8 1374.3 L1831.8 1374.3 L1833.8 1374.3 L1835.8 1374.3 L1837.8 1374.4 L1839.8 1374.4 L1841.8 1374.4 L1843.8 1374.4 L1845.8 1374.4 L1847.8 1374.4 L1849.8 1374.4 L1851.8 1374.4 L1853.8 1374.4 L1855.8 1374.4 L1857.8 1374.4 L1859.8 1374.4 L1861.8 1374.4 L1863.8 1374.4 L1865.8 1374.4 L1867.8 1374.4 L1869.8 1374.5 L1871.8 1374.5 L1873.8 1374.5 L1875.8 1374.5 L1877.8 1374.5 L1879.8 1374.5 L1881.8 1374.5 L1883.8 1374.5 L1885.8 1374.5 L1887.8 1374.5 L1889.8 1374.5 L1891.8 1374.5 L1893.8 1374.5 L1895.8 1374.5 L1897.8 1374.5 L1899.8 1374.5 L1901.8 1374.5 L1903.8 1374.6 L1905.8 1374.6 L1907.8 1374.6 L1909.8 1374.6 L1911.8 1374.6 L1913.8 1374.6 L1915.8 1374.6 L1917.8 1374.6 L1919.8 1374.6 L1921.8 1374.6 L1923.8 1374.6 L1925.8 1374.6 L1927.8 1374.6 L1929.8 1374.6 L1931.8 1374.6 L1933.8 1374.6 L1935.8 1374.6 L1937.8 1374.6 L1939.8 1374.6 L1941.8 1374.6 L1943.8 1374.7 L1945.8 1374.7 L1947.8 1374.7 L1949.8 1374.7 L1951.8 1374.7 L1953.8 1374.7 L1955.8 1374.7 L1957.8 1374.7 L1959.8 1374.7 L1961.8 1374.7 L1963.8 1374.7 L1965.8 1374.7 L1967.8 1374.7 L1969.8 1374.7 L1971.8 1374.7 L1973.8 1374.7 L1975.8 1374.7 L1977.8 1374.7 L1979.8 1374.7 L1981.8 1374.7 L1983.8 1374.7 L1985.8 1374.7 L1987.8 1374.8 L1989.8 1374.8 L1991.8 1374.8 L1993.8 1374.8 L1995.8 1374.8 L1997.8 1374.8 L1999.8 1374.8 L2001.8 1374.8"/>
<path class="c" stroke="#CC9900" d="M97.8 1357.5 L99.8 1357.1 L101.8 1356.7 L103.8 1356.3 L105.8 1355.9 L107.8 1355.4 L109.8 1355.0 L111.8 1354.5 L113.8 1354.0 L115.8 1353.5 L117.8 1353.0 L119.8 1352.4 L121.8 1351.8 L123.8 1351.2 L125.8 1350.5 L127.8 1349.8 L129.8 1349.1 L131.8 1348.3 L133.8 1347.5 L135.8 1346.7 L137.8 1345.7 L139.8 1344.8 L141.8 1343.7 L143.8 1342.6 L145.8 1341.5 L147.8 1340.2 L149.8 1338.9 L151.8 1337.5 L153.8 1336.0 L155.8 1334.4 L157.8 1332.7 L159.8 1330.9 L161.8 1329.0 L163.8 1326.9 L165.8 1324.7 L167.8 1322.3 L169.8 1319.8 L171.8 1317.1 L173.8 1314.3 L175.8 1311.2 L177.8 1308.0 L179.8 1304.6 L181.8 1300.9 L183.8 1297.0 L185.8 1292.9 L187.8 1288.6 L189.8 1284.0 L191.8 1279.1 L193.8 1273.9 L195.8 1268.5 L197.8 1262.8 L199.8 1256.8 L201.8 1250.5 L203.8 1243.8 L205.8 1236.9 L207.8 1229.6 L209.8 1222.0 L211.8 1214.1 L213.8 1205.9 L215.8 1197.3 L217.8 1188.4 L219.8 1179.1 L221.8 1169.6 L223.8 1159.7 L225.8 1149.5 L227.8 1139.0 L229.8 1128.2 L231.8 1117.2 L233.8 1105.9 L235.8 1094.3 L237.8 1082.6 L239.8 1070.6 L241.8 1058.4 L243.8 1046.2 L245.8 1033.7 L247.8 1021.2 L249.8 1008.7 L251.8 996.1 L253.8 983.6 L255.8 971.1 L257.8 958.8 L259.8 946.6 L261.8 934.7 L263.8 923.0 L265.8 911.7 L267.8 900.7 L269.8 890.2 L271.8 880.3 L273.8 870.9 L275.8 862.1 L277.8 854.1 L279.8 846.8 L281.8 840.4 L283.8 834.8 L285.8 830.1 L287.8 826.4 L289.8 823.7 L291.8 822.1 L293.8 821.4 L295.8 821.8 L297.8 823.2 L299.8 825.7 L301.8 829.1 L303.8 833.5 L305.8 838.9 L307.8 845.1 L309.8 852.2 L311.8 860.0 L313.8 868.6 L315.8 877.9 L317.8 887.7 L319.8 898.1 L321.8 908.9 L323.8 920.1 L325.8 931.7 L327.8 943.6 L329.8 955.7 L331.8 968.0 L333.8 980.5 L335.8 993.0 L337.8 1005.6 L339.8 1018.1 L341.8 1030.6 L343.8 1043.1 L345.8 1055.4 L347.8 1067.6 L349.8 1079.6 L351.8 1091.4 L353.8 1103.0 L355.8 1114.4 L357.8 1125.5 L359.8 1136.3 L361.8 1146.9 L363.8 1157.2 L365.8 1167.1 L367.8 1176.8 L369.8 1186.1 L371.8 1195.1 L373.8 1203.7 L375.8 1212.1 L377.8 1220.1 L379.8 1227.8 L381.8 1235.1 L383.8 1242.1 L385.8 1248.8 L387.8 1255.2 L389.8 1261.3 L391.8 1267.1 L393.8 1272.6 L395.8 1277.8 L397.8 1282.8 L399.8 1287.4 L401.8 1291.9 L403.8 1296.0 L405.8 1300.0 L407.8 1303.7 L409.8 1307.2 L411.8 1310.4 L413.8 1313.5 L415.8 1316.4 L417.8 1319.1 L419.8 1321.7 L421.8 1324.1 L423.8 1326.3 L425.8 1328.4 L427.8 1330.4 L429.8 1332.3 L431.8 1334.0 L433.8 1335.6 L435.8 1337.2 L437.8 1338.6 L439.8 1339.9 L441.8 1341.2 L443.8 1342.4 L445.8 1343.5 L447.8 1344.5 L449.8 1345.5 L451.8 1346.4 L453.8 1347.3 L455.8 1348.1 L457.8 1348.9 L459.8 1349.7 L461.8 1350.4 L463.8 1351.0 L465.8 1351.6 L467.8 1352.2 L469.8 1352.8 L471.8 1353.4 L473.8 1353.9 L475.8 1354.4 L477.8 1354.9 L479.8 1355.3 L481.8 1355.8 L483.8 1356.2 L485.8 1356.6 L487.8 1357.0 L489.8 1357.4 L491.8 1357.7 L493.8 1358.1 L495.8 1358.4 L497.8 1358.8 L499.8 1359.1 L501.8 1359.4 L503.8 1359.7 L505.8 1360.0 L507.8 1360.3 L509.8 1360.5 L511.8 1360.8 L513.8 1361.1 L515.8 1361.3 L517.8 1361.6 L519.8 1361.8 L521.8 1362.0 L523.8 1362.3 L525.8 1362.5 L527.8 1362.7 L529.8 1362.9 L531.8 1363.1 L533.8 1363.3 L535.8 1363.5 L537.8 1363.7 L539.8 1363.9 L541.8 1364.1 L543.8 1364.3 L545.8 1364.4 L547.8 1364.6 L549.8 1364.8 L551.8 1365.0 L553.8 1365.1 L555.8 1365.3 L557.8 1365.4 L559.8 1365.6 L561.8 1365.7 L563.8 1365.9 L565.8 1366.0 L567.8 1366.2 L569.8 1366.3 L571.8 1366.4 L573.8 1366.6 L575.8 1366.7 L577.8 1366.8 L579.8 1366.9 L581.8 1367.0 L583.8 1367.2 L585.8 1367.3 L587.8 1367.4 L589.8 1367.5 L591.8 1367.6 L593.8 1367.7 L595.8 1367.8 L597.8 1367.9 L599.8 1368.0 L601.8 1368.1 L603.8 1368.2 L605.8 1368.3 L607.8 1368.4 L609.8 1368.5 L611.8 1368.6 L613.8 1368.7 L615.8 1368.8 L617.8 1368.9 L619.8 1369.0 L621.8 1369.0 L623.8 1369.1 L625.8 1369.2 L627.8 1369.3 L629.8 1369.4 L631.8 1369.4 L633.8 1369.5 L635.8 1369.6 L637.8 1369.7 L639.8 1369.7 L641.8 1369.8 L643.8 1369.9 L645.8 1369.9 L647.8 1370.0 L649.8 1370.1 L651.8 1370.1 L653.8 1370.2 L655.8 1370.3 L657.8 1370.3 L659.8 1370.4 L661.8 1370.4 L663.8 1370.5 L665.8 1370.5 L667.8 1370.6 L669.8 1370.7 L671.8 1370.7 L673.8 1370.8 L675.8 1370.8 L677.8 1370.9 L679.8 1370.9 L681.8 1371.0 L683.8 1371.0 L685.8 1371.1 L687.8 1371.1 L689.8 1371.2 L691.8 1371.2 L693.8 1371.3 L695.8 1371.3 L697.8 1371.4 L699.8 1371.4 L701.8 1371.5 L703.8 1371.5 L705.8 1371.5 L707.8 1371.6 L709.8 1371.6 L711.8 1371.7 L713.8 1371.7 L715.8 1371.7 L717.8 1371.8 L719.8 1371.8 L721.8 1371.9 L723.8 1371.9 L725.8 1371.9 L727.8 1372.0 L729.8 1372.0 L731.8 1372.0 L733.8 1372.1 L735.8 1372.1 L737.8 1372.1 L739.8 1372.2 L741.8 1372.2 L743.8 1372.2 L745.8 1372.3 L747.8 1372.3 L749.8 1372.3 L751.8 1372.4 L753.8 1372.4 L755.8 1372.4 L757.8 1372.5 L759.8 1372.5 L761.8 1372.5 L763.8 1372.6 L765.8 1372.6 L767.8 1372.6 L769.8 1372.6 L771.8 1372.7 L773.8 1372.7 L775.8 1372.7 L777.8 1372.7 L779.8 1372.8 L781.8 1372.8 L783.8 1372.8 L785.8 1372.9 L787.8 1372.9 L789.8 1372.9 L791.8 1372.9 L793.8 1373.0 L795.8 1373.0 L797.8 1373.0 L799.8 1373.0 L801.8 1373.0 L803.8 1373.1 L805.8 1373.1 L807.8 1373.1 L809.8 1373.1 L811.8 1373.2 L813.8 1373.2 L815.8 1373.2 L817.8 1373.2 L819.8 1373.2 L821.8 1373.3 L823.8 1373.3 L825.8 1373.3 L827.8 1373.3 L829.8 1373.3 L831.8 1373.4 L833.8 1373.4 L835.8 1373.4 L837.8 1373.4 L839.8 1373.4 L841.8 1373.5 L843.8 1373.5 L845.8 1373.5 L847.8 1373.5 L849.8 1373.5 L851.8 1373.5 L853.8 1373.6 L855.8 1373.6 L857.8 1373.6 L859.8 1373.6 L861.8 1373.6 L863.8 1373.6 L865.8 1373.7 L867.8 1373.7 L869.8 1373.7 L871.8 1373.7 L873.8 1373.7 L875.8 1373.7 L877.8 1373.8 L879.8 1373.8 L881.8 1373.8 L883.8 1373.8 L885.8 1373.8 L887.8 1373.8 L889.8 1373.8 L891.8 1373.9 L893.8 1373.9 L895.8 1373.9 L897.8 1373.9 L899.8 1373.9 L901.8 1373.9 L903.8 1373.9 L905.8 1374.0 L907.8 1374.0 L909.8 1374.0 L911.8 1374.0 L913.8 1374.0 L915.8 1374.0 L917.8 1374.0 L919.8 1374.0 L921.8 1374.1 L923.8 1374.1 L925.8 1374.1 L927.8 1374.1 L929.8 1374.1 L931.8 1374.1 L933.8 1374.1 L935.8 1374.1 L937.8 1374.2 L939.8 1374.2 L941.8 1374.2 L943.8 1374.2 L945.8 1374.2 L947.8 1374.2 L949.8 1374.2 L951.8 1374.2 L953.8 1374.2 L955.8 1374.3 L957.8 1374.3 L959.8 1374.3 L961.8 1374.3 L963.8 1374.3 L965.8 1374.3 L967.8 1374.3 L969.8 1374.3 L971.8 1374.3 L973.8 1374.3 L975.8 1374.4 L977.8 1374.4 L979.8 1374.4 L981.8 1374.4 L983.8 1374.4 L985.8 1374.4 L987.8 1374.4 L989.8 1374.4 L991.8 1374.4 L993.8 1374.4 L995.8 1374.4 L997.8 1374.5 L999.8 1374.5 L1001.8 1374.5 L1003.8 1374.5 L1005.8 1374.5 L1007.8 1374.5 L1009.8 1374.5 L1011.8 1374.5 L1013.8 1374.5 L1015.8 1374.5 L1017.8 1374.5 L1019.8 1374.5 L1021.8 1374.6 L1023.8 1374.6 L1025.8 1374.6 L1027.8 1374.6 L1029.8 1374.6 L1031.8 1374.6 L1033.8 1374.6 L1035.8 1374.6 L1037.8 1374.6 L1039.8 1374.6 L1041.8 1374.6 L1043.8 1374.6 L1045.8 1374.6 L1047.8 1374.6 L1049.8 1374.7 L1051.8 1374.7 L1053.8 1374.7 L1055.8 1374.7 L1057.8 1374.7 L1059.8 1374.7 L1061.8 1374.7 L1063.8 1374.7 L1065.8 1374.7 L1067.8 1374.7 L1069.8 1374.7 L1071.8 1374.7 L1073.8 1374.7 L1075.8 1374.7 L1077.8 1374.7 L1079.8 1374.8 L1081.8 1374.8 L1083.8 1374.8 L1085.8 1374.8 L1087.8 1374.8 L1089.8 1374.8 L1091.8 1374.8 L1093.8 1374.8 L1095.8 1374.8 L1097.8 1374.8 L1099.8 1374.8 L1101.8 1374.8 L1103.8 1374.8 L1105.8 1374.8 L1107.8 1374.8 L1109.8 1374.8 L1111.8 1374.9 L1113.8 1374.9 L1115.8 1374.9 L1117.8 1374.9 L1119.8 1374.9 L1121.8 1374.9 L1123.8 1374.9 L1125.8 1374.9 L1127.8 1374.9 L1129.8 1374.9 L1131.8 1374.9 L1133.8 1374.9 L1135.8 1374.9 L1137.8 1374.9 L1139.8 1374.9 L1141.8 1374.9 L1143.8 1374.9 L1145.8 1374.9 L1147.8 1374.9 L1149.8 1375.0 L1151.8 1375.0 L1153.8 1375.0 L1155.8 1375.0 L1157.8 1375.0 L1159.8 1375.0 L1161.8 1375.0 L1163.8 1375.0 L1165.8 1375.0 L1167.8 1375.0 L1169.8 1375.0 L1171.8 1375.0 L1173.8 1375.0 L1175.8 1375.0 L1177.8 1375.0 L1179.8 1375.0 L1181.8 1375.0 L1183.8 1375.0 L1185.8 1375.0 L1187.8 1375.0 L1189.8 1375.0 L1191.8 1375.0 L1193.8 1375.1 L1195.8 1375.1 L1197.8 1375.1 L1199.8 1375.1 L1201.8 1375.1 L1203.8 1375.1 L1205.8 1375.1 L1207.8 1375.1 L1209.8 1375.1 L1211.8 1375.1 L1213.8 1375.1 L1215.8 1375.1 L1217.8 1375.1 L1219.8 1375.1 L1221.8 1375.1 L1223.8 1375.1 L1225.8 1375.1 L1227.8 1375.1 L1229.8 1375.1 L1231.8 1375.1 L1233.8 1375.1 L1235.8 1375.1 L1237.8 1375.1 L1239.8 1375.1 L1241.8 1375.1 L1243.8 1375.1 L1245.8 1375.2 L1247.8 1375.2 L1249.8 1375.2 L1251.8 1375.2 L1253.8 1375.2 L1255.8 1375.2 L1257.8 1375.2 L1259.8 1375.2 L1261.8 1375.2 L1263.8 1375.2 L1265.8 1375.2 L1267.8 1375.2 L1269.8 1375.2 L1271.8 1375.2 L1273.8 1375.2 L1275.8 1375.2 L1277.8 1375.2 L1279.8 1375.2 L1281.8 1375.2 L1283.8 1375.2 L1285.8 1375.2 L1287.8 1375.2 L1289.8 1375.2 L1291.8 1375.2 L1293.8 1375.2 L1295.8 1375.2 L1297.8 1375.2 L1299.8 1375.2 L1301.8 1375.2 L1303.8 1375.2 L1305.8 1375.2 L1307.8 1375.3 L1309.8 1375.3 L1311.8 1375.3 L1313.8 1375.3 L1315.8 1375.3 L1317.8 1375.3 L1319.8 1375.3 L1321.8 1375.3 L1323.8 1375.3 L1325.8 1375.3 L1327.8 1375.3 L1329.8 1375.3 L1331.8 1375.3 L1333.8 1375.3 L1335.8 1375.3 L1337.8 1375.3 L1339.8 1375.3 L1341.8 1375.3 L1343.8 1375.3 L1345.8 1375.3 L1347.8 1375.3 L1349.8 1375.3 L1351.8 1375.3 L1353.8 1375.3 L1355.8 1375.3 L1357.8 1375.3 L1359.8 1375.3 L1361.8 1375.3 L1363.8 1375.3 L1365.8 1375.3 L1367.8 1375.3 L1369.8 1375.3 L1371.8 1375.3 L1373.8 1375.3 L1375.8 1375.3 L1377.8 1375.3 L1379.8 1375.3 L1381.8 1375.3 L1383.8 1375.4 L1385.8 1375.4 L1387.8 1375.4 L1389.8 1375.4 L1391.8 1375.4 L1393.8 1375.4 L1395.8 1375.4 L1397.8 1375.4 L1399.8 1375.4 L1401.8 1375.4 L1403.8 1375.4 L1405.8 1375.4 L1407.8 1375.4 L1409.8 1375.4 L1411.8 1375.4 L1413.8 1375.4 L1415.8 1375.4 L1417.8 1375.4 L1419.8 1375.4 L1421.8 1375.4 L1423.8 1375.4 L1425.8 1375.4 L1427.8 1375.4 L1429.8 1375.4 L1431.8 1375.4 L1433.8 1375.4 L1435.8 1375.4 L1437.8 1375.4 L1439.8 1375.4 L1441.8 1375.4 L1443.8 1375.4 L1445.8 1375.4 L1447.8 1375.4 L1449.8 1375.4 L1451.8 1375.4 L1453.8 1375.4 L1455.8 1375.4 L1457.8 1375.4 L1459.8 1375.4 L1461.8 1375.4 L1463.8 1375.4 L1465.8 1375.4 L1467.8 1375.4 L1469.8 1375.4 L1471.8 1375.4 L1473.8 1375.4 L1475.8 1375.4 L1477.8 1375.5 L1479.8 1375.5 L1481.8 1375.5 L1483.8 1375.5 L1485.8 1375.5 L1487.8 1375.5 L1489.8 1375.5 L1491.8 1375.5 L1493.8 1375.5 L1495.8 1375.5 L1497.8 1375.5 L1499.8 1375.5 L1501.8 1375.5 L1503.8 1375.5 L1505.8 1375.5 L1507.8 1375.5 L1509.8 1375.5 L1511.8 1375.5 L1513.8 1375.5 L1515.8 1375.5 L1517.8 1375.5 L1519.8 1375.5 L1521.8 1375.5 L1523.8 1375.5 L1525.8 1375.5 L1527.8 1375.5 L1529.8 1375.5 L1531.8 1375.5 L1533.8 1375.5 L1535.8 1375.5 L1537.8 1375.5 L1539.8 1375.5 L1541.8 1375.5 L1543.8 1375.5 L1545.8 1375.5 L1547.8 1375.5 L1549.8 1375.5 L1551.8 1375.5 L1553.8 1375.5 L1555.8 1375.5 L1557.8 1375.5 L1559.8 1375.5 L1561.8 1375.5 L1563.8 1375.5 L1565.8 1375.5 L1567.8 1375.5 L1569.8 1375.5 L1571.8 1375.5 L1573.8 1375.5 L1575.8 1375.5 L1577.8 1375.5 L1579.8 1375.5 L1581.8 1375.5 L1583.8 1375.5 L1585.8 1375.5 L1587.8 1375.5 L1589.8 1375.5 L1591.8 1375.5 L1593.8 1375.5 L1595.8 1375.5 L1597.8 1375.5 L1599.8 1375.5 L1601.8 1375.5 L1603.8 1375.6 L1605.8 1375.6 L1607.8 1375.6 L1609.8 1375.6 L1611.8 1375.6 L1613.8 1375.6 L1615.8 1375.6 L1617.8 1375.6 L1619.8 1375.6 L1621.8 1375.6 L1623.8 1375.6 L1625.8 1375.6 L1627.8 1375.6 L1629.8 1375.6 L1631.8 1375.6 L1633.8 1375.6 L1635.8 1375.6 L1637.8 1375.6 L1639.8 1375.6 L1641.8 1375.6 L1643.8 1375.6 L1645.8 1375.6 L1647.8 1375.6 L1649.8 1375.6 L1651.8 1375.6 L1653.8 1375.6 L1655.8 1375.6 L1657.8 1375.6 L1659.8 1375.6 L1661.8 1375.6 L1663.8 1375.6 L1665.8 1375.6 L1667.8 1375.6 L1669.8 1375.6 L1671.8 1375.6 L1673.8 1375.6 L1675.8 1375.6 L1677.8 1375.6 L1679.8 1375.6 L1681.8 1375.6 L1683.8 1375.6 L1685.8 1375.6 L1687.8 1375.6 L1689.8 1375.6 L1691.8 1375.6 L1693.8 1375.6 L1695.8 1375.6 L1697.8 1375.6 L1699.8 1375.6 L1701.8 1375.6 L1703.8 1375.6 L1705.8 1375.6 L1707.8 1375.6 L1709.8 1375.6 L1711.8 1375.6 L1713.8 1375.6 L1715.8 1375.6 L1717.8 1375.6 L1719.8 1375.6 L1721.8 1375.6 L1723.8 1375.6 L1725.8 1375.6 L1727.8 1375.6 L1729.8 1375.6 L1731.8 1375.6 L1733.8 1375.6 L1735.8 1375.6 L1737.8 1375.6 L1739.8 1375.6 L1741.8 1375.6 L1743.8 1375.6 L1745.8 1375.6 L1747.8 1375.6 L1749.8 1375.6 L1751.8 1375.6 L1753.8 1375.6 L1755.8 1375.6 L1757.8 1375.6 L1759.8 1375.6 L1761.8 1375.6 L1763.8 1375.6 L1765.8 1375.6 L1767.8 1375.6 L1769.8 1375.6 L1771.8 1375.6 L1773.8 1375.6 L1775.8 1375.6 L1777.8 1375.6 L1779.8 1375.7 L1781.8 1375.7 L1783.8 1375.7 L1785.8 1375.7 L1787.8 1375.7 L1789.8 1375.7 L1791.8 1375.7 L1793.8 1375.7 L1795.8 1375.7 L1797.8 1375.7 L1799.8 1375.7 L1801.8 1375.7 L1803.8 1375.7 L1805.8 1375.7 L1807.8 1375.7 L1809.8 1375.7 L1811.8 1375.7 L1813.8 1375.7 L1815.8 1375.7 L1817.8 1375.7 L1819.8 1375.7 L1821.8 1375.7 L1823.8 1375.7 L1825.8 1375.7 L1827.8 1375.7 L1829.8 1375.7 L1831.8 1375.7 L1833.8 1375.7 L1835.8 1375.7 L1837.8 1375.7 L1839.8 1375.7 L1841.8 1375.7 L1843.8 1375.7 L1845.8 1375.7 L1847.8 1375.7 L1849.8 1375.7 L1851.8 1375.7 L1853.8 1375.7 L1855.8 1375.7 L1857.8 1375.7 L1859.8 1375.7 L1861.8 1375.7 L1863.8 1375.7 L1865.8 1375.7 L1867.8 1375.7 L1869.8 1375.7 L1871.8 1375.7 L1873.8 1375.7 L1875.8 1375.7 L1877.8 1375.7 L1879.8 1375.7 L1881.8 1375.7 L1883.8 1375.7 L1885.8 1375.7 L1887.8 1375.7 L1889.8 1375.7 L1891.8 1375.7 L1893.8 1375.7 L1895.8 1375.7 L1897.8 1375.7 L1899.8 1375.7 L1901.8 1375.7 L1903.8 1375.7 L1905.8 1375.7 L1907.8 1375.7 L1909.8 1375.7 L1911.8 1375.7 L1913.8 1375.7 L1915.8 1375.7 L1917.8 1375.7 L1919.8 1375.7 L1921.8 1375.7 L1923.8 1375.7 L1925.8 1375.7 L1927.8 1375.7 L1929.8 1375.7 L1931.8 1375.7 L1933.8 1375.7 L1935.8 1375.7 L1937.8 1375.7 L1939.8 1375.7 L1941.8 1375.7 L1943.8 1375.7 L1945.8 1375.7 L1947.8 1375.7 L1949.8 1375.7 L1951.8 1375.7 L1953.8 1375.7 L1955.8 1375.7 L1957.8 1375.7 L1959.8 1375.7 L1961.8 1375.7 L1963.8 1375.7 L1965.8 1375.7 L1967.8 1375.7 L1969.8 1375.7 L1971.8 1375.7 L1973.8 1375.7 L1975.8 1375.7 L1977.8 1375.7 L1979.8 1375.7 L1981.8 1375.7 L1983.8 1375.7 L1985.8 1375.7 L1987.8 1375.7 L1989.8 1375.7 L1991.8 1375.7 L1993.8 1375.7 L1995.8 1375.7 L1997.8 1375.7 L1999.8 1375.7 L2001.8 1375.7"/>
<path class="c" stroke="#00CCCC" d="M97.8 1344.6 L99.8 1345.2 L101.8 1345.8 L103.8 1346.4 L105.8 1347.0 L107.8 1347.6 L109.8 1348.1 L111.8 1348.6 L113.8 1349.2 L115.8 1349.7 L117.8 1350.1 L119.8 1350.6 L121.8 1351.1 L123.8 1351.5 L125.8 1352.0 L127.8 1352.4 L129.8 1352.8 L131.8 1353.2 L133.8 1353.6 L135.8 1354.0 L137.8 1354.4 L139.8 1354.7 L141.8 1355.1 L143.8 1355.4 L145.8 1355.8 L147.8 1356.1 L149.8 1356.4 L151.8 1356.8 L153.8 1357.1 L155.8 1357.4 L157.8 1357.7 L159.8 1357.9 L161.8 1358.2 L163.8 1358.5 L165.8 1358.8 L167.8 1359.0 L169.8 1359.3 L171.8 1359.5 L173.8 1359.8 L175.8 1360.0 L177.8 1360.2 L179.8 1360.5 L181.8 1360.7 L183.8 1360.9 L185.8 1361.1 L187.8 1361.3 L189.8 1361.6 L191.8 1361.8 L193.8 1362.0 L195.8 1362.1 L197.8 1362.3 L199.8 1362.5 L201.8 1362.7 L203.8 1362.9 L205.8 1363.1 L207.8 1363.2 L209.8 1363.4 L211.8 1363.6 L213.8 1363.7 L215.8 1363.9 L217.8 1364.0 L219.8 1364.2 L221.8 1364.3 L223.8 1364.5 L225.8 1364.6 L227.8 1364.8 L229.8 1364.9 L231.8 1365.0 L233.8 1365.2 L235.8 1365.3 L237.8 1365.4 L239.8 1365.6 L241.8 1365.7 L243.8 1365.8 L245.8 1365.9 L247.8 1366.0 L249.8 1366.2 L251.8 1366.3 L253.8 1366.4 L255.8 1366.5 L257.8 1366.6 L259.8 1366.7 L261.8 1366.8 L263.8 1366.9 L265.8 1367.0 L267.8 1367.1 L269.8 1367.2 L271.8 1367.3 L273.8 1367.4 L275.8 1367.5 L277.8 1367.6 L279.8 1367.7 L281.8 1367.8 L283.8 1367.9 L285.8 1368.0 L287.8 1368.0 L289.8 1368.1 L291.8 1368.2 L293.8 1368.3 L295.8 1368.4 L297.8 1368.4 L299.8 1368.5 L301.8 1368.6 L303.8 1368.7 L305.8 1368.7 L307.8 1368.8 L309.8 1368.9 L311.8 1369.0 L313.8 1369.0 L315.8 1369.1 L317.8 1369.2 L319.8 1369.2 L321.8 1369.3 L323.8 1369.4 L325.8 1369.4 L327.8 1369.5 L329.8 1369.5 L331.8 1369.6 L333.8 1369.7 L335.8 1369.7 L337.8 1369.8 L339.8 1369.8 L341.8 1369.9 L343.8 1370.0 L345.8 1370.0 L347.8 1370.1 L349.8 1370.1 L351.8 1370.2 L353.8 1370.2 L355.8 1370.3 L357.8 1370.3 L359.8 1370.4 L361.8 1370.4 L363.8 1370.5 L365.8 1370.5 L367.8 1370.6 L369.8 1370.6 L371.8 1370.7 L373.8 1370.7 L375.8 1370.8 L377.8 1370.8 L379.8 1370.8 L381.8 1370.9 L383.8 1370.9 L385.8 1371.0 L387.8 1371.0 L389.8 1371.1 L391.8 1371.1 L393.8 1371.1 L395.8 1371.2 L397.8 1371.2 L399.8 1371.3 L401.8 1371.3 L403.8 1371.3 L405.8 1371.4 L407.8 1371.4 L409.8 1371.4 L411.8 1371.5 L413.8 1371.5 L415.8 1371.6 L417.8 1371.6 L419.8 1371.6 L421.8 1371.7 L423.8 1371.7 L425.8 1371.7 L427.8 1371.8 L429.8 1371.8 L431.8 1371.8 L433.8 1371.9 L435.8 1371.9 L437.8 1371.9 L439.8 1371.9 L441.8 1372.0 L443.8 1372.0 L445.8 1372.0 L447.8 1372.1 L449.8 1372.1 L451.8 1372.1 L453.8 1372.2 L455.8 1372.2 L457.8 1372.2 L459.8 1372.2 L461.8 1372.3 L463.8 1372.3 L465.8 1372.3 L467.8 1372.3 L469.8 1372.4 L471.8 1372.4 L473.8 1372.4 L475.8 1372.4 L477.8 1372.5 L479.8 1372.5 L481.8 1372.5 L483.8 1372.5 L485.8 1372.6 L487.8 1372.6 L489.8 1372.6 L491.8 1372.6 L493.8 1372.7 L495.8 1372.7 L497.8 1372.7 L499.8 1372.7 L501.8 1372.8 L503.8 1372.8 L505.8 1372.8 L507.8 1372.8 L509.8 1372.8 L511.8 1372.9 L513.8 1372.9 L515.8 1372.9 L517.8 1372.9 L519.8 1372.9 L521.8 1373.0 L523.8 1373.0 L525.8 1373.0 L527.8 1373.0 L529.8 1373.0 L531.8 1373.1 L533.8 1373.1 L535.8 1373.1 L537.8 1373.1 L539.8 1373.1 L541.8 1373.2 L543.8 1373.2 L545.8 1373.2 L547.8 1373.2 L549.8 1373.2 L551.8 1373.2 L553.8 1373.3 L555.8 1373.3 L557.8 1373.3 L559.8 1373.3 L561.8 1373.3 L563.8 1373.3 L565.8 1373.4 L567.8 1373.4 L569.8 1373.4 L571.8 1373.4 L573.8 1373.4 L575.8 1373.4 L577.8 1373.5 L579.8 1373.5 L581.8 1373.5 L583.8 1373.5 L585.8 1373.5 L587.8 1373.5 L589.8 1373.5 L591.8 1373.6 L593.8 1373.6 L595.8 1373.6 L597.8 1373.6 L599.8 1373.6 L601.8 1373.6 L603.8 1373.6 L605.8 1373.7 L607.8 1373.7 L609.8 1373.7 L611.8 1373.7 L613.8 1373.7 L615.8 1373.7 L617.8 1373.7 L619.8 1373.7 L621.8 1373.8 L623.8 1373.8 L625.8 1373.8 L627.8 1373.8 L629.8 1373.8 L631.8 1373.8 L633.8 1373.8 L635.8 1373.8 L637.8 1373.9 L639.8 1373.9 L641.8 1373.9 L643.8 1373.9 L645.8 1373.9 L647.8 1373.9 L649.8 1373.9 L651.8 1373.9 L653.8 1373.9 L655.8 1374.0 L657.8 1374.0 L659.8 1374.0 L661.8 1374.0 L663.8 1374.0 L665.8 1374.0 L667.8 1374.0 L669.8 1374.0 L671.8 1374.0 L673.8 1374.1 L675.8 1374.1 L677.8 1374.1 L679.8 1374.1 L681.8 1374.1 L683.8 1374.1 L685.8 1374.1 L687.8 1374.1 L689.8 1374.1 L691.8 1374.1 L693.8 1374.2 L695.8 1374.2 L697.8 1374.2 L699.8 1374.2 L701.8 1374.2 L703.8 1374.2 L705.8 1374.2 L707.8 1374.2 L709.8 1374.2 L711.8 1374.2 L713.8 1374.2 L715.8 1374.3 L717.8 1374.3 L719.8 1374.3 L721.8 1374.3 L723.8 1374.3 L725.8 1374.3 L727.8 1374.3 L729.8 1374.3 L731.8 1374.3 L733.8 1374.3 L735.8 1374.3 L737.8 1374.3 L739.8 1374.4 L741.8 1374.4 L743.8 1374.4 L745.8 1374.4 L747.8 1374.4 L749.8 1374.4 L751.8 1374.4 L753.8 1374.4 L755.8 1374.4 L757.8 1374.4 L759.8 1374.4 L761.8 1374.4 L763.8 1374.4 L765.8 1374.4 L767.8 1374.5 L769.8 1374.5 L771.8 1374.5 L773.8 1374.5 L775.8 1374.5 L777.8 1374.5 L779.8 1374.5 L781.8 1374.5 L783.8 1374.5 L785.8 1374.5 L787.8 1374.5 L789.8 1374.5 L791.8 1374.5 L793.8 1374.5 L795.8 1374.6 L797.8 1374.6 L799.8 1374.6 L801.8 1374.6 L803.8 1374.6 L805.8 1374.6 L807.8 1374.6 L809.8 1374.6 L811.8 1374.6 L813.8 1374.6 L815.8 1374.6 L817.8 1374.6 L819.8 1374.6 L821.8 1374.6 L823.8 1374.6 L825.8 1374.6 L827.8 1374.7 L829.8 1374.7 L831.8 1374.7 L833.8 1374.7 L835.8 1374.7 L837.8 1374.7 L839.8 1374.7 L841.8 1374.7 L843.8 1374.7 L845.8 1374.7 L847.8 1374.7 L849.8 1374.7 L851.8 1374.7 L853.8 1374.7 L855.8 1374.7 L857.8 1374.7 L859.8 1374.7 L861.8 1374.7 L863.8 1374.8 L865.8 1374.8 L867.8 1374.8 L869.8 1374.8 L871.8 1374.8 L873.8 1374.8 L875.8 1374.8 L877.8 1374.8 L879.8 1374.8 L881.8 1374.8 L883.8 1374.8 L885.8 1374.8 L887.8 1374.8 L889.8 1374.8 L891.8 1374.8 L893.8 1374.8 L895.8 1374.8 L897.8 1374.8 L899.8 1374.8 L901.8 1374.8 L903.8 1374.9 L905.8 1374.9 L907.8 1374.9 L909.8 1374.9 L911.8 1374.9 L913.8 1374.9 L915.8 1374.9 L917.8 1374.9 L919.8 1374.9 L921.8 1374.9 L923.8 1374.9 L925.8 1374.9 L927.8 1374.9 L929.8 1374.9 L931.8 1374.9 L933.8 1374.9 L935.8 1374.9 L937.8 1374.9 L939.8 1374.9 L941.8 1374.9 L943.8 1374.9 L945.8 1374.9 L947.8 1374.9 L949.8 1375.0 L951.8 1375.0 L953.8 1375.0 L955.8 1375.0 L957.8 1375.0 L959.8 1375.0 L961.8 1375.0 L963.8 1375.0 L965.8 1375.0 L967.8 1375.0 L969.8 1375.0 L971.8 1375.0 L973.8 1375.0 L975.8 1375.0 L977.8 1375.0 L979.8 1375.0 L981.8 1375.0 L983.8 1375.0 L985.8 1375.0 L987.8 1375.0 L989.8 1375.0 L991.8 1375.0 L993.8 1375.0 L995.8 1375.0 L997.8 1375.0 L999.8 1375.0 L1001.8 1375.0 L1003.8 1375.1 L1005.8 1375.1 L1007.8 1375.1 L1009.8 1375.1 L1011.8 1375.1 L1013.8 1375.1 L1015.8 1375.1 L1017.8 1375.1 L1019.8 1375.1 L1021.8 1375.1 L1023.8 1375.1 L1025.8 1375.1 L1027.8 1375.1 L1029.8 1375.1 L1031.8 1375.1 L1033.8 1375.1 L1035.8 1375.1 L1037.8 1375.1 L1039.8 1375.1 L1041.8 1375.1 L1043.8 1375.1 L1045.8 1375.1 L1047.8 1375.1 L1049.8 1375.1 L1051.8 1375.1 L1053.8 1375.1 L1055.8 1375.1 L1057.8 1375.1 L1059.8 1375.1 L1061.8 1375.1 L1063.8 1375.1 L1065.8 1375.2 L1067.8 1375.2 L1069.8 1375.2 L1071.8 1375.2 L1073.8 1375.2 L1075.8 1375.2 L1077.8 1375.2 L1079.8 1375.2 L1081.8 1375.2 L1083.8 1375.2 L1085.8 1375.2 L1087.8 1375.2 L1089.8 1375.2 L1091.8 1375.2 L1093.8 1375.2 L1095.8 1375.2 L1097.8 1375.2 L1099.8 1375.2 L1101.8 1375.2 L1103.8 1375.2 L1105.8 1375.2 L1107.8 1375.2 L1109.8 1375.2 L1111.8 1375.2 L1113.8 1375.2 L1115.8 1375.2 L1117.8 1375.2 L1119.8 1375.2 L1121.8 1375.2 L1123.8 1375.2 L1125.8 1375.2 L1127.8 1375.2 L1129.8 1375.2 L1131.8 1375.2 L1133.8 1375.2 L1135.8 1375.2 L1137.8 1375.2 L1139.8 1375.3 L1141.8 1375.3 L1143.8 1375.3 L1145.8 1375.3 L1147.8 1375.3 L1149.8 1375.3 L1151.8 1375.3 L1153.8 1375.3 L1155.8 1375.3 L1157.8 1375.3 L1159.8 1375.3 L1161.8 1375.3 L1163.8 1375.3 L1165.8 1375.3 L1167.8 1375.3 L1169.8 1375.3 L1171.8 1375.3 L1173.8 1375.3 L1175.8 1375.3 L1177.8 1375.3 L1179.8 1375.3 L1181.8 1375.3 L1183.8 1375.3 L1185.8 1375.3 L1187.8 1375.3 L1189.8 1375.3 L1191.8 1375.3 L1193.8 1375.3 L1195.8 1375.3 L1197.8 1375.3 L1199.8 1375.3 L1201.8 1375.3 L1203.8 1375.3 L1205.8 1375.3 L1207.8 1375.3 L1209.8 1375.3 L1211.8 1375.3 L1213.8 1375.3 L1215.8 1375.3 L1217.8 1375.3 L1219.8 1375.3 L1221.8 1375.3 L1223.8 1375.3 L1225.8 1375.3 L1227.8 1375.3 L1229.8 1375.3 L1231.8 1375.4 L1233.8 1375.4 L1235.8 1375.4 L1237.8 1375.4 L1239.8 1375.4 L1241.8 1375.4 L1243.8 1375.4 L1245.8 1375.4 L1247.8 1375.4 L1249.8 1375.4 L1251.8 1375.4 L1253.8 1375.4 L1255.8 1375.4 L1257.8 1375.4 L1259.8 1375.4 L1261.8 1375.4 L1263.8 1375.4 L1265.8 1375.4 L1267.8 1375.4 L1269.8 1375.4 L1271.8 1375.4 L1273.8 1375.4 L1275.8 1375.4 L1277.8 1375.4 L1279.8 1375.4 L1281.8 1375.4 L1283.8 1375.4 L1285.8 1375.4 L1287.8 1375.4 L1289.8 1375.4 L1291.8 1375.4 L1293.8 1375.4 L1295.8 1375.4 L1297.8 1375.4 L1299.8 1375.4 L1301.8 1375.4 L1303.8 1375.4 L1305.8 1375.4 L1307.8 1375.4 L1309.8 1375.4 L1311.8 1375.4 L1313.8 1375.4 L1315.8 1375.4 L1317.8 1375.4 L1319.8 1375.4 L1321.8 1375.4 L1323.8 1375.4 L1325.8 1375.4 L1327.8 1375.4 L1329.8 1375.4 L1331.8 1375.4 L1333.8 1375.4 L1335.8 1375.4 L1337.8 1375.4 L1339.8 1375.4 L1341.8 1375.4 L1343.8 1375.4 L1345.8 1375.5 L1347.8 1375.5 L1349.8 1375.5 L1351.8 1375.5 L1353.8 1375.5 L1355.8 1375.5 L1357.8 1375.5 L1359.8 1375.5 L1361.8 1375.5 L1363.8 1375.5 L1365.8 1375.5 L1367.8 1375.5 L1369.8 1375.5 L1371.8 1375.5 L1373.8 1375.5 L1375.8 1375.5 L1377.8 1375.5 L1379.8 1375.5 L1381.8 1375.5 L1383.8 1375.5 L1385.8 1375.5 L1387.8 1375.5 L1389.8 1375.5 L1391.8 1375.5 L1393.8 1375.5 L1395.8 1375.5 L1397.8 1375.5 L1399.8 1375.5 L1401.8 1375.5 L1403.8 1375.5 L1405.8 1375.5 L1407.8 1375.5 L1409.8 1375.5 L1411.8 1375.5 L1413.8 1375.5 L1415.8 1375.5 L1417.8 1375.5 L1419.8 1375.5 L1421.8 1375.5 L1423.8 1375.5 L1425.8 1375.5 L1427.8 1375.5 L1429.8 1375.5 L1431.8 1375.5 L1433.8 1375.5 L1435.8 1375.5 L1437.8 1375.5 L1439.8 1375.5 L1441.8 1375.5 L1443.8 1375.5 L1445.8 1375.5 L1447.8 1375.5 L1449.8 1375.5 L1451.8 1375.5 L1453.8 1375.5 L1455.8 1375.5 L1457.8 1375.5 L1459.8 1375.5 L1461.8 1375.5 L1463.8 1375.5 L1465.8 1375.5 L1467.8 1375.5 L1469.8 1375.5 L1471.8 1375.5 L1473.8 1375.5 L1475.8 1375.5 L1477.8 1375.5 L1479.8 1375.5 L1481.8 1375.5 L1483.8 1375.5 L1485.8 1375.5 L1487.8 1375.5 L1489.8 1375.5 L1491.8 1375.5 L1493.8 1375.5 L1495.8 1375.5 L1497.8 1375.6 L1499.8 1375.6 L1501.8 1375.6 L1503.8 1375.6 L1505.8 1375.6 L1507.8 1375.6 L1509.8 1375.6 L1511.8 1375.6 L1513.8 1375.6 L1515.8 1375.6 L1517.8 1375.6 L1519.8 1375.6 L1521.8 1375.6 L1523.8 1375.6 L1525.8 1375.6 L1527.8 1375.6 L1529.8 1375.6 L1531.8 1375.6 L1533.8 1375.6 L1535.8 1375.6 L1537.8 1375.6 L1539.8 1375.6 L1541.8 1375.6 L1543.8 1375.6 L1545.8 1375.6 L1547.8 1375.6 L1549.8 1375.6 L1551.8 1375.6 L1553.8 1375.6 L1555.8 1375.6 L1557.8 1375.6 L1559.8 1375.6 L1561.8 1375.6 L1563.8 1375.6 L1565.8 1375.6 L1567.8 1375.6 L1569.8 1375.6 L1571.8 1375.6 L1573.8 1375.6 L1575.8 1375.6 L1577.8 1375.6 L1579.8 1375.6 L1581.8 1375.6 L1583.8 1375.6 L1585.8 1375.6 L1587.8 1375.6 L1589.8 1375.6 L1591.8 1375.6 L1593.8 1375.6 L1595.8 1375.6 L1597.8 1375.6 L1599.8 1375.6 L1601.8 1375.6 L1603.8 1375.6 L1605.8 1375.6 L1607.8 1375.6 L1609.8 1375.6 L1611.8 1375.6 L1613.8 1375.6 L1615.8 1375.6 L1617.8 1375.6 L1619.8 1375.6 L1621.8 1375.6 L1623.8 1375.6 L1625.8 1375.6 L1627.8 1375.6 L1629.8 1375.6 L1631.8 1375.6 L1633.8 1375.6 L1635.8 1375.6 L1637.8 1375.6 L1639.8 1375.6 L1641.8 1375.6 L1643.8 1375.6 L1645.8 1375.6 L1647.8 1375.6 L1649.8 1375.6 L1651.8 1375.6 L1653.8 1375.6 L1655.8 1375.6 L1657.8 1375.6 L1659.8 1375.6 L1661.8 1375.6 L1663.8 1375.6 L1665.8 1375.6 L1667.8 1375.6 L1669.8 1375.6 L1671.8 1375.6 L1673.8 1375.6 L1675.8 1375.6 L1677.8 1375.6 L1679.8 1375.6 L1681.8 1375.6 L1683.8 1375.6 L1685.8 1375.6 L1687.8 1375.6 L1689.8 1375.6 L1691.8 1375.6 L1693.8 1375.6 L1695.8 1375.6 L1697.8 1375.6 L1699.8 1375.6 L1701.8 1375.6 L1703.8 1375.6 L1705.8 1375.6 L1707.8 1375.6 L1709.8 1375.7 L1711.8 1375.7 L1713.8 1375.7 L1715.8 1375.7 L1717.8 1375.7 L1719.8 1375.7 L1721.8 1375.7 L1723.8 1375.7 L1725.8 1375.7 L1727.8 1375.7 L1729.8 1375.7 L1731.8 1375.7 L1733.8 1375.7 L1735.8 1375.7 L1737.8 1375.7 L1739.8 1375.7 L1741.8 1375.7 L1743.8 1375.7 L1745.8 1375.7 L1747.8 1375.7 L1749.8 1375.7 L1751.8 1375.7 L1753.8 1375.7 L1755.8 1375.7 L1757.8 1375.7 L1759.8 1375.7 L1761.8 1375.7 L1763.8 1375.7 L1765.8 1375.7 L1767.8 1375.7 L1769.8 1375.7 L1771.8 1375.7 L1773.8 1375.7 L1775.8 1375.7 L1777.8 1375.7 L1779.8 1375.7 L1781.8 1375.7 L1783.8 1375.7 L1785.8 1375.7 L1787.8 1375.7 L1789.8 1375.7 L1791.8 1375.7 L1793.8 1375.7 L1795.8 1375.7 L1797.8 1375.7 L1799.8 1375.7 L1801.8 1375.7 L1803.8 1375.7 L1805.8 1375.7 L1807.8 1375.7 L1809.8 1375.7 L1811.8 1375.7 L1813.8 1375.7 L1815.8 1375.7 L1817.8 1375.7 L1819.8 1375.7 L1821.8 1375.7 L1823.8 1375.7 L1825.8 1375.7 L1827.8 1375.7 L1829.8 1375.7 L1831.8 1375.7 L1833.8 1375.7 L1835.8 1375.7 L1837.8 1375.7 L1839.8 1375.7 L1841.8 1375.7 L1843.8 1375.7 L1845.8 1375.7 L1847.8 1375.7 L1849.8 1375.7 L1851.8 1375.7 L1853.8 1375.7 L1855.8 1375.7 L1857.8 1375.7 L1859.8 1375.7 L1861.8 1375.7 L1863.8 1375.7 L1865.8 1375.7 L1867.8 1375.7 L1869.8 1375.7 L1871.8 1375.7 L1873.8 1375.7 L1875.8 1375.7 L1877.8 1375.7 L1879.8 1375.7 L1881.8 1375.7 L1883.8 1375.7 L1885.8 1375.7 L1887.8 1375.7 L1889.8 1375.7 L1891.8 1375.7 L1893.8 1375.7 L1895.8 1375.7 L1897.8 1375.7 L1899.8 1375.7 L1901.8 1375.7 L1903.8 1375.7 L1905.8 1375.7 L1907.8 1375.7 L1909.8 1375.7 L1911.8 1375.7 L1913.8 1375.7 L1915.8 1375.7 L1917.8 1375.7 L1919.8 1375.7 L1921.8 1375.7 L1923.8 1375.7 L1925.8 1375.7 L1927.8 1375.7 L1929.8 1375.7 L1931.8 1375.7 L1933.8 1375.7 L1935.8 1375.7 L1937.8 1375.7 L1939.8 1375.7 L1941.8 1375.7 L1943.8 1375.7 L1945.8 1375.7 L1947.8 1375.7 L1949.8 1375.7 L1951.8 1375.7 L1953.8 1375.7 L1955.8 1375.7 L1957.8 1375.7 L1959.8 1375.7 L1961.8 1375.7 L1963.8 1375.7 L1965.8 1375.7 L1967.8 1375.7 L1969.8 1375.7 L1971.8 1375.7 L1973.8 1375.7 L1975.8 1375.7 L1977.8 1375.7 L1979.8 1375.7 L1981.8 1375.7 L1983.8 1375.7 L1985.8 1375.7 L1987.8 1375.7 L1989.8 1375.7 L1991.8 1375.7 L1993.8 1375.7 L1995.8 1375.7 L1997.8 1375.7 L1999.8 1375.7 L2001.8 1375.7"/>
<path class="c" stroke="#804848" d="M97.8 1370.7 L99.8 1370.6 L101.8 1370.5 L103.8 1370.5 L105.8 1370.4 L107.8 1370.3 L109.8 1370.2 L111.8 1370.2 L113.8 1370.1 L115.8 1370.0 L117.8 1369.9 L119.8 1369.8 L121.8 1369.7 L123.8 1369.6 L125.8 1369.6 L127.8 1369.5 L129.8 1369.4 L131.8 1369.3 L133.8 1369.2 L135.8 1369.1 L137.8 1369.0 L139.8 1368.9 L141.8 1368.8 L143.8 1368.6 L145.8 1368.5 L147.8 1368.4 L149.8 1368.3 L151.8 1368.2 L153.8 1368.1 L155.8 1367.9 L157.8 1367.8 L159.8 1367.7 L161.8 1367.5 L163.8 1367.4 L165.8 1367.2 L167.8 1367.1 L169.8 1366.9 L171.8 1366.8 L173.8 1366.6 L175.8 1366.5 L177.8 1366.3 L179.8 1366.1 L181.8 1366.0 L183.8 1365.8 L185.8 1365.6 L187.8 1365.4 L189.8 1365.2 L191.8 1365.0 L193.8 1364.8 L195.8 1364.6 L197.8 1364.3 L199.8 1364.1 L201.8 1363.9 L203.8 1363.6 L205.8 1363.3 L207.8 1363.1 L209.8 1362.8 L211.8 1362.5 L213.8 1362.2 L215.8 1361.9 L217.8 1361.6 L219.8 1361.2 L221.8 1360.9 L223.8 1360.5 L225.8 1360.1 L227.8 1359.7 L229.8 1359.2 L231.8 1358.8 L233.8 1358.3 L235.8 1357.8 L237.8 1357.2 L239.8 1356.7 L241.8 1356.1 L243.8 1355.4 L245.8 1354.7 L247.8 1354.0 L249.8 1353.3 L251.8 1352.5 L253.8 1351.6 L255.8 1350.7 L257.8 1349.7 L259.8 1348.7 L261.8 1347.6 L263.8 1346.4 L265.8 1345.2 L267.8 1343.9 L269.8 1342.5 L271.8 1341.0 L273.8 1339.4 L275.8 1337.7 L277.8 1336.0 L279.8 1334.1 L281.8 1332.1 L283.8 1330.0 L285.8 1327.7 L287.8 1325.3 L289.8 1322.8 L291.8 1320.2 L293.8 1317.4 L295.8 1314.5 L297.8 1311.4 L299.8 1308.1 L301.8 1304.7 L303.8 1301.2 L305.8 1297.4 L307.8 1293.5 L309.8 1289.4 L311.8 1285.2 L313.8 1280.7 L315.8 1276.1 L317.8 1271.3 L319.8 1266.4 L321.8 1261.3 L323.8 1256.0 L325.8 1250.5 L327.8 1244.9 L329.8 1239.1 L331.8 1233.1 L333.8 1227.1 L335.8 1220.8 L337.8 1214.5 L339.8 1208.1 L341.8 1201.5 L343.8 1194.9 L345.8 1188.2 L347.8 1181.4 L349.8 1174.6 L351.8 1167.8 L353.8 1161.0 L355.8 1154.3 L357.8 1147.6 L359.8 1141.0 L361.8 1134.5 L363.8 1128.1 L365.8 1121.9 L367.8 1116.0 L369.8 1110.3 L371.8 1104.8 L373.8 1099.7 L375.8 1095.0 L377.8 1090.6 L379.8 1086.7 L381.8 1083.2 L383.8 1080.3 L385.8 1077.8 L387.8 1075.9 L389.8 1074.5 L391.8 1073.7 L393.8 1073.5 L395.8 1073.9 L397.8 1074.8 L399.8 1076.3 L401.8 1078.4 L403.8 1081.0 L405.8 1084.1 L407.8 1087.6 L409.8 1091.7 L411.8 1096.1 L413.8 1101.0 L415.8 1106.2 L417.8 1111.7 L419.8 1117.4 L421.8 1123.5 L423.8 1129.7 L425.8 1136.1 L427.8 1142.6 L429.8 1149.2 L431.8 1156.0 L433.8 1162.7 L435.8 1169.5 L437.8 1176.3 L439.8 1183.1 L441.8 1189.9 L443.8 1196.5 L445.8 1203.2 L447.8 1209.7 L449.8 1216.1 L451.8 1222.4 L453.8 1228.6 L455.8 1234.6 L457.8 1240.5 L459.8 1246.3 L461.8 1251.9 L463.8 1257.3 L465.8 1262.6 L467.8 1267.6 L469.8 1272.6 L471.8 1277.3 L473.8 1281.9 L475.8 1286.3 L477.8 1290.5 L479.8 1294.5 L481.8 1298.4 L483.8 1302.1 L485.8 1305.6 L487.8 1309.0 L489.8 1312.2 L491.8 1315.2 L493.8 1318.1 L495.8 1320.9 L497.8 1323.5 L499.8 1325.9 L501.8 1328.3 L503.8 1330.5 L505.8 1332.6 L507.8 1334.6 L509.8 1336.4 L511.8 1338.2 L513.8 1339.8 L515.8 1341.4 L517.8 1342.8 L519.8 1344.2 L521.8 1345.5 L523.8 1346.7 L525.8 1347.9 L527.8 1349.0 L529.8 1350.0 L531.8 1350.9 L533.8 1351.8 L535.8 1352.7 L537.8 1353.5 L539.8 1354.2 L541.8 1354.9 L543.8 1355.6 L545.8 1356.2 L547.8 1356.8 L549.8 1357.4 L551.8 1357.9 L553.8 1358.4 L555.8 1358.9 L557.8 1359.3 L559.8 1359.8 L561.8 1360.2 L563.8 1360.6 L565.8 1360.9 L567.8 1361.3 L569.8 1361.6 L571.8 1362.0 L573.8 1362.3 L575.8 1362.6 L577.8 1362.9 L579.8 1363.1 L581.8 1363.4 L583.8 1363.7 L585.8 1363.9 L587.8 1364.2 L589.8 1364.4 L591.8 1364.6 L593.8 1364.8 L595.8 1365.0 L597.8 1365.2 L599.8 1365.4 L601.8 1365.6 L603.8 1365.8 L605.8 1366.0 L607.8 1366.2 L609.8 1366.3 L611.8 1366.5 L613.8 1366.7 L615.8 1366.8 L617.8 1367.0 L619.8 1367.1 L621.8 1367.3 L623.8 1367.4 L625.8 1367.6 L627.8 1367.7 L629.8 1367.8 L631.8 1368.0 L633.8 1368.1 L635.8 1368.2 L637.8 1368.3 L639.8 1368.4 L641.8 1368.6 L643.8 1368.7 L645.8 1368.8 L647.8 1368.9 L649.8 1369.0 L651.8 1369.1 L653.8 1369.2 L655.8 1369.3 L657.8 1369.4 L659.8 1369.5 L661.8 1369.6 L663.8 1369.7 L665.8 1369.8 L667.8 1369.8 L669.8 1369.9 L671.8 1370.0 L673.8 1370.1 L675.8 1370.2 L677.8 1370.3 L679.8 1370.3 L681.8 1370.4 L683.8 1370.5 L685.8 1370.6 L687.8 1370.6 L689.8 1370.7 L691.8 1370.8 L693.8 1370.8 L695.8 1370.9 L697.8 1371.0 L699.8 1371.0 L701.8 1371.1 L703.8 1371.1 L705.8 1371.2 L707.8 1371.3 L709.8 1371.3 L711.8 1371.4 L713.8 1371.4 L715.8 1371.5 L717.8 1371.5 L719.8 1371.6 L721.8 1371.6 L723.8 1371.7 L725.8 1371.7 L727.8 1371.8 L729.8 1371.8 L731.8 1371.9 L733.8 1371.9 L735.8 1372.0 L737.8 1372.0 L739.8 1372.1 L741.8 1372.1 L743.8 1372.2 L745.8 1372.2 L747.8 1372.2 L749.8 1372.3 L751.8 1372.3 L753.8 1372.4 L755.8 1372.4 L757.8 1372.4 L759.8 1372.5 L761.8 1372.5 L763.8 1372.6 L765.8 1372.6 L767.8 1372.6 L769.8 1372.7 L771.8 1372.7 L773.8 1372.7 L775.8 1372.8 L777.8 1372.8 L779.8 1372.8 L781.8 1372.9 L783.8 1372.9 L785.8 1372.9 L787.8 1373.0 L789.8 1373.0 L791.8 1373.0 L793.8 1373.0 L795.8 1373.1 L797.8 1373.1 L799.8 1373.1 L801.8 1373.2 L803.8 1373.2 L805.8 1373.2 L807.8 1373.2 L809.8 1373.3 L811.8 1373.3 L813.8 1373.3 L815.8 1373.3 L817.8 1373.4 L819.8 1373.4 L821.8 1373.4 L823.8 1373.4 L825.8 1373.5 L827.8 1373.5 L829.8 1373.5 L831.8 1373.5 L833.8 1373.5 L835.8 1373.6 L837.8 1373.6 L839.8 1373.6 L841.8 1373.6 L843.8 1373.7 L845.8 1373.7 L847.8 1373.7 L849.8 1373.7 L851.8 1373.7 L853.8 1373.8 L855.8 1373.8 L857.8 1373.8 L859.8 1373.8 L861.8 1373.8 L863.8 1373.8 L865.8 1373.9 L867.8 1373.9 L869.8 1373.9 L871.8 1373.9 L873.8 1373.9 L875.8 1373.9 L877.8 1374.0 L879.8 1374.0 L881.8 1374.0 L883.8 1374.0 L885.8 1374.0 L887.8 1374.0 L889.8 1374.1 L891.8 1374.1 L893.8 1374.1 L895.8 1374.1 L897.8 1374.1 L899.8 1374.1 L901.8 1374.1 L903.8 1374.2 L905.8 1374.2 L907.8 1374.2 L909.8 1374.2 L911.8 1374.2 L913.8 1374.2 L915.8 1374.2 L917.8 1374.3 L919.8 1374.3 L921.8 1374.3 L923.8 1374.3 L925.8 1374.3 L927.8 1374.3 L929.8 1374.3 L931.8 1374.3 L933.8 1374.4 L935.8 1374.4 L937.8 1374.4 L939.8 1374.4 L941.8 1374.4 L943.8 1374.4 L945.8 1374.4 L947.8 1374.4 L949.8 1374.5 L951.8 1374.5 L953.8 1374.5 L955.8 1374.5 L957.8 1374.5 L959.8 1374.5 L961.8 1374.5 L963.8 1374.5 L965.8 1374.5 L967.8 1374.5 L969.8 1374.6 L971.8 1374.6 L973.8 1374.6 L975.8 1374.6 L977.8 1374.6 L979.8 1374.6 L981.8 1374.6 L983.8 1374.6 L985.8 1374.6 L987.8 1374.6 L989.8 1374.7 L991.8 1374.7 L993.8 1374.7 L995.8 1374.7 L997.8 1374.7 L999.8 1374.7 L1001.8 1374.7 L1003.8 1374.7 L1005.8 1374.7 L1007.8 1374.7 L1009.8 1374.7 L1011.8 1374.7 L1013.8 1374.8 L1015.8 1374.8 L1017.8 1374.8 L1019.8 1374.8 L1021.8 1374.8 L1023.8 1374.8 L1025.8 1374.8 L1027.8 1374.8 L1029.8 1374.8 L1031.8 1374.8 L1033.8 1374.8 L1035.8 1374.8 L1037.8 1374.8 L1039.8 1374.8 L1041.8 1374.9 L1043.8 1374.9 L1045.8 1374.9 L1047.8 1374.9 L1049.8 1374.9 L1051.8 1374.9 L1053.8 1374.9 L1055.8 1374.9 L1057.8 1374.9 L1059.8 1374.9 L1061.8 1374.9 L1063.8 1374.9 L1065.8 1374.9 L1067.8 1374.9 L1069.8 1374.9 L1071.8 1375.0 L1073.8 1375.0 L1075.8 1375.0 L1077.8 1375.0 L1079.8 1375.0 L1081.8 1375.0 L1083.8 1375.0 L1085.8 1375.0 L1087.8 1375.0 L1089.8 1375.0 L1091.8 1375.0 L1093.8 1375.0 L1095.8 1375.0 L1097.8 1375.0 L1099.8 1375.0 L1101.8 1375.0 L1103.8 1375.0 L1105.8 1375.1 L1107.8 1375.1 L1109.8 1375.1 L1111.8 1375.1 L1113.8 1375.1 L1115.8 1375.1 L1117.8 1375.1 L1119.8 1375.1 L1121.8 1375.1 L1123.8 1375.1 L1125.8 1375.1 L1127.8 1375.1 L1129.8 1375.1 L1131.8 1375.1 L1133.8 1375.1 L1135.8 1375.1 L1137.8 1375.1 L1139.8 1375.1 L1141.8 1375.1 L1143.8 1375.1 L1145.8 1375.1 L1147.8 1375.2 L1149.8 1375.2 L1151.8 1375.2 L1153.8 1375.2 L1155.8 1375.2 L1157.8 1375.2 L1159.8 1375.2 L1161.8 1375.2 L1163.8 1375.2 L1165.8 1375.2 L1167.8 1375.2 L1169.8 1375.2 L1171.8 1375.2 L1173.8 1375.2 L1175.8 1375.2 L1177.8 1375.2 L1179.8 1375.2 L1181.8 1375.2 L1183.8 1375.2 L1185.8 1375.2 L1187.8 1375.2 L1189.8 1375.2 L1191.8 1375.2 L1193.8 1375.2 L1195.8 1375.3 L1197.8 1375.3 L1199.8 1375.3 L1201.8 1375.3 L1203.8 1375.3 L1205.8 1375.3 L1207.8 1375.3 L1209.8 1375.3 L1211.8 1375.3 L1213.8 1375.3 L1215.8 1375.3 L1217.8 1375.3 L1219.8 1375.3 L1221.8 1375.3 L1223.8 1375.3 L1225.8 1375.3 L1227.8 1375.3 L1229.8 1375.3 L1231.8 1375.3 L1233.8 1375.3 L1235.8 1375.3 L1237.8 1375.3 L1239.8 1375.3 L1241.8 1375.3 L1243.8 1375.3 L1245.8 1375.3 L1247.8 1375.3 L1249.8 1375.3 L1251.8 1375.3 L1253.8 1375.3 L1255.8 1375.4 L1257.8 1375.4 L1259.8 1375.4 L1261.8 1375.4 L1263.8 1375.4 L1265.8 1375.4 L1267.8 1375.4 L1269.8 1375.4 L1271.8 1375.4 L1273.8 1375.4 L1275.8 1375.4 L1277.8 1375.4 L1279.8 1375.4 L1281.8 1375.4 L1283.8 1375.4 L1285.8 1375.4 L1287.8 1375.4 L1289.8 1375.4 L1291.8 1375.4 L1293.8 1375.4 L1295.8 1375.4 L1297.8 1375.4 L1299.8 1375.4 L1301.8 1375.4 L1303.8 1375.4 L1305.8 1375.4 L1307.8 1375.4 L1309.8 1375.4 L1311.8 1375.4 L1313.8 1375.4 L1315.8 1375.4 L1317.8 1375.4 L1319.8 1375.4 L1321.8 1375.4 L1323.8 1375.4 L1325.8 1375.4 L1327.8 1375.4 L1329.8 1375.4 L1331.8 1375.5 L1333.8 1375.5 L1335.8 1375.5 L1337.8 1375.5 L1339.8 1375.5 L1341.8 1375.5 L1343.8 1375.5 L1345.8 1375.5 L1347.8 1375.5 L1349.8 1375.5 L1351.8 1375.5 L1353.8 1375.5 L1355.8 1375.5 L1357.8 1375.5 L1359.8 1375.5 L1361.8 1375.5 L1363.8 1375.5 L1365.8 1375.5 L1367.8 1375.5 L1369.8 1375.5 L1371.8 1375.5 L1373.8 1375.5 L1375.8 1375.5 L1377.8 1375.5 L1379.8 1375.5 L1381.8 1375.5 L1383.8 1375.5 L1385.8 1375.5 L1387.8 1375.5 L1389.8 1375.5 L1391.8 1375.5 L1393.8 1375.5 L1395.8 1375.5 L1397.8 1375.5 L1399.8 1375.5 L1401.8 1375.5 L1403.8 1375.5 L1405.8 1375.5 L1407.8 1375.5 L1409.8 1375.5 L1411.8 1375.5 L1413.8 1375.5 L1415.8 1375.5 L1417.8 1375.5 L1419.8 1375.5 L1421.8 1375.5 L1423.8 1375.5 L1425.8 1375.5 L1427.8 1375.5 L1429.8 1375.6 L1431.8 1375.6 L1433.8 1375.6 L1435.8 1375.6 L1437.8 1375.6 L1439.8 1375.6 L1441.8 1375.6 L1443.8 1375.6 L1445.8 1375.6 L1447.8 1375.6 L1449.8 1375.6 L1451.8 1375.6 L1453.8 1375.6 L1455.8 1375.6 L1457.8 1375.6 L1459.8 1375.6 L1461.8 1375.6 L1463.8 1375.6 L1465.8 1375.6 L1467.8 1375.6 L1469.8 1375.6 L1471.8 1375.6 L1473.8 1375.6 L1475.8 1375.6 L1477.8 1375.6 L1479.8 1375.6 L1481.8 1375.6 L1483.8 1375.6 L1485.8 1375.6 L1487.8 1375.6 L1489.8 1375.6 L1491.8 1375.6 L1493.8 1375.6 L1495.8 1375.6 L1497.8 1375.6 L1499.8 1375.6 L1501.8 1375.6 L1503.8 1375.6 L1505.8 1375.6 L1507.8 1375.6 L1509.8 1375.6 L1511.8 1375.6 L1513.8 1375.6 L1515.8 1375.6 L1517.8 1375.6 L1519.8 1375.6 L1521.8 1375.6 L1523.8 1375.6 L1525.8 1375.6 L1527.8 1375.6 L1529.8 1375.6 L1531.8 1375.6 L1533.8 1375.6 L1535.8 1375.6 L1537.8 1375.6 L1539.8 1375.6 L1541.8 1375.6 L1543.8 1375.6 L1545.8 1375.6 L1547.8 1375.6 L1549.8 1375.6 L1551.8 1375.6 L1553.8 1375.6 L1555.8 1375.6 L1557.8 1375.6 L1559.8 1375.6 L1561.8 1375.6 L1563.8 1375.6 L1565.8 1375.6 L1567.8 1375.6 L1569.8 1375.7 L1571.8 1375.7 L1573.8 1375.7 L1575.8 1375.7 L1577.8 1375.7 L1579.8 1375.7 L1581.8 1375.7 L1583.8 1375.7 L1585.8 1375.7 L1587.8 1375.7 L1589.8 1375.7 L1591.8 1375.7 L1593.8 1375.7 L1595.8 1375.7 L1597.8 1375.7 L1599.8 1375.7 L1601.8 1375.7 L1603.8 1375.7 L1605.8 1375.7 L1607.8 1375.7 L1609.8 1375.7 L1611.8 1375.7 L1613.8 1375.7 L1615.8 1375.7 L1617.8 1375.7 L1619.8 1375.7 L1621.8 1375.7 L1623.8 1375.7 L1625.8 1375.7 L1627.8 1375.7 L1629.8 1375.7 L1631.8 1375.7 L1633.8 1375.7 L1635.8 1375.7 L1637.8 1375.7 L1639.8 1375.7 L1641.8 1375.7 L1643.8 1375.7 L1645.8 1375.7 L1647.8 1375.7 L1649.8 1375.7 L1651.8 1375.7 L1653.8 1375.7 L1655.8 1375.7 L1657.8 1375.7 L1659.8 1375.7 L1661.8 1375.7 L1663.8 1375.7 L1665.8 1375.7 L1667.8 1375.7 L1669.8 1375.7 L1671.8 1375.7 L1673.8 1375.7 L1675.8 1375.7 L1677.8 1375.7 L1679.8 1375.7 L1681.8 1375.7 L1683.8 1375.7 L1685.8 1375.7 L1687.8 1375.7 L1689.8 1375.7 L1691.8 1375.7 L1693.8 1375.7 L1695.8 1375.7 L1697.8 1375.7 L1699.8 1375.7 L1701.8 1375.7 L1703.8 1375.7 L1705.8 1375.7 L1707.8 1375.7 L1709.8 1375.7 L1711.8 1375.7 L1713.8 1375.7 L1715.8 1375.7 L1717.8 1375.7 L1719.8 1375.7 L1721.8 1375.7 L1723.8 1375.7 L1725.8 1375.7 L1727.8 1375.7 L1729.8 1375.7 L1731.8 1375.7 L1733.8 1375.7 L1735.8 1375.7 L1737.8 1375.7 L1739.8 1375.7 L1741.8 1375.7 L1743.8 1375.7 L1745.8 1375.7 L1747.8 1375.7 L1749.8 1375.7 L1751.8 1375.7 L1753.8 1375.7 L1755.8 1375.7 L1757.8 1375.7 L1759.8 1375.7 L1761.8 1375.7 L1763.8 1375.7 L1765.8 1375.7 L1767.8 1375.7 L1769.8 1375.7 L1771.8 1375.7 L1773.8 1375.7 L1775.8 1375.7 L1777.8 1375.7 L1779.8 1375.7 L1781.8 1375.7 L1783.8 1375.7 L1785.8 1375.8 L1787.8 1375.8 L1789.8 1375.8 L1791.8 1375.8 L1793.8 1375.8 L1795.8 1375.8 L1797.8 1375.8 L1799.8 1375.8 L1801.8 1375.8 L1803.8 1375.8 L1805.8 1375.8 L1807.8 1375.8 L1809.8 1375.8 L1811.8 1375.8 L1813.8 1375.8 L1815.8 1375.8 L1817.8 1375.8 L1819.8 1375.8 L1821.8 1375.8 L1823.8 1375.8 L1825.8 1375.8 L1827.8 1375.8 L1829.8 1375.8 L1831.8 1375.8 L1833.8 1375.8 L1835.8 1375.8 L1837.8 1375.8 L1839.8 1375.8 L1841.8 1375.8 L1843.8 1375.8 L1845.8 1375.8 L1847.8 1375.8 L1849.8 1375.8 L1851.8 1375.8 L1853.8 1375.8 L1855.8 1375.8 L1857.8 1375.8 L1859.8 1375.8 L1861.8 1375.8 L1863.8 1375.8 L1865.8 1375.8 L1867.8 1375.8 L1869.8 1375.8 L1871.8 1375.8 L1873.8 1375.8 L1875.8 1375.8 L1877.8 1375.8 L1879.8 1375.8 L1881.8 1375.8 L1883.8 1375.8 L1885.8 1375.8 L1887.8 1375.8 L1889.8 1375.8 L1891.8 1375.8 L1893.8 1375.8 L1895.8 1375.8 L1897.8 1375.8 L1899.8 1375.8 L1901.8 1375.8 L1903.8 1375.8 L1905.8 1375.8 L1907.8 1375.8 L1909.8 1375.8 L1911.8 1375.8 L1913.8 1375.8 L1915.8 1375.8 L1917.8 1375.8 L1919.8 1375.8 L1921.8 1375.8 L1923.8 1375.8 L1925.8 1375.8 L1927.8 1375.8 L1929.8 1375.8 L1931.8 1375.8 L1933.8 1375.8 L1935.8 1375.8 L1937.8 1375.8 L1939.8 1375.8 L1941.8 1375.8 L1943.8 1375.8 L1945.8 1375.8 L1947.8 1375.8 L1949.8 1375.8 L1951.8 1375.8 L1953.8 1375.8 L1955.8 1375.8 L1957.8 1375.8 L1959.8 1375.8 L1961.8 1375.8 L1963.8 1375.8 L1965.8 1375.8 L1967.8 1375.8 L1969.8 1375.8 L1971.8 1375.8 L1973.8 1375.8 L1975.8 1375.8 L1977.8 1375.8 L1979.8 1375.8 L1981.8 1375.8 L1983.8 1375.8 L1985.8 1375.8 L1987.8 1375.8 L1989.8 1375.8 L1991.8 1375.8 L1993.8 1375.8 L1995.8 1375.8 L1997.8 1375.8 L1999.8 1375.8 L2001.8 1375.8"/>
<path class="c" stroke="#8C8C00" d="M97.8 1254.6 L99.8 1250.1 L101.8 1245.4 L103.8 1240.6 L105.8 1235.7 L107.8 1230.7 L109.8 1225.5 L111.8 1220.3 L113.8 1214.9 L115.8 1209.5 L117.8 1203.9 L119.8 1198.3 L121.8 1192.6 L123.8 1186.8 L125.8 1180.9 L127.8 1175.0 L129.8 1169.0 L131.8 1163.0 L133.8 1156.9 L135.8 1150.8 L137.8 1144.7 L139.8 1138.5 L141.8 1132.4 L143.8 1126.3 L145.8 1120.3 L147.8 1114.2 L149.8 1108.3 L151.8 1102.4 L153.8 1096.6 L155.8 1090.9 L157.8 1085.4 L159.8 1080.0 L161.8 1074.7 L163.8 1069.7 L165.8 1064.8 L167.8 1060.2 L169.8 1055.8 L171.8 1051.6 L173.8 1047.7 L175.8 1044.2 L177.8 1040.9 L179.8 1038.0 L181.8 1035.4 L183.8 1033.2 L185.8 1031.3 L187.8 1029.8 L189.8 1028.7 L191.8 1028.0 L193.8 1027.7 L195.8 1027.8 L197.8 1028.3 L199.8 1029.2 L201.8 1030.4 L203.8 1032.1 L205.8 1034.1 L207.8 1036.5 L209.8 1039.3 L211.8 1042.3 L213.8 1045.7 L215.8 1049.5 L217.8 1053.4 L219.8 1057.7 L221.8 1062.2 L223.8 1067.0 L225.8 1071.9 L227.8 1077.1 L229.8 1082.4 L231.8 1087.8 L233.8 1093.5 L235.8 1099.2 L237.8 1105.0 L239.8 1110.9 L241.8 1116.9 L243.8 1123.0 L245.8 1129.1 L247.8 1135.2 L249.8 1141.3 L251.8 1147.4 L253.8 1153.5 L255.8 1159.6 L257.8 1165.7 L259.8 1171.7 L261.8 1177.7 L263.8 1183.6 L265.8 1189.4 L267.8 1195.2 L269.8 1200.9 L271.8 1206.5 L273.8 1212.0 L275.8 1217.4 L277.8 1222.7 L279.8 1227.9 L281.8 1232.9 L283.8 1237.9 L285.8 1242.8 L287.8 1247.5 L289.8 1252.1 L291.8 1256.6 L293.8 1261.0 L295.8 1265.2 L297.8 1269.3 L299.8 1273.3 L301.8 1277.2 L303.8 1281.0 L305.8 1284.6 L307.8 1288.1 L309.8 1291.5 L311.8 1294.7 L313.8 1297.9 L315.8 1300.9 L317.8 1303.8 L319.8 1306.6 L321.8 1309.3 L323.8 1311.9 L325.8 1314.4 L327.8 1316.7 L329.8 1319.0 L331.8 1321.2 L333.8 1323.3 L335.8 1325.3 L337.8 1327.2 L339.8 1329.0 L341.8 1330.8 L343.8 1332.4 L345.8 1334.0 L347.8 1335.5 L349.8 1336.9 L351.8 1338.3 L353.8 1339.6 L355.8 1340.9 L357.8 1342.1 L359.8 1343.2 L361.8 1344.3 L363.8 1345.3 L365.8 1346.3 L367.8 1347.2 L369.8 1348.1 L371.8 1348.9 L373.8 1349.7 L375.8 1350.5 L377.8 1351.2 L379.8 1351.9 L381.8 1352.5 L383.8 1353.2 L385.8 1353.7 L387.8 1354.3 L389.8 1354.9 L391.8 1355.4 L393.8 1355.9 L395.8 1356.3 L397.8 1356.8 L399.8 1357.2 L401.8 1357.6 L403.8 1358.0 L405.8 1358.4 L407.8 1358.8 L409.8 1359.1 L411.8 1359.5 L413.8 1359.8 L415.8 1360.1 L417.8 1360.4 L419.8 1360.7 L421.8 1361.0 L423.8 1361.3 L425.8 1361.5 L427.8 1361.8 L429.8 1362.0 L431.8 1362.2 L433.8 1362.5 L435.8 1362.7 L437.8 1362.9 L439.8 1363.1 L441.8 1363.3 L443.8 1363.5 L445.8 1363.7 L447.8 1363.9 L449.8 1364.1 L451.8 1364.3 L453.8 1364.4 L455.8 1364.6 L457.8 1364.8 L459.8 1364.9 L461.8 1365.1 L463.8 1365.2 L465.8 1365.4 L467.8 1365.5 L469.8 1365.7 L471.8 1365.8 L473.8 1366.0 L475.8 1366.1 L477.8 1366.2 L479.8 1366.4 L481.8 1366.5 L483.8 1366.6 L485.8 1366.7 L487.8 1366.8 L489.8 1367.0 L491.8 1367.1 L493.8 1367.2 L495.8 1367.3 L497.8 1367.4 L499.8 1367.5 L501.8 1367.6 L503.8 1367.7 L505.8 1367.8 L507.8 1367.9 L509.8 1368.0 L511.8 1368.1 L513.8 1368.2 L515.8 1368.3 L517.8 1368.4 L519.8 1368.5 L521.8 1368.6 L523.8 1368.6 L525.8 1368.7 L527.8 1368.8 L529.8 1368.9 L531.8 1369.0 L533.8 1369.1 L535.8 1369.1 L537.8 1369.2 L539.8 1369.3 L541.8 1369.4 L543.8 1369.4 L545.8 1369.5 L547.8 1369.6 L549.8 1369.6 L551.8 1369.7 L553.8 1369.8 L555.8 1369.8 L557.8 1369.9 L559.8 1370.0 L561.8 1370.0 L563.8 1370.1 L565.8 1370.2 L567.8 1370.2 L569.8 1370.3 L571.8 1370.3 L573.8 1370.4 L575.8 1370.4 L577.8 1370.5 L579.8 1370.6 L581.8 1370.6 L583.8 1370.7 L585.8 1370.7 L587.8 1370.8 L589.8 1370.8 L591.8 1370.9 L593.8 1370.9 L595.8 1371.0 L597.8 1371.0 L599.8 1371.1 L601.8 1371.1 L603.8 1371.2 L605.8 1371.2 L607.8 1371.2 L609.8 1371.3 L611.8 1371.3 L613.8 1371.4 L615.8 1371.4 L617.8 1371.5 L619.8 1371.5 L621.8 1371.5 L623.8 1371.6 L625.8 1371.6 L627.8 1371.7 L629.8 1371.7 L631.8 1371.7 L633.8 1371.8 L635.8 1371.8 L637.8 1371.8 L639.8 1371.9 L641.8 1371.9 L643.8 1372.0 L645.8 1372.0 L647.8 1372.0 L649.8 1372.1 L651.8 1372.1 L653.8 1372.1 L655.8 1372.2 L657.8 1372.2 L659.8 1372.2 L661.8 1372.3 L663.8 1372.3 L665.8 1372.3 L667.8 1372.3 L669.8 1372.4 L671.8 1372.4 L673.8 1372.4 L675.8 1372.5 L677.8 1372.5 L679.8 1372.5 L681.8 1372.5 L683.8 1372.6 L685.8 1372.6 L687.8 1372.6 L689.8 1372.7 L691.8 1372.7 L693.8 1372.7 L695.8 1372.7 L697.8 1372.8 L699.8 1372.8 L701.8 1372.8 L703.8 1372.8 L705.8 1372.9 L707.8 1372.9 L709.8 1372.9 L711.8 1372.9 L713.8 1372.9 L715.8 1373.0 L717.8 1373.0 L719.8 1373.0 L721.8 1373.0 L723.8 1373.1 L725.8 1373.1 L727.8 1373.1 L729.8 1373.1 L731.8 1373.1 L733.8 1373.2 L735.8 1373.2 L737.8 1373.2 L739.8 1373.2 L741.8 1373.2 L743.8 1373.3 L745.8 1373.3 L747.8 1373.3 L749.8 1373.3 L751.8 1373.3 L753.8 1373.4 L755.8 1373.4 L757.8 1373.4 L759.8 1373.4 L761.8 1373.4 L763.8 1373.5 L765.8 1373.5 L767.8 1373.5 L769.8 1373.5 L771.8 1373.5 L773.8 1373.5 L775.8 1373.6 L777.8 1373.6 L779.8 1373.6 L781.8 1373.6 L783.8 1373.6 L785.8 1373.6 L787.8 1373.7 L789.8 1373.7 L791.8 1373.7 L793.8 1373.7 L795.8 1373.7 L797.8 1373.7 L799.8 1373.7 L801.8 1373.8 L803.8 1373.8 L805.8 1373.8 L807.8 1373.8 L809.8 1373.8 L811.8 1373.8 L813.8 1373.8 L815.8 1373.9 L817.8 1373.9 L819.8 1373.9 L821.8 1373.9 L823.8 1373.9 L825.8 1373.9 L827.8 1373.9 L829.8 1373.9 L831.8 1374.0 L833.8 1374.0 L835.8 1374.0 L837.8 1374.0 L839.8 1374.0 L841.8 1374.0 L843.8 1374.0 L845.8 1374.0 L847.8 1374.1 L849.8 1374.1 L851.8 1374.1 L853.8 1374.1 L855.8 1374.1 L857.8 1374.1 L859.8 1374.1 L861.8 1374.1 L863.8 1374.1 L865.8 1374.2 L867.8 1374.2 L869.8 1374.2 L871.8 1374.2 L873.8 1374.2 L875.8 1374.2 L877.8 1374.2 L879.8 1374.2 L881.8 1374.2 L883.8 1374.3 L885.8 1374.3 L887.8 1374.3 L889.8 1374.3 L891.8 1374.3 L893.8 1374.3 L895.8 1374.3 L897.8 1374.3 L899.8 1374.3 L901.8 1374.3 L903.8 1374.3 L905.8 1374.4 L907.8 1374.4 L909.8 1374.4 L911.8 1374.4 L913.8 1374.4 L915.8 1374.4 L917.8 1374.4 L919.8 1374.4 L921.8 1374.4 L923.8 1374.4 L925.8 1374.4 L927.8 1374.5 L929.8 1374.5 L931.8 1374.5 L933.8 1374.5 L935.8 1374.5 L937.8 1374.5 L939.8 1374.5 L941.8 1374.5 L943.8 1374.5 L945.8 1374.5 L947.8 1374.5 L949.8 1374.5 L951.8 1374.5 L953.8 1374.6 L955.8 1374.6 L957.8 1374.6 L959.8 1374.6 L961.8 1374.6 L963.8 1374.6 L965.8 1374.6 L967.8 1374.6 L969.8 1374.6 L971.8 1374.6 L973.8 1374.6 L975.8 1374.6 L977.8 1374.6 L979.8 1374.7 L981.8 1374.7 L983.8 1374.7 L985.8 1374.7 L987.8 1374.7 L989.8 1374.7 L991.8 1374.7 L993.8 1374.7 L995.8 1374.7 L997.8 1374.7 L999.8 1374.7 L1001.8 1374.7 L1003.8 1374.7 L1005.8 1374.7 L1007.8 1374.7 L1009.8 1374.7 L1011.8 1374.8 L1013.8 1374.8 L1015.8 1374.8 L1017.8 1374.8 L1019.8 1374.8 L1021.8 1374.8 L1023.8 1374.8 L1025.8 1374.8 L1027.8 1374.8 L1029.8 1374.8 L1031.8 1374.8 L1033.8 1374.8 L1035.8 1374.8 L1037.8 1374.8 L1039.8 1374.8 L1041.8 1374.8 L1043.8 1374.8 L1045.8 1374.8 L1047.8 1374.9 L1049.8 1374.9 L1051.8 1374.9 L1053.8 1374.9 L1055.8 1374.9 L1057.8 1374.9 L1059.8 1374.9 L1061.8 1374.9 L1063.8 1374.9 L1065.8 1374.9 L1067.8 1374.9 L1069.8 1374.9 L1071.8 1374.9 L1073.8 1374.9 L1075.8 1374.9 L1077.8 1374.9 L1079.8 1374.9 L1081.8 1374.9 L1083.8 1374.9 L1085.8 1374.9 L1087.8 1375.0 L1089.8 1375.0 L1091.8 1375.0 L1093.8 1375.0 L1095.8 1375.0 L1097.8 1375.0 L1099.8 1375.0 L1101.8 1375.0 L1103.8 1375.0 L1105.8 1375.0 L1107.8 1375.0 L1109.8 1375.0 L1111.8 1375.0 L1113.8 1375.0 L1115.8 1375.0 L1117.8 1375.0 L1119.8 1375.0 L1121.8 1375.0 L1123.8 1375.0 L1125.8 1375.0 L1127.8 1375.0 L1129.8 1375.0 L1131.8 1375.0 L1133.8 1375.1 L1135.8 1375.1 L1137.8 1375.1 L1139.8 1375.1 L1141.8 1375.1 L1143.8 1375.1 L1145.8 1375.1 L1147.8 1375.1 L1149.8 1375.1 L1151.8 1375.1 L1153.8 1375.1 L1155.8 1375.1 L1157.8 1375.1 L1159.8 1375.1 L1161.8 1375.1 L1163.8 1375.1 L1165.8 1375.1 L1167.8 1375.1 L1169.8 1375.1 L1171.8 1375.1 L1173.8 1375.1 L1175.8 1375.1 L1177.8 1375.1 L1179.8 1375.1 L1181.8 1375.1 L1183.8 1375.1 L1185.8 1375.1 L1187.8 1375.2 L1189.8 1375.2 L1191.8 1375.2 L1193.8 1375.2 L1195.8 1375.2 L1197.8 1375.2 L1199.8 1375.2 L1201.8 1375.2 L1203.8 1375.2 L1205.8 1375.2 L1207.8 1375.2 L1209.8 1375.2 L1211.8 1375.2 L1213.8 1375.2 L1215.8 1375.2 L1217.8 1375.2 L1219.8 1375.2 L1221.8 1375.2 L1223.8 1375.2 L1225.8 1375.2 L1227.8 1375.2 L1229.8 1375.2 L1231.8 1375.2 L1233.8 1375.2 L1235.8 1375.2 L1237.8 1375.2 L1239.8 1375.2 L1241.8 1375.2 L1243.8 1375.2 L1245.8 1375.2 L1247.8 1375.2 L1249.8 1375.2 L1251.8 1375.3 L1253.8 1375.3 L1255.8 1375.3 L1257.8 1375.3 L1259.8 1375.3 L1261.8 1375.3 L1263.8 1375.3 L1265.8 1375.3 L1267.8 1375.3 L1269.8 1375.3 L1271.8 1375.3 L1273.8 1375.3 L1275.8 1375.3 L1277.8 1375.3 L1279.8 1375.3 L1281.8 1375.3 L1283.8 1375.3 L1285.8 1375.3 L1287.8 1375.3 L1289.8 1375.3 L1291.8 1375.3 L1293.8 1375.3 L1295.8 1375.3 L1297.8 1375.3 L1299.8 1375.3 L1301.8 1375.3 L1303.8 1375.3 L1305.8 1375.3 L1307.8 1375.3 L1309.8 1375.3 L1311.8 1375.3 L1313.8 1375.3 L1315.8 1375.3 L1317.8 1375.3 L1319.8 1375.3 L1321.8 1375.3 L1323.8 1375.3 L1325.8 1375.3 L1327.8 1375.3 L1329.8 1375.4 L1331.8 1375.4 L1333.8 1375.4 L1335.8 1375.4 L1337.8 1375.4 L1339.8 1375.4 L1341.8 1375.4 L1343.8 1375.4 L1345.8 1375.4 L1347.8 1375.4 L1349.8 1375.4 L1351.8 1375.4 L1353.8 1375.4 L1355.8 1375.4 L1357.8 1375.4 L1359.8 1375.4 L1361.8 1375.4 L1363.8 1375.4 L1365.8 1375.4 L1367.8 1375.4 L1369.8 1375.4 L1371.8 1375.4 L1373.8 1375.4 L1375.8 1375.4 L1377.8 1375.4 L1379.8 1375.4 L1381.8 1375.4 L1383.8 1375.4 L1385.8 1375.4 L1387.8 1375.4 L1389.8 1375.4 L1391.8 1375.4 L1393.8 1375.4 L1395.8 1375.4 L1397.8 1375.4 L1399.8 1375.4 L1401.8 1375.4 L1403.8 1375.4 L1405.8 1375.4 L1407.8 1375.4 L1409.8 1375.4 L1411.8 1375.4 L1413.8 1375.4 L1415.8 1375.4 L1417.8 1375.4 L1419.8 1375.4 L1421.8 1375.4 L1423.8 1375.4 L1425.8 1375.4 L1427.8 1375.4 L1429.8 1375.5 L1431.8 1375.5 L1433.8 1375.5 L1435.8 1375.5 L1437.8 1375.5 L1439.8 1375.5 L1441.8 1375.5 L1443.8 1375.5 L1445.8 1375.5 L1447.8 1375.5 L1449.8 1375.5 L1451.8 1375.5 L1453.8 1375.5 L1455.8 1375.5 L1457.8 1375.5 L1459.8 1375.5 L1461.8 1375.5 L1463.8 1375.5 L1465.8 1375.5 L1467.8 1375.5 L1469.8 1375.5 L1471.8 1375.5 L1473.8 1375.5 L1475.8 1375.5 L1477.8 1375.5 L1479.8 1375.5 L1481.8 1375.5 L1483.8 1375.5 L1485.8 1375.5 L1487.8 1375.5 L1489.8 1375.5 L1491.8 1375.5 L1493.8 1375.5 L1495.8 1375.5 L1497.8 1375.5 L1499.8 1375.5 L1501.8 1375.5 L1503.8 1375.5 L1505.8 1375.5 L1507.8 1375.5 L1509.8 1375.5 L1511.8 1375.5 L1513.8 1375.5 L1515.8 1375.5 L1517.8 1375.5 L1519.8 1375.5 L1521.8 1375.5 L1523.8 1375.5 L1525.8 1375.5 L1527.8 1375.5 L1529.8 1375.5 L1531.8 1375.5 L1533.8 1375.5 L1535.8 1375.5 L1537.8 1375.5 L1539.8 1375.5 L1541.8 1375.5 L1543.8 1375.5 L1545.8 1375.5 L1547.8 1375.5 L1549.8 1375.5 L1551.8 1375.5 L1553.8 1375.5 L1555.8 1375.5 L1557.8 1375.5 L1559.8 1375.6 L1561.8 1375.6 L1563.8 1375.6 L1565.8 1375.6 L1567.8 1375.6 L1569.8 1375.6 L1571.8 1375.6 L1573.8 1375.6 L1575.8 1375.6 L1577.8 1375.6 L1579.8 1375.6 L1581.8 1375.6 L1583.8 1375.6 L1585.8 1375.6 L1587.8 1375.6 L1589.8 1375.6 L1591.8 1375.6 L1593.8 1375.6 L1595.8 1375.6 L1597.8 1375.6 L1599.8 1375.6 L1601.8 1375.6 L1603.8 1375.6 L1605.8 1375.6 L1607.8 1375.6 L1609.8 1375.6 L1611.8 1375.6 L1613.8 1375.6 L1615.8 1375.6 L1617.8 1375.6 L1619.8 1375.6 L1621.8 1375.6 L1623.8 1375.6 L1625.8 1375.6 L1627.8 1375.6 L1629.8 1375.6 L1631.8 1375.6 L1633.8 1375.6 L1635.8 1375.6 L1637.8 1375.6 L1639.8 1375.6 L1641.8 1375.6 L1643.8 1375.6 L1645.8 1375.6 L1647.8 1375.6 L1649.8 1375.6 L1651.8 1375.6 L1653.8 1375.6 L1655.8 1375.6 L1657.8 1375.6 L1659.8 1375.6 L1661.8 1375.6 L1663.8 1375.6 L1665.8 1375.6 L1667.8 1375.6 L1669.8 1375.6 L1671.8 1375.6 L1673.8 1375.6 L1675.8 1375.6 L1677.8 1375.6 L1679.8 1375.6 L1681.8 1375.6 L1683.8 1375.6 L1685.8 1375.6 L1687.8 1375.6 L1689.8 1375.6 L1691.8 1375.6 L1693.8 1375.6 L1695.8 1375.6 L1697.8 1375.6 L1699.8 1375.6 L1701.8 1375.6 L1703.8 1375.6 L1705.8 1375.6 L1707.8 1375.6 L1709.8 1375.6 L1711.8 1375.6 L1713.8 1375.6 L1715.8 1375.6 L1717.8 1375.6 L1719.8 1375.6 L1721.8 1375.6 L1723.8 1375.6 L1725.8 1375.6 L1727.8 1375.6 L1729.8 1375.6 L1731.8 1375.6 L1733.8 1375.6 L1735.8 1375.6 L1737.8 1375.6 L1739.8 1375.6 L1741.8 1375.6 L1743.8 1375.7 L1745.8 1375.7 L1747.8 1375.7 L1749.8 1375.7 L1751.8 1375.7 L1753.8 1375.7 L1755.8 1375.7 L1757.8 1375.7 L1759.8 1375.7 L1761.8 1375.7 L1763.8 1375.7 L1765.8 1375.7 L1767.8 1375.7 L1769.8 1375.7 L1771.8 1375.7 L1773.8 1375.7 L1775.8 1375.7 L1777.8 1375.7 L1779.8 1375.7 L1781.8 1375.7 L1783.8 1375.7 L1785.8 1375.7 L1787.8 1375.7 L1789.8 1375.7 L1791.8 1375.7 L1793.8 1375.7 L1795.8 1375.7 L1797.8 1375.7 L1799.8 1375.7 L1801.8 1375.7 L1803.8 1375.7 L1805.8 1375.7 L1807.8 1375.7 L1809.8 1375.7 L1811.8 1375.7 L1813.8 1375.7 L1815.8 1375.7 L1817.8 1375.7 L1819.8 1375.7 L1821.8 1375.7 L1823.8 1375.7 L1825.8 1375.7 L1827.8 1375.7 L1829.8 1375.7 L1831.8 1375.7 L1833.8 1375.7 L1835.8 1375.7 L1837.8 1375.7 L1839.8 1375.7 L1841.8 1375.7 L1843.8 1375.7 L1845.8 1375.7 L1847.8 1375.7 L1849.8 1375.7 L1851.8 1375.7 L1853.8 1375.7 L1855.8 1375.7 L1857.8 1375.7 L1859.8 1375.7 L1861.8 1375.7 L1863.8 1375.7 L1865.8 1375.7 L1867.8 1375.7 L1869.8 1375.7 L1871.8 1375.7 L1873.8 1375.7 L1875.8 1375.7 L1877.8 1375.7 L1879.8 1375.7 L1881.8 1375.7 L1883.8 1375.7 L1885.8 1375.7 L1887.8 1375.7 L1889.8 1375.7 L1891.8 1375.7 L1893.8 1375.7 L1895.8 1375.7 L1897.8 1375.7 L1899.8 1375.7 L1901.8 1375.7 L1903.8 1375.7 L1905.8 1375.7 L1907.8 1375.7 L1909.8 1375.7 L1911.8 1375.7 L1913.8 1375.7 L1915.8 1375.7 L1917.8 1375.7 L1919.8 1375.7 L1921.8 1375.7 L1923.8 1375.7 L1925.8 1375.7 L1927.8 1375.7 L1929.8 1375.7 L1931.8 1375.7 L1933.8 1375.7 L1935.8 1375.7 L1937.8 1375.7 L1939.8 1375.7 L1941.8 1375.7 L1943.8 1375.7 L1945.8 1375.7 L1947.8 1375.7 L1949.8 1375.7 L1951.8 1375.7 L1953.8 1375.7 L1955.8 1375.7 L1957.8 1375.7 L1959.8 1375.7 L1961.8 1375.7 L1963.8 1375.7 L1965.8 1375.7 L1967.8 1375.7 L1969.8 1375.7 L1971.8 1375.7 L1973.8 1375.7 L1975.8 1375.7 L1977.8 1375.7 L1979.8 1375.7 L1981.8 1375.7 L1983.8 1375.7 L1985.8 1375.7 L1987.8 1375.7 L1989.8 1375.7 L1991.8 1375.7 L1993.8 1375.7 L1995.8 1375.7 L1997.8 1375.7 L1999.8 1375.7 L2001.8 1375.7"/>
<path class="c" stroke="#F53E3E" d="M97.8 1201.7 L99.8 1197.4 L101.8 1192.8 L103.8 1188.1 L105.8 1183.3 L107.8 1178.3 L109.8 1173.2 L111.8 1167.9 L113.8 1162.5 L115.8 1156.9 L117.8 1151.2 L119.8 1145.4 L121.8 1139.4 L123.8 1133.3 L125.8 1127.1 L127.8 1120.8 L129.8 1114.4 L131.8 1107.9 L133.8 1101.3 L135.8 1094.6 L137.8 1087.8 L139.8 1080.9 L141.8 1074.0 L143.8 1067.0 L145.8 1060.0 L147.8 1052.9 L149.8 1045.8 L151.8 1038.7 L153.8 1031.6 L155.8 1024.5 L157.8 1017.4 L159.8 1010.3 L161.8 1003.2 L163.8 996.2 L165.8 989.2 L167.8 982.3 L169.8 975.5 L171.8 968.7 L173.8 962.1 L175.8 955.5 L177.8 949.1 L179.8 942.7 L181.8 936.5 L183.8 930.4 L185.8 924.5 L187.8 918.6 L189.8 912.9 L191.8 907.3 L193.8 901.8 L195.8 896.4 L197.8 891.1 L199.8 885.9 L201.8 880.8 L203.8 875.7 L205.8 870.7 L207.8 865.7 L209.8 860.7 L211.8 855.7 L213.8 850.7 L215.8 845.6 L217.8 840.5 L219.8 835.3 L221.8 830.0 L223.8 824.6 L225.8 819.1 L227.8 813.5 L229.8 807.7 L231.8 801.8 L233.8 795.7 L235.8 789.5 L237.8 783.1 L239.8 776.6 L241.8 769.9 L243.8 763.1 L245.8 756.2 L247.8 749.2 L249.8 742.1 L251.8 734.9 L253.8 727.7 L255.8 720.5 L257.8 713.3 L259.8 706.2 L261.8 699.2 L263.8 692.4 L265.8 685.7 L267.8 679.3 L269.8 673.1 L271.8 667.3 L273.8 661.9 L275.8 657.0 L277.8 652.5 L279.8 648.6 L281.8 645.3 L283.8 642.6 L285.8 640.6 L287.8 639.3 L289.8 638.8 L291.8 639.0 L293.8 640.0 L295.8 641.7 L297.8 644.2 L299.8 647.5 L301.8 651.4 L303.8 656.0 L305.8 661.3 L307.8 667.2 L309.8 673.6 L311.8 680.5 L313.8 687.8 L315.8 695.4 L317.8 703.4 L319.8 711.7 L321.8 720.1 L323.8 728.6 L325.8 737.3 L327.8 745.9 L329.8 754.5 L331.8 763.1 L333.8 771.5 L335.8 779.8 L337.8 787.9 L339.8 795.9 L341.8 803.6 L343.8 811.0 L345.8 818.2 L347.8 825.1 L349.8 831.7 L351.8 838.1 L353.8 844.2 L355.8 850.0 L357.8 855.6 L359.8 860.9 L361.8 865.9 L363.8 870.8 L365.8 875.5 L367.8 880.1 L369.8 884.5 L371.8 888.8 L373.8 893.1 L375.8 897.4 L377.8 901.7 L379.8 906.1 L381.8 910.6 L383.8 915.1 L385.8 919.9 L387.8 924.9 L389.8 930.0 L391.8 935.5 L393.8 941.1 L395.8 947.1 L397.8 953.3 L399.8 959.8 L401.8 966.6 L403.8 973.7 L405.8 981.0 L407.8 988.5 L409.8 996.3 L411.8 1004.2 L413.8 1012.3 L415.8 1020.6 L417.8 1029.0 L419.8 1037.5 L421.8 1046.1 L423.8 1054.7 L425.8 1063.3 L427.8 1071.9 L429.8 1080.5 L431.8 1089.1 L433.8 1097.6 L435.8 1106.0 L437.8 1114.3 L439.8 1122.5 L441.8 1130.5 L443.8 1138.4 L445.8 1146.2 L447.8 1153.8 L449.8 1161.2 L451.8 1168.5 L453.8 1175.6 L455.8 1182.5 L457.8 1189.1 L459.8 1195.6 L461.8 1201.9 L463.8 1208.0 L465.8 1213.9 L467.8 1219.5 L469.8 1225.0 L471.8 1230.3 L473.8 1235.3 L475.8 1240.2 L477.8 1244.8 L479.8 1249.3 L481.8 1253.5 L483.8 1257.6 L485.8 1261.5 L487.8 1265.2 L489.8 1268.7 L491.8 1272.1 L493.8 1275.3 L495.8 1278.3 L497.8 1281.1 L499.8 1283.9 L501.8 1286.4 L503.8 1288.9 L505.8 1291.2 L507.8 1293.3 L509.8 1295.4 L511.8 1297.3 L513.8 1299.1 L515.8 1300.8 L517.8 1302.5 L519.8 1304.0 L521.8 1305.4 L523.8 1306.8 L525.8 1308.0 L527.8 1309.2 L529.8 1310.3 L531.8 1311.4 L533.8 1312.3 L535.8 1313.3 L537.8 1314.1 L539.8 1314.9 L541.8 1315.7 L543.8 1316.4 L545.8 1317.1 L547.8 1317.7 L549.8 1318.3 L551.8 1318.8 L553.8 1319.3 L555.8 1319.8 L557.8 1320.3 L559.8 1320.7 L561.8 1321.1 L563.8 1321.4 L565.8 1321.8 L567.8 1322.1 L569.8 1322.4 L571.8 1322.6 L573.8 1322.9 L575.8 1323.1 L577.8 1323.3 L579.8 1323.4 L581.8 1323.6 L583.8 1323.7 L585.8 1323.8 L587.8 1323.9 L589.8 1324.0 L591.8 1324.0 L593.8 1324.0 L595.8 1324.0 L597.8 1323.9 L599.8 1323.9 L601.8 1323.8 L603.8 1323.6 L605.8 1323.5 L607.8 1323.3 L609.8 1323.1 L611.8 1322.9 L613.8 1322.6 L615.8 1322.3 L617.8 1322.0 L619.8 1321.6 L621.8 1321.2 L623.8 1320.7 L625.8 1320.2 L627.8 1319.7 L629.8 1319.2 L631.8 1318.5 L633.8 1317.9 L635.8 1317.2 L637.8 1316.4 L639.8 1315.6 L641.8 1314.7 L643.8 1313.8 L645.8 1312.9 L647.8 1311.8 L649.8 1310.7 L651.8 1309.5 L653.8 1308.3 L655.8 1307.0 L657.8 1305.6 L659.8 1304.2 L661.8 1302.6 L663.8 1301.0 L665.8 1299.3 L667.8 1297.5 L669.8 1295.7 L671.8 1293.7 L673.8 1291.6 L675.8 1289.4 L677.8 1287.2 L679.8 1284.8 L681.8 1282.3 L683.8 1279.7 L685.8 1277.0 L687.8 1274.2 L689.8 1271.3 L691.8 1268.2 L693.8 1265.0 L695.8 1261.7 L697.8 1258.3 L699.8 1254.7 L701.8 1251.0 L703.8 1247.2 L705.8 1243.2 L707.8 1239.1 L709.8 1234.8 L711.8 1230.4 L713.8 1225.9 L715.8 1221.2 L717.8 1216.4 L719.8 1211.4 L721.8 1206.3 L723.8 1201.1 L725.8 1195.7 L727.8 1190.2 L729.8 1184.5 L731.8 1178.7 L733.8 1172.7 L735.8 1166.6 L737.8 1160.4 L739.8 1154.0 L741.8 1147.6 L743.8 1141.0 L745.8 1134.2 L747.8 1127.4 L749.8 1120.5 L751.8 1113.4 L753.8 1106.3 L755.8 1099.0 L757.8 1091.7 L759.8 1084.3 L761.8 1076.8 L763.8 1069.2 L765.8 1061.6 L767.8 1053.9 L769.8 1046.2 L771.8 1038.5 L773.8 1030.8 L775.8 1023.0 L777.8 1015.2 L779.8 1007.5 L781.8 999.8 L783.8 992.1 L785.8 984.4 L787.8 976.8 L789.8 969.3 L791.8 961.9 L793.8 954.6 L795.8 947.4 L797.8 940.4 L799.8 933.4 L801.8 926.7 L803.8 920.1 L805.8 913.7 L807.8 907.6 L809.8 901.6 L811.8 895.9 L813.8 890.5 L815.8 885.3 L817.8 880.4 L819.8 875.8 L821.8 871.6 L823.8 867.6 L825.8 864.1 L827.8 860.8 L829.8 857.9 L831.8 855.5 L833.8 853.3 L835.8 851.6 L837.8 850.3 L839.8 849.4 L841.8 848.9 L843.8 848.8 L845.8 849.1 L847.8 849.8 L849.8 851.0 L851.8 852.6 L853.8 854.6 L855.8 857.0 L857.8 859.7 L859.8 862.9 L861.8 866.4 L863.8 870.3 L865.8 874.5 L867.8 879.1 L869.8 883.9 L871.8 889.1 L873.8 894.5 L875.8 900.2 L877.8 906.1 L879.8 912.2 L881.8 918.5 L883.8 925.0 L885.8 931.7 L887.8 938.6 L889.8 945.5 L891.8 952.6 L893.8 959.8 L895.8 967.1 L897.8 974.4 L899.8 981.9 L901.8 989.3 L903.8 996.8 L905.8 1004.3 L907.8 1011.8 L909.8 1019.3 L911.8 1026.8 L913.8 1034.3 L915.8 1041.7 L917.8 1049.1 L919.8 1056.4 L921.8 1063.7 L923.8 1070.8 L925.8 1078.0 L927.8 1085.0 L929.8 1091.9 L931.8 1098.8 L933.8 1105.5 L935.8 1112.2 L937.8 1118.7 L939.8 1125.1 L941.8 1131.4 L943.8 1137.6 L945.8 1143.6 L947.8 1149.5 L949.8 1155.3 L951.8 1161.0 L953.8 1166.5 L955.8 1171.9 L957.8 1177.1 L959.8 1182.2 L961.8 1187.2 L963.8 1192.0 L965.8 1196.7 L967.8 1201.2 L969.8 1205.6 L971.8 1209.9 L973.8 1214.0 L975.8 1218.0 L977.8 1221.8 L979.8 1225.5 L981.8 1229.1 L983.8 1232.5 L985.8 1235.8 L987.8 1239.0 L989.8 1242.1 L991.8 1245.0 L993.8 1247.8 L995.8 1250.5 L997.8 1253.0 L999.8 1255.5 L1001.8 1257.8 L1003.8 1260.0 L1005.8 1262.1 L1007.8 1264.1 L1009.8 1266.0 L1011.8 1267.8 L1013.8 1269.5 L1015.8 1271.1 L1017.8 1272.5 L1019.8 1273.9 L1021.8 1275.2 L1023.8 1276.4 L1025.8 1277.6 L1027.8 1278.6 L1029.8 1279.5 L1031.8 1280.4 L1033.8 1281.2 L1035.8 1281.8 L1037.8 1282.5 L1039.8 1283.0 L1041.8 1283.4 L1043.8 1283.8 L1045.8 1284.1 L1047.8 1284.3 L1049.8 1284.5 L1051.8 1284.6 L1053.8 1284.5 L1055.8 1284.5 L1057.8 1284.3 L1059.8 1284.0 L1061.8 1283.7 L1063.8 1283.3 L1065.8 1282.8 L1067.8 1282.2 L1069.8 1281.5 L1071.8 1280.7 L1073.8 1279.8 L1075.8 1278.8 L1077.8 1277.7 L1079.8 1276.5 L1081.8 1275.2 L1083.8 1273.7 L1085.8 1272.1 L1087.8 1270.3 L1089.8 1268.4 L1091.8 1266.4 L1093.8 1264.1 L1095.8 1261.7 L1097.8 1259.0 L1099.8 1256.2 L1101.8 1253.1 L1103.8 1249.8 L1105.8 1246.3 L1107.8 1242.5 L1109.8 1238.4 L1111.8 1234.0 L1113.8 1229.3 L1115.8 1224.3 L1117.8 1219.0 L1119.8 1213.2 L1121.8 1207.1 L1123.8 1200.6 L1125.8 1193.7 L1127.8 1186.4 L1129.8 1178.6 L1131.8 1170.3 L1133.8 1161.6 L1135.8 1152.3 L1137.8 1142.5 L1139.8 1132.2 L1141.8 1121.4 L1143.8 1110.0 L1145.8 1098.0 L1147.8 1085.4 L1149.8 1072.3 L1151.8 1058.5 L1153.8 1044.2 L1155.8 1029.3 L1157.8 1013.7 L1159.8 997.5 L1161.8 980.8 L1163.8 963.5 L1165.8 945.5 L1167.8 927.1 L1169.8 908.0 L1171.8 888.5 L1173.8 868.4 L1175.8 847.9 L1177.8 826.9 L1179.8 805.5 L1181.8 783.7 L1183.8 761.6 L1185.8 739.3 L1187.8 716.7 L1189.8 694.0 L1191.8 671.2 L1193.8 648.3 L1195.8 625.6 L1197.8 602.9 L1199.8 580.6 L1201.8 558.5 L1203.8 536.9 L1205.8 515.9 L1207.8 495.5 L1209.8 475.8 L1211.8 457.1 L1213.8 439.3 L1215.8 422.6 L1217.8 407.1 L1219.8 392.8 L1221.8 379.9 L1223.8 368.4 L1225.8 358.4 L1227.8 349.9 L1229.8 342.8 L1231.8 337.3 L1233.8 333.3 L1235.8 330.7 L1237.8 329.6 L1239.8 329.7 L1241.8 331.2 L1243.8 333.9 L1245.8 337.8 L1247.8 342.8 L1249.8 348.8 L1251.8 355.8 L1253.8 363.6 L1255.8 372.1 L1257.8 381.3 L1259.8 391.0 L1261.8 401.3 L1263.8 411.9 L1265.8 422.8 L1267.8 434.0 L1269.8 445.3 L1271.8 456.6 L1273.8 467.9 L1275.8 479.2 L1277.8 490.3 L1279.8 501.3 L1281.8 512.0 L1283.8 522.5 L1285.8 532.7 L1287.8 542.6 L1289.8 552.2 L1291.8 561.5 L1293.8 570.5 L1295.8 579.2 L1297.8 587.6 L1299.8 595.7 L1301.8 603.6 L1303.8 611.2 L1305.8 618.7 L1307.8 626.0 L1309.8 633.2 L1311.8 640.3 L1313.8 647.4 L1315.8 654.5 L1317.8 661.7 L1319.8 668.9 L1321.8 676.3 L1323.8 683.9 L1325.8 691.7 L1327.8 699.8 L1329.8 708.2 L1331.8 716.8 L1333.8 725.8 L1335.8 735.1 L1337.8 744.8 L1339.8 754.7 L1341.8 765.1 L1343.8 775.7 L1345.8 786.7 L1347.8 797.9 L1349.8 809.4 L1351.8 821.2 L1353.8 833.2 L1355.8 845.4 L1357.8 857.7 L1359.8 870.2 L1361.8 882.8 L1363.8 895.4 L1365.8 908.1 L1367.8 920.9 L1369.8 933.6 L1371.8 946.3 L1373.8 958.9 L1375.8 971.5 L1377.8 984.0 L1379.8 996.3 L1381.8 1008.5 L1383.8 1020.5 L1385.8 1032.4 L1387.8 1044.1 L1389.8 1055.5 L1391.8 1066.8 L1393.8 1077.8 L1395.8 1088.6 L1397.8 1099.1 L1399.8 1109.4 L1401.8 1119.4 L1403.8 1129.1 L1405.8 1138.6 L1407.8 1147.8 L1409.8 1156.7 L1411.8 1165.3 L1413.8 1173.6 L1415.8 1181.6 L1417.8 1189.4 L1419.8 1196.9 L1421.8 1204.0 L1423.8 1210.9 L1425.8 1217.5 L1427.8 1223.9 L1429.8 1230.0 L1431.8 1235.8 L1433.8 1241.4 L1435.8 1246.7 L1437.8 1251.7 L1439.8 1256.6 L1441.8 1261.2 L1443.8 1265.5 L1445.8 1269.7 L1447.8 1273.7 L1449.8 1277.4 L1451.8 1281.0 L1453.8 1284.3 L1455.8 1287.5 L1457.8 1290.6 L1459.8 1293.4 L1461.8 1296.2 L1463.8 1298.7 L1465.8 1301.2 L1467.8 1303.5 L1469.8 1305.7 L1471.8 1307.7 L1473.8 1309.7 L1475.8 1311.5 L1477.8 1313.3 L1479.8 1314.9 L1481.8 1316.5 L1483.8 1318.0 L1485.8 1319.4 L1487.8 1320.7 L1489.8 1322.0 L1491.8 1323.2 L1493.8 1324.3 L1495.8 1325.4 L1497.8 1326.4 L1499.8 1327.4 L1501.8 1328.4 L1503.8 1329.3 L1505.8 1330.2 L1507.8 1331.1 L1509.8 1331.9 L1511.8 1332.7 L1513.8 1333.4 L1515.8 1334.1 L1517.8 1334.8 L1519.8 1335.5 L1521.8 1336.2 L1523.8 1336.8 L1525.8 1337.4 L1527.8 1338.0 L1529.8 1338.6 L1531.8 1339.1 L1533.8 1339.7 L1535.8 1340.2 L1537.8 1340.7 L1539.8 1341.2 L1541.8 1341.7 L1543.8 1342.1 L1545.8 1342.6 L1547.8 1343.1 L1549.8 1343.5 L1551.8 1343.9 L1553.8 1344.3 L1555.8 1344.7 L1557.8 1345.1 L1559.8 1345.5 L1561.8 1345.9 L1563.8 1346.3 L1565.8 1346.7 L1567.8 1347.0 L1569.8 1347.4 L1571.8 1347.7 L1573.8 1348.1 L1575.8 1348.4 L1577.8 1348.7 L1579.8 1349.0 L1581.8 1349.4 L1583.8 1349.7 L1585.8 1350.0 L1587.8 1350.3 L1589.8 1350.6 L1591.8 1350.9 L1593.8 1351.1 L1595.8 1351.4 L1597.8 1351.7 L1599.8 1352.0 L1601.8 1352.2 L1603.8 1352.5 L1605.8 1352.7 L1607.8 1353.0 L1609.8 1353.3 L1611.8 1353.5 L1613.8 1353.7 L1615.8 1354.0 L1617.8 1354.2 L1619.8 1354.4 L1621.8 1354.7 L1623.8 1354.9 L1625.8 1355.1 L1627.8 1355.3 L1629.8 1355.5 L1631.8 1355.8 L1633.8 1356.0 L1635.8 1356.2 L1637.8 1356.4 L1639.8 1356.6 L1641.8 1356.8 L1643.8 1357.0 L1645.8 1357.2 L1647.8 1357.3 L1649.8 1357.5 L1651.8 1357.7 L1653.8 1357.9 L1655.8 1358.1 L1657.8 1358.3 L1659.8 1358.4 L1661.8 1358.6 L1663.8 1358.8 L1665.8 1358.9 L1667.8 1359.1 L1669.8 1359.3 L1671.8 1359.4 L1673.8 1359.6 L1675.8 1359.8 L1677.8 1359.9 L1679.8 1360.1 L1681.8 1360.2 L1683.8 1360.4 L1685.8 1360.5 L1687.8 1360.7 L1689.8 1360.8 L1691.8 1361.0 L1693.8 1361.1 L1695.8 1361.2 L1697.8 1361.4 L1699.8 1361.5 L1701.8 1361.6 L1703.8 1361.7 L1705.8 1361.8 L1707.8 1361.9 L1709.8 1362.0 L1711.8 1362.1 L1713.8 1362.2 L1715.8 1362.3 L1717.8 1362.4 L1719.8 1362.5 L1721.8 1362.6 L1723.8 1362.7 L1725.8 1362.7 L1727.8 1362.8 L1729.8 1362.9 L1731.8 1363.0 L1733.8 1363.1 L1735.8 1363.2 L1737.8 1363.2 L1739.8 1363.3 L1741.8 1363.4 L1743.8 1363.5 L1745.8 1363.5 L1747.8 1363.6 L1749.8 1363.7 L1751.8 1363.8 L1753.8 1363.8 L1755.8 1363.9 L1757.8 1364.0 L1759.8 1364.0 L1761.8 1364.1 L1763.8 1364.2 L1765.8 1364.2 L1767.8 1364.3 L1769.8 1364.4 L1771.8 1364.4 L1773.8 1364.5 L1775.8 1364.5 L1777.8 1364.6 L1779.8 1364.7 L1781.8 1364.7 L1783.8 1364.8 L1785.8 1364.8 L1787.8 1364.9 L1789.8 1365.0 L1791.8 1365.0 L1793.8 1365.1 L1795.8 1365.1 L1797.8 1365.2 L1799.8 1365.2 L1801.8 1365.3 L1803.8 1365.3 L1805.8 1365.4 L1807.8 1365.4 L1809.8 1365.5 L1811.8 1365.5 L1813.8 1365.6 L1815.8 1365.6 L1817.8 1365.7 L1819.8 1365.7 L1821.8 1365.8 L1823.8 1365.8 L1825.8 1365.9 L1827.8 1365.9 L1829.8 1365.9 L1831.8 1366.0 L1833.8 1366.0 L1835.8 1366.1 L1837.8 1366.1 L1839.8 1366.2 L1841.8 1366.2 L1843.8 1366.2 L1845.8 1366.3 L1847.8 1366.3 L1849.8 1366.4 L1851.8 1366.4 L1853.8 1366.4 L1855.8 1366.5 L1857.8 1366.5 L1859.8 1366.5 L1861.8 1366.6 L1863.8 1366.6 L1865.8 1366.6 L1867.8 1366.7 L1869.8 1366.7 L1871.8 1366.7 L1873.8 1366.8 L1875.8 1366.8 L1877.8 1366.8 L1879.8 1366.9 L1881.8 1366.9 L1883.8 1366.9 L1885.8 1367.0 L1887.8 1367.0 L1889.8 1367.0 L1891.8 1367.1 L1893.8 1367.1 L1895.8 1367.1 L1897.8 1367.2 L1899.8 1367.2 L1901.8 1367.2 L1903.8 1367.2 L1905.8 1367.3 L1907.8 1367.3 L1909.8 1367.3 L1911.8 1367.4 L1913.8 1367.4 L1915.8 1367.4 L1917.8 1367.4 L1919.8 1367.5 L1921.8 1367.5 L1923.8 1367.5 L1925.8 1367.5 L1927.8 1367.6 L1929.8 1367.6 L1931.8 1367.6 L1933.8 1367.6 L1935.8 1367.6 L1937.8 1367.7 L1939.8 1367.7 L1941.8 1367.7 L1943.8 1367.7 L1945.8 1367.8 L1947.8 1367.8 L1949.8 1367.8 L1951.8 1367.8 L1953.8 1367.8 L1955.8 1367.9 L1957.8 1367.9 L1959.8 1367.9 L1961.8 1367.9 L1963.8 1367.9 L1965.8 1368.0 L1967.8 1368.0 L1969.8 1368.0 L1971.8 1368.0 L1973.8 1368.0 L1975.8 1368.1 L1977.8 1368.1 L1979.8 1368.1 L1981.8 1368.1 L1983.8 1368.1 L1985.8 1368.2 L1987.8 1368.2 L1989.8 1368.2 L1991.8 1368.2 L1993.8 1368.2 L1995.8 1368.2 L1997.8 1368.3 L1999.8 1368.3 L2001.8 1368.3"/>
</g>
<line class="a" x1="287.0" y1="207.7" x2="189.3" y2="1029.4"/>
<line class="a" x1="433.5" y1="419.3" x2="296.4" y2="828.0"/>
<line class="a" x1="586.3" y1="551.0" x2="402.2" y2="1061.0"/>
<line class="a" x1="1353.6" y1="366.3" x2="1229.3" y2="451.6"/>
<line class="a" x1="1526.5" y1="643.6" x2="1342.9" y2="874.4"/>
<text class="lab" style="font-family:'DejaVu Sans'"><tspan font-size="99.2" y="173.8" x="122.6 178.7 234.1 292.7 319.4 382.5">958.1 </tspan><tspan font-size="108.3" y="179.5" x="408.6">(</tspan><tspan font-size="99.2" y="173.8" x="446.3 507.4">Cu</tspan></text><text class="lab" transform="scale(0.7,1)" y="172.7" x="852.0 906.5" font-size="97.3" style="font-family:'DejaVu Sans Mono';stroke-width:2.2px">II</text><text class="lab" style="font-family:'DejaVu Sans'"><tspan font-size="108.3" y="179.5" x="670.4">)</tspan></text>
<text class="lab" style="font-family:'DejaVu Sans'"><tspan font-size="99.2" y="382.6" x="330.0 386.1 442.0 500.1 528.0">955.9</tspan></text>
<text class="lab" style="font-family:'DejaVu Sans'"><tspan font-size="99.2" y="529.7" x="482.1 538.2 593.7 652.2 679.4 742.5">953.6 </tspan><tspan font-size="108.3" y="535.4" x="767.8">(</tspan><tspan font-size="99.2" y="529.7" x="805.8 866.3 929.1 952.2">Cu 0</tspan><tspan font-size="108.3" y="535.4" x="1009.5">)</tspan></text>
<text class="lab" style="font-family:'DejaVu Sans'"><tspan font-size="99.2" y="795.0" x="732.4 788.7 845.9 900.9 926.9">944.3</tspan></text>
<text class="lab" style="font-family:'DejaVu Sans'"><tspan font-size="99.2" y="382.2" x="1370.7 1426.4 1481.8 1540.8 1569.7 1632.8">936.2 </tspan><tspan font-size="108.3" y="387.9" x="1656.7">(</tspan><tspan font-size="99.2" y="382.2" x="1694.4 1755.5">Cu</tspan></text><text class="lab" transform="scale(0.7,1)" y="381.1" x="2635.0 2689.5" font-size="97.3" style="font-family:'DejaVu Sans Mono';stroke-width:2.2px">II</text><text class="lab" style="font-family:'DejaVu Sans'"><tspan font-size="108.3" y="387.9" x="1918.5">)</tspan></text>
<text class="lab" style="font-family:'DejaVu Sans'"><tspan font-size="99.2" y="600.5" x="1385.2 1440.9 1496.8 1555.3 1582.9 1646.0">933.8 </tspan><tspan font-size="108.3" y="606.2" x="1670.9">(</tspan><tspan font-size="99.2" y="600.5" x="1708.9 1769.4 1832.2 1855.3">Cu 0</tspan><tspan font-size="108.3" y="606.2" x="1912.6">)</tspan></text>
<text class="lab" transform="scale(0.95,1)" style="font-family:'DejaVu Sans';stroke-width:0.4px"><tspan font-size="99.8" y="150.6" x="1596.7 1661.2 1723.0 1759.6 1821.7 1890.7 1964.7 2026.2">Cu-BNNTs</tspan></text>
<text class="lab" style="font-family:'DejaVu Sans Condensed';stroke-width:0.9px"><tspan font-size="100.7" y="1799.8" x="558.3 618.0 642.1 696.8 752.2 774.5 830.8 888.4 922.1 979.2 1034.0 1089.3 1126.8 1178.4 1232.0">Binding Energy </tspan><tspan font-size="110" y="1805.5" x="1261.9">(</tspan><tspan font-size="100.7" y="1799.8" x="1296.1 1346.5">eV</tspan><tspan font-size="110" y="1805.5" x="1407.4">)</tspan></text>
<text class="tick" x="98.5" y="1685.2" font-size="103" text-anchor="middle">960</text>
<text class="tick" x="573.8" y="1685.2" font-size="103" text-anchor="middle">950</text>
<text class="tick" x="1049.2" y="1685.2" font-size="103" text-anchor="middle">940</text>
<text class="tick" x="1524.6" y="1685.2" font-size="103" text-anchor="middle">930</text>
<text class="tick" x="2000.0" y="1685.2" font-size="103" text-anchor="middle">920</text>
</svg></body></html>
